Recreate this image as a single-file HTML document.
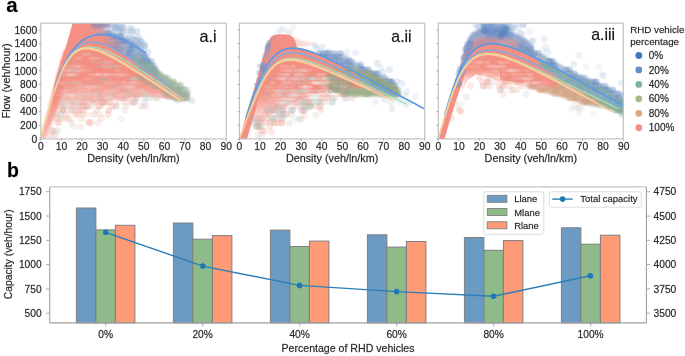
<!DOCTYPE html><html><head><meta charset="utf-8"><style>html,body{margin:0;padding:0;background:#fff;}svg{display:block;will-change:transform;filter:blur(0.35px)}text{font-family:"Liberation Sans",sans-serif;stroke:#262626;stroke-width:0.3px;stroke-opacity:0.6}</style></head><body>
<svg width="685" height="356" viewBox="0 0 685 356">
<rect width="685" height="356" fill="#fff"/>
<defs><filter id="b05" x="-10%" y="-10%" width="120%" height="120%"><feGaussianBlur stdDeviation="0.5"/></filter><filter id="b1" x="-20%" y="-20%" width="140%" height="140%"><feGaussianBlur stdDeviation="1.2"/></filter><filter id="b2" x="-20%" y="-20%" width="140%" height="140%"><feGaussianBlur stdDeviation="2.5"/></filter><clipPath id="c0"><rect x="40.8" y="23.2" width="185.4" height="115.7"/></clipPath><clipPath id="c1"><rect x="239.4" y="23.2" width="185.3" height="115.7"/></clipPath><clipPath id="c2"><rect x="438.3" y="23.2" width="185.0" height="115.7"/></clipPath></defs>
<text x="6.3" y="12.2" font-size="20.5" font-weight="bold" fill="#000">a</text>
<text x="7.1" y="177.3" font-size="19.5" font-weight="bold" fill="#000">b</text>
<defs><linearGradient id="h1b" gradientUnits="userSpaceOnUse" x1="92" y1="0" x2="146" y2="0"><stop offset="0.000" stop-color="#8aa3ca" stop-opacity="0.55"/><stop offset="0.333" stop-color="#8aa3ca" stop-opacity="0.3"/><stop offset="0.704" stop-color="#8aa3ca" stop-opacity="0.18"/><stop offset="1.000" stop-color="#8aa3ca" stop-opacity="0.1"/></linearGradient><linearGradient id="h1c" gradientUnits="userSpaceOnUse" x1="86" y1="0" x2="108" y2="0"><stop offset="0.000" stop-color="#f38f83" stop-opacity="1"/><stop offset="0.364" stop-color="#f38f83" stop-opacity="0.9"/><stop offset="0.727" stop-color="#f38f83" stop-opacity="0.55"/><stop offset="1.000" stop-color="#f38f83" stop-opacity="0.15"/></linearGradient><linearGradient id="g1" gradientUnits="userSpaceOnUse" x1="0" y1="55" x2="0" y2="112"><stop offset="0.000" stop-color="#f38f83" stop-opacity="1"/><stop offset="0.351" stop-color="#f38f83" stop-opacity="1"/><stop offset="0.526" stop-color="#f38f83" stop-opacity="0.9"/><stop offset="0.667" stop-color="#f38f83" stop-opacity="0.75"/><stop offset="0.789" stop-color="#f38f83" stop-opacity="0.5"/><stop offset="0.895" stop-color="#f38f83" stop-opacity="0.25"/><stop offset="1.000" stop-color="#f38f83" stop-opacity="0.05"/></linearGradient><linearGradient id="g1lb" gradientUnits="userSpaceOnUse" x1="0" y1="50" x2="0" y2="139"><stop offset="0.000" stop-color="#f38f83" stop-opacity="1"/><stop offset="0.506" stop-color="#f38f83" stop-opacity="1"/><stop offset="0.730" stop-color="#f38f83" stop-opacity="0.8"/><stop offset="1.000" stop-color="#f38f83" stop-opacity="0.6"/></linearGradient><linearGradient id="h1" gradientUnits="userSpaceOnUse" x1="80" y1="0" x2="130" y2="0"><stop offset="0.000" stop-color="#f38f83" stop-opacity="1"/><stop offset="0.400" stop-color="#f38f83" stop-opacity="1"/><stop offset="0.600" stop-color="#f38f83" stop-opacity="0.6"/><stop offset="0.800" stop-color="#f38f83" stop-opacity="0.25"/><stop offset="1.000" stop-color="#f38f83" stop-opacity="0"/></linearGradient><linearGradient id="h2" gradientUnits="userSpaceOnUse" x1="352" y1="0" x2="399" y2="0"><stop offset="0.000" stop-color="#80a39a" stop-opacity="0"/><stop offset="0.383" stop-color="#80a39a" stop-opacity="0.35"/><stop offset="1.000" stop-color="#80a39a" stop-opacity="0.5"/></linearGradient><linearGradient id="g2" gradientUnits="userSpaceOnUse" x1="0" y1="60" x2="0" y2="127"><stop offset="0.000" stop-color="#f38f83" stop-opacity="1"/><stop offset="0.418" stop-color="#f38f83" stop-opacity="1"/><stop offset="0.567" stop-color="#f38f83" stop-opacity="0.85"/><stop offset="0.687" stop-color="#f38f83" stop-opacity="0.65"/><stop offset="0.791" stop-color="#f38f83" stop-opacity="0.45"/><stop offset="0.896" stop-color="#f38f83" stop-opacity="0.22"/><stop offset="1.000" stop-color="#f38f83" stop-opacity="0.05"/></linearGradient><linearGradient id="h3" gradientUnits="userSpaceOnUse" x1="565" y1="0" x2="624" y2="0"><stop offset="0.000" stop-color="#84a89c" stop-opacity="0"/><stop offset="0.424" stop-color="#84a89c" stop-opacity="0.45"/><stop offset="1.000" stop-color="#84a89c" stop-opacity="0.6"/></linearGradient><linearGradient id="g3" gradientUnits="userSpaceOnUse" x1="0" y1="40" x2="0" y2="92"><stop offset="0.000" stop-color="#f38f83" stop-opacity="1"/><stop offset="0.538" stop-color="#f38f83" stop-opacity="1"/><stop offset="0.635" stop-color="#f38f83" stop-opacity="0.8"/><stop offset="0.731" stop-color="#f38f83" stop-opacity="0.5"/><stop offset="0.827" stop-color="#f38f83" stop-opacity="0.35"/><stop offset="0.923" stop-color="#f38f83" stop-opacity="0.2"/><stop offset="1.000" stop-color="#f38f83" stop-opacity="0.04"/></linearGradient></defs>
<g clip-path="url(#c0)">
<g fill-opacity="0.3">
<circle cx="99.8" cy="27.2" r="3.4" fill="#9db4d6"/>
<circle cx="131.8" cy="31.8" r="3.4" fill="#a3bcdc"/>
<circle cx="132.2" cy="39.4" r="3.4" fill="#8eaad0"/>
<circle cx="140.1" cy="40.6" r="3.4" fill="#95b0d4"/>
<circle cx="125.9" cy="38.5" r="3.4" fill="#a3bcdc"/>
<circle cx="121.2" cy="31.9" r="3.4" fill="#9db4d6"/>
<circle cx="119.2" cy="27.7" r="3.4" fill="#95b0d4"/>
<circle cx="132.4" cy="29.5" r="3.4" fill="#a3bcdc"/>
<circle cx="97.8" cy="29.4" r="3.4" fill="#8eaad0"/>
<circle cx="144.9" cy="45.3" r="3.4" fill="#9db4d6"/>
<circle cx="114.3" cy="23.5" r="3.4" fill="#a3bcdc"/>
<circle cx="99.0" cy="24.1" r="3.4" fill="#bccde6"/>
<circle cx="141.7" cy="41.8" r="3.4" fill="#9db4d6"/>
<circle cx="112.7" cy="33.2" r="3.4" fill="#a3bcdc"/>
<circle cx="100.8" cy="28.5" r="3.4" fill="#8eaad0"/>
<circle cx="121.2" cy="27.1" r="3.4" fill="#95b0d4"/>
<circle cx="101.0" cy="23.6" r="3.4" fill="#a3bcdc"/>
<circle cx="107.7" cy="33.1" r="3.4" fill="#b0c6e2"/>
<circle cx="119.5" cy="33.1" r="3.4" fill="#9db4d6"/>
<circle cx="136.1" cy="40.5" r="3.4" fill="#8eaad0"/>
<circle cx="115.4" cy="28.2" r="3.4" fill="#9db4d6"/>
<circle cx="109.2" cy="34.4" r="3.4" fill="#bccde6"/>
<circle cx="130.4" cy="28.1" r="3.4" fill="#a3bcdc"/>
<circle cx="122.9" cy="25.5" r="3.4" fill="#b0c6e2"/>
<circle cx="129.0" cy="30.4" r="3.4" fill="#b0c6e2"/>
<circle cx="98.1" cy="26.7" r="3.4" fill="#b0c6e2"/>
<circle cx="115.0" cy="27.2" r="3.4" fill="#a3bcdc"/>
<circle cx="113.0" cy="35.6" r="3.4" fill="#9db4d6"/>
<circle cx="148.0" cy="52.0" r="3.4" fill="#a3bcdc"/>
<circle cx="139.5" cy="44.9" r="3.4" fill="#8eaad0"/>
<circle cx="137.1" cy="31.6" r="3.4" fill="#8eaad0"/>
<circle cx="122.9" cy="32.1" r="3.4" fill="#95b0d4"/>
<circle cx="128.7" cy="42.3" r="3.4" fill="#bccde6"/>
<circle cx="132.4" cy="39.6" r="3.4" fill="#95b0d4"/>
<circle cx="101.2" cy="33.4" r="3.4" fill="#bccde6"/>
<circle cx="138.3" cy="43.4" r="3.4" fill="#8eaad0"/>
<circle cx="144.7" cy="47.2" r="3.4" fill="#95b0d4"/>
<circle cx="116.8" cy="27.9" r="3.4" fill="#9db4d6"/>
<circle cx="143.3" cy="45.1" r="3.4" fill="#9db4d6"/>
<circle cx="136.2" cy="40.9" r="3.4" fill="#a3bcdc"/>
<circle cx="138.3" cy="37.3" r="3.4" fill="#9db4d6"/>
<circle cx="116.0" cy="25.9" r="3.4" fill="#a3bcdc"/>
<circle cx="129.4" cy="37.6" r="3.4" fill="#b0c6e2"/>
<circle cx="123.0" cy="27.3" r="3.4" fill="#95b0d4"/>
<circle cx="105.2" cy="23.4" r="3.4" fill="#8eaad0"/>
</g>
<path d="M96.0,32.0 L98.1,31.7 L100.3,31.6 L102.4,31.6 L104.6,31.8 L106.7,32.0 L108.8,32.4 L111.0,32.9 L113.1,33.4 L115.2,34.1 L117.4,34.8 L119.5,35.6 L121.7,36.5 L123.8,37.4 L125.9,38.4 L128.1,39.5 L130.2,40.6 L132.3,41.7 L134.5,42.9 L136.6,44.2 L138.8,45.5 L140.9,47.4 L143.0,50.0 L145.2,52.7 L147.3,55.4 L149.4,58.2 L151.6,61.0 L153.7,63.8 L155.9,66.6 L158.0,69.5 L158.0,80.5 L155.9,79.0 L153.7,77.5 L151.6,76.0 L149.4,74.5 L147.3,73.1 L145.2,71.6 L143.0,70.1 L140.9,68.7 L138.8,67.2 L136.6,65.8 L134.5,64.4 L132.3,63.0 L130.2,61.6 L128.1,60.3 L125.9,58.9 L123.8,57.6 L121.7,56.3 L119.5,55.1 L117.4,53.9 L115.2,52.7 L113.1,51.6 L111.0,50.5 L108.8,49.5 L106.7,48.6 L104.6,47.8 L102.4,47.0 L100.3,46.4 L98.1,45.8 L96.0,45.4Z" fill="#7091bf" fill-opacity="0.7" filter="url(#b1)"/>
<g fill-opacity="0.3">
<circle cx="154.9" cy="73.6" r="3.3" fill="#7b9cc8"/>
<circle cx="156.8" cy="73.6" r="3.3" fill="#5f86bd"/>
<circle cx="143.8" cy="69.5" r="3.3" fill="#5a80b8"/>
<circle cx="145.1" cy="69.5" r="3.3" fill="#6b8fc0"/>
<circle cx="152.4" cy="69.5" r="3.3" fill="#6b8fc0"/>
<circle cx="154.7" cy="69.5" r="3.3" fill="#5f86bd"/>
<circle cx="136.5" cy="65.5" r="3.3" fill="#5a80b8"/>
<circle cx="139.3" cy="65.5" r="3.3" fill="#6b8fc0"/>
<circle cx="141.5" cy="65.5" r="3.3" fill="#7b9cc8"/>
<circle cx="142.8" cy="65.5" r="3.3" fill="#5f86bd"/>
<circle cx="147.7" cy="65.5" r="3.3" fill="#5a80b8"/>
<circle cx="153.3" cy="65.5" r="3.3" fill="#7b9cc8"/>
<circle cx="131.6" cy="61.4" r="3.3" fill="#5f86bd"/>
<circle cx="135.1" cy="61.4" r="3.3" fill="#5f86bd"/>
<circle cx="137.8" cy="61.4" r="3.3" fill="#7b9cc8"/>
<circle cx="140.2" cy="61.4" r="3.3" fill="#6b8fc0"/>
<circle cx="143.2" cy="61.4" r="3.3" fill="#5a80b8"/>
<circle cx="147.6" cy="61.4" r="3.3" fill="#5a80b8"/>
<circle cx="151.6" cy="61.4" r="3.3" fill="#6b8fc0"/>
<circle cx="124.8" cy="57.3" r="3.3" fill="#5f86bd"/>
<circle cx="128.1" cy="57.3" r="3.3" fill="#7b9cc8"/>
<circle cx="133.5" cy="57.3" r="3.3" fill="#7b9cc8"/>
<circle cx="135.4" cy="57.3" r="3.3" fill="#5f86bd"/>
<circle cx="143.9" cy="57.3" r="3.3" fill="#6b8fc0"/>
<circle cx="146.0" cy="57.3" r="3.3" fill="#7b9cc8"/>
<circle cx="119.0" cy="53.2" r="3.3" fill="#5f86bd"/>
<circle cx="128.2" cy="53.2" r="3.3" fill="#5f86bd"/>
<circle cx="129.9" cy="53.2" r="3.3" fill="#6b8fc0"/>
<circle cx="140.3" cy="53.2" r="3.3" fill="#7b9cc8"/>
<circle cx="109.3" cy="49.1" r="3.3" fill="#7b9cc8"/>
<circle cx="112.2" cy="49.1" r="3.3" fill="#6b8fc0"/>
<circle cx="114.2" cy="49.1" r="3.3" fill="#5a80b8"/>
<circle cx="115.9" cy="49.1" r="3.3" fill="#6b8fc0"/>
<circle cx="121.3" cy="49.1" r="3.3" fill="#5f86bd"/>
<circle cx="129.5" cy="49.1" r="3.3" fill="#7b9cc8"/>
<circle cx="130.6" cy="49.1" r="3.3" fill="#5f86bd"/>
<circle cx="132.8" cy="49.1" r="3.3" fill="#7b9cc8"/>
<circle cx="96.7" cy="45.1" r="3.3" fill="#5f86bd"/>
<circle cx="100.8" cy="45.1" r="3.3" fill="#6b8fc0"/>
<circle cx="103.3" cy="45.1" r="3.3" fill="#5f86bd"/>
<circle cx="104.9" cy="45.1" r="3.3" fill="#5f86bd"/>
<circle cx="107.4" cy="45.1" r="3.3" fill="#6b8fc0"/>
<circle cx="108.8" cy="45.1" r="3.3" fill="#6b8fc0"/>
<circle cx="111.6" cy="45.1" r="3.3" fill="#7b9cc8"/>
<circle cx="113.2" cy="45.1" r="3.3" fill="#6b8fc0"/>
<circle cx="115.5" cy="45.1" r="3.3" fill="#5a80b8"/>
<circle cx="117.1" cy="45.1" r="3.3" fill="#6b8fc0"/>
<circle cx="118.8" cy="45.1" r="3.3" fill="#7b9cc8"/>
<circle cx="132.4" cy="45.1" r="3.3" fill="#5a80b8"/>
<circle cx="96.3" cy="41.0" r="3.3" fill="#5a80b8"/>
<circle cx="98.4" cy="41.0" r="3.3" fill="#5f86bd"/>
<circle cx="100.7" cy="41.0" r="3.3" fill="#5a80b8"/>
<circle cx="106.6" cy="41.0" r="3.3" fill="#6b8fc0"/>
<circle cx="109.3" cy="41.0" r="3.3" fill="#7b9cc8"/>
<circle cx="116.1" cy="41.0" r="3.3" fill="#6b8fc0"/>
<circle cx="117.6" cy="41.0" r="3.3" fill="#7b9cc8"/>
<circle cx="120.5" cy="41.0" r="3.3" fill="#5f86bd"/>
<circle cx="123.4" cy="41.0" r="3.3" fill="#5f86bd"/>
<circle cx="125.9" cy="41.0" r="3.3" fill="#5f86bd"/>
<circle cx="98.3" cy="36.9" r="3.3" fill="#7b9cc8"/>
<circle cx="103.2" cy="36.9" r="3.3" fill="#6b8fc0"/>
<circle cx="104.7" cy="36.9" r="3.3" fill="#7b9cc8"/>
<circle cx="112.6" cy="36.9" r="3.3" fill="#5a80b8"/>
<circle cx="114.7" cy="36.9" r="3.3" fill="#5f86bd"/>
<circle cx="119.6" cy="36.9" r="3.3" fill="#5f86bd"/>
<circle cx="120.8" cy="36.9" r="3.3" fill="#5f86bd"/>
<circle cx="96.6" cy="32.8" r="3.3" fill="#5f86bd"/>
<circle cx="102.7" cy="32.8" r="3.3" fill="#6b8fc0"/>
<circle cx="107.4" cy="32.8" r="3.3" fill="#7b9cc8"/>
<circle cx="108.5" cy="32.8" r="3.3" fill="#5a80b8"/>
</g>
<path d="M92.0,23.0 L93.9,23.0 L95.7,23.0 L97.6,23.0 L99.4,23.0 L101.3,23.0 L103.2,23.0 L105.0,23.0 L106.9,23.0 L108.8,23.0 L110.6,23.0 L112.5,23.3 L114.3,23.8 L116.2,24.4 L118.1,25.0 L119.9,25.8 L121.8,26.5 L123.7,27.3 L125.5,28.2 L127.4,29.1 L129.2,30.1 L131.1,31.1 L133.0,32.1 L134.8,33.1 L136.7,34.2 L138.6,35.4 L140.4,36.5 L142.3,37.7 L144.1,38.9 L146.0,40.2 L146.0,53.2 L144.1,51.9 L142.3,50.7 L140.4,49.5 L138.6,48.4 L136.7,47.2 L134.8,46.1 L133.0,45.1 L131.1,44.1 L129.2,43.1 L127.4,42.1 L125.5,41.2 L123.7,40.3 L121.8,39.5 L119.9,38.8 L118.1,38.0 L116.2,37.4 L114.3,36.8 L112.5,36.3 L110.6,35.8 L108.8,35.4 L106.9,35.1 L105.0,34.8 L103.2,34.7 L101.3,34.6 L99.4,34.6 L97.6,34.8 L95.7,35.0 L93.9,35.4 L92.0,35.8Z" fill="url(#h1b)" fill-opacity="1" filter="url(#b1)"/>
<path d="M86.0,23.0 L104.0,23.0 L108.0,28.0 L108.0,35.2 L105.4,34.9 L102.9,34.6 L100.3,34.6 L97.7,34.7 L95.1,35.1 L92.6,35.7 L90.0,36.5Z" fill="url(#h1c)" fill-opacity="1" filter="url(#b1)"/>
<path d="M76.0,23.0 L110.0,23.0 L112.0,27.5 L92.0,28.5 L78.0,27.0Z" fill="#8582b6" fill-opacity="0.65" filter="url(#b1)"/>
<path d="M135.0,55.7 L136.9,56.9 L138.8,58.1 L140.7,59.2 L142.6,60.4 L144.5,61.6 L146.4,62.8 L148.3,64.1 L150.2,65.3 L152.1,66.5 L154.0,67.7 L155.9,69.0 L157.8,70.2 L159.7,71.5 L161.6,72.7 L163.4,74.0 L165.3,75.2 L167.2,76.5 L169.1,77.7 L171.0,79.0 L172.9,80.3 L174.8,81.5 L176.7,82.8 L178.6,84.1 L180.5,85.3 L182.4,86.6 L184.3,87.9 L186.2,89.1 L188.1,90.4 L190.0,91.7 L190.0,101.0 L188.1,101.0 L186.2,101.0 L184.3,101.0 L182.4,101.0 L180.5,101.0 L178.6,101.0 L176.7,101.0 L174.8,101.0 L172.9,99.8 L171.0,98.6 L169.1,97.3 L167.2,96.1 L165.3,94.8 L163.4,93.6 L161.6,92.3 L159.7,91.1 L157.8,89.9 L155.9,88.6 L154.0,87.4 L152.1,86.2 L150.2,84.9 L148.3,83.7 L146.4,82.5 L144.5,81.3 L142.6,80.0 L140.7,78.8 L138.8,77.6 L136.9,76.4 L135.0,75.2Z" fill="#8eab93" fill-opacity="0.8" filter="url(#b1)"/>
<g fill-opacity="0.35">
<circle cx="172.9" cy="87.1" r="3.4" fill="#c5d2c0"/>
<circle cx="183.8" cy="89.6" r="3.4" fill="#bccbd4"/>
<circle cx="181.0" cy="97.3" r="3.4" fill="#bccbd4"/>
<circle cx="167.8" cy="97.0" r="3.4" fill="#b8cbb8"/>
<circle cx="178.5" cy="95.2" r="3.4" fill="#d9d2c4"/>
<circle cx="191.8" cy="100.4" r="3.4" fill="#bccbd4"/>
<circle cx="176.6" cy="93.0" r="3.4" fill="#d9d2c4"/>
<circle cx="166.4" cy="86.3" r="3.4" fill="#d9d2c4"/>
<circle cx="177.6" cy="100.0" r="3.4" fill="#bccbd4"/>
<circle cx="187.6" cy="89.9" r="3.4" fill="#d9d2c4"/>
<circle cx="184.6" cy="90.5" r="3.4" fill="#d9d2c4"/>
<circle cx="174.5" cy="85.5" r="3.4" fill="#c5d2c0"/>
<circle cx="181.1" cy="84.9" r="3.4" fill="#d9d2c4"/>
<circle cx="179.8" cy="85.1" r="3.4" fill="#c5d2c0"/>
</g>
<path d="M40.8,139.0 L44.0,125.0 L48.0,110.0 L52.0,95.0 L55.5,80.0 L60.5,62.0 L63.0,55.7 L66.4,44.5 L69.8,33.2 L72.6,23.0 L90.0,23.0 L93.0,29.0 L95.0,36.1 L97.0,35.8 L99.0,35.6 L101.0,35.6 L106.0,45.3 L109.7,46.9 L113.4,48.7 L117.1,50.7 L120.7,52.8 L124.4,55.0 L128.1,57.3 L131.8,59.6 L135.5,62.0 L139.2,64.5 L142.8,67.0 L146.5,69.5 L150.2,72.1 L153.9,74.6 L157.6,77.2 L161.3,79.8 L164.9,82.4 L168.6,85.1 L172.3,87.7 L176.0,90.4 L182.0,93.0 L186.0,98.5 L185.0,101.0 L175.0,100.0 L160.0,98.0 L145.0,97.0 L130.0,98.0 L115.0,100.0 L100.0,102.0 L85.0,104.0 L72.0,107.0 L62.0,113.0 L55.0,122.0 L50.0,132.0 L47.0,139.0Z" fill="url(#g1)" fill-opacity="1" filter="url(#b05)"/>
<path d="M40.8,139.0 L44.0,125.0 L48.0,110.0 L52.0,95.0 L55.5,80.0 L60.5,62.0 L64.0,50.0 L72.0,50.0 L69.0,64.0 L66.0,80.0 L62.0,96.0 L56.5,112.0 L49.5,128.0 L45.0,139.0Z" fill="url(#g1lb)" fill-opacity="1" filter="url(#b1)"/>
<path d="M80.0,43.0 L82.1,41.4 L84.1,39.9 L86.2,38.7 L88.3,37.7 L90.3,36.9 L92.4,36.2 L94.5,35.7 L96.6,35.4 L98.6,35.2 L100.7,35.1 L102.8,35.1 L104.8,35.3 L106.9,35.6 L109.0,35.9 L111.0,36.4 L113.1,36.9 L115.2,37.5 L117.2,38.2 L119.3,39.0 L121.4,39.9 L123.4,40.7 L125.5,41.7 L127.6,42.7 L129.7,43.8 L131.7,44.9 L133.8,46.0 L135.9,47.2 L137.9,48.5 L140.0,49.8 L140.0,66.1 L137.9,64.7 L135.9,63.3 L133.8,61.9 L131.7,60.6 L129.7,59.3 L127.6,57.9 L125.5,56.7 L123.4,55.4 L121.4,54.2 L119.3,53.0 L117.2,51.8 L115.2,50.7 L113.1,49.6 L111.0,48.6 L109.0,47.6 L106.9,46.7 L104.8,45.9 L102.8,45.1 L100.7,44.5 L98.6,43.9 L96.6,43.5 L94.5,43.2 L92.4,43.1 L90.3,43.1 L88.3,43.3 L86.2,43.8 L84.1,44.4 L82.1,45.4 L80.0,46.6Z" fill="url(#h1)" fill-opacity="1" filter="url(#b05)"/>
<g fill-opacity="0.15" filter="url(#b05)">
<ellipse cx="107.1" cy="62.4" rx="6.7" ry="1.9" fill="#e8ece6"/>
<ellipse cx="140.5" cy="90.9" rx="3.5" ry="1.9" fill="#eef0f4"/>
<ellipse cx="65.2" cy="70.5" rx="5.9" ry="1.9" fill="#eef0f4"/>
<ellipse cx="107.1" cy="95.0" rx="6.6" ry="1.9" fill="#e8ece6"/>
<ellipse cx="96.2" cy="58.3" rx="4.7" ry="1.9" fill="#eef0f4"/>
<ellipse cx="77.6" cy="82.8" rx="4.9" ry="1.9" fill="#e8ece6"/>
<ellipse cx="62.6" cy="82.8" rx="4.5" ry="1.9" fill="#ffffff"/>
<ellipse cx="78.7" cy="95.0" rx="6.2" ry="1.9" fill="#ffffff"/>
<ellipse cx="74.1" cy="66.5" rx="5.6" ry="1.9" fill="#f6e8e6"/>
<ellipse cx="89.6" cy="86.9" rx="5.6" ry="1.9" fill="#f6e8e6"/>
<ellipse cx="148.9" cy="95.0" rx="3.6" ry="1.9" fill="#e8ece6"/>
<ellipse cx="141.5" cy="90.9" rx="4.6" ry="1.9" fill="#f6e8e6"/>
<ellipse cx="119.8" cy="74.6" rx="6.4" ry="1.9" fill="#ffffff"/>
<ellipse cx="79.8" cy="103.2" rx="6.2" ry="1.9" fill="#e8ece6"/>
<ellipse cx="105.0" cy="90.9" rx="5.5" ry="1.9" fill="#e8ece6"/>
<ellipse cx="67.5" cy="74.6" rx="7.0" ry="1.9" fill="#ffffff"/>
<ellipse cx="71.0" cy="74.6" rx="5.9" ry="1.9" fill="#eef0f4"/>
<ellipse cx="102.3" cy="74.6" rx="6.9" ry="1.9" fill="#ffffff"/>
<ellipse cx="116.0" cy="66.5" rx="6.0" ry="1.9" fill="#eef0f4"/>
<ellipse cx="113.7" cy="74.6" rx="3.3" ry="1.9" fill="#ffffff"/>
<ellipse cx="106.0" cy="82.8" rx="3.1" ry="1.9" fill="#eef0f4"/>
<ellipse cx="151.4" cy="95.0" rx="4.0" ry="1.9" fill="#f6e8e6"/>
<ellipse cx="80.0" cy="70.5" rx="4.2" ry="1.9" fill="#eef0f4"/>
<ellipse cx="157.3" cy="95.0" rx="5.5" ry="1.9" fill="#ffffff"/>
<ellipse cx="135.5" cy="90.9" rx="3.1" ry="1.9" fill="#ffffff"/>
<ellipse cx="119.9" cy="86.9" rx="4.2" ry="1.9" fill="#eef0f4"/>
<ellipse cx="81.7" cy="86.9" rx="6.0" ry="1.9" fill="#eef0f4"/>
<ellipse cx="134.0" cy="82.8" rx="5.8" ry="1.9" fill="#e8ece6"/>
<ellipse cx="134.7" cy="78.7" rx="4.7" ry="1.9" fill="#eef0f4"/>
<ellipse cx="148.4" cy="95.0" rx="6.4" ry="1.9" fill="#eef0f4"/>
<ellipse cx="69.8" cy="95.0" rx="5.8" ry="1.9" fill="#e8ece6"/>
<ellipse cx="91.3" cy="58.3" rx="3.0" ry="1.9" fill="#eef0f4"/>
<ellipse cx="73.3" cy="70.5" rx="6.5" ry="1.9" fill="#f6e8e6"/>
<ellipse cx="117.7" cy="70.5" rx="3.3" ry="1.9" fill="#e8ece6"/>
<ellipse cx="82.4" cy="95.0" rx="5.2" ry="1.9" fill="#e8ece6"/>
<ellipse cx="86.9" cy="90.9" rx="4.2" ry="1.9" fill="#f6e8e6"/>
<ellipse cx="99.3" cy="99.1" rx="6.5" ry="1.9" fill="#e8ece6"/>
<ellipse cx="131.1" cy="90.9" rx="3.6" ry="1.9" fill="#e8ece6"/>
<ellipse cx="70.2" cy="95.0" rx="4.2" ry="1.9" fill="#ffffff"/>
<ellipse cx="99.0" cy="95.0" rx="6.5" ry="1.9" fill="#eef0f4"/>
<ellipse cx="61.7" cy="95.0" rx="5.6" ry="1.9" fill="#f6e8e6"/>
<ellipse cx="107.9" cy="99.1" rx="4.6" ry="1.9" fill="#f6e8e6"/>
<ellipse cx="124.0" cy="82.8" rx="3.4" ry="1.9" fill="#ffffff"/>
<ellipse cx="93.3" cy="74.6" rx="6.4" ry="1.9" fill="#f6e8e6"/>
<ellipse cx="80.1" cy="90.9" rx="3.4" ry="1.9" fill="#e8ece6"/>
<ellipse cx="105.6" cy="74.6" rx="4.0" ry="1.9" fill="#eef0f4"/>
<ellipse cx="88.2" cy="78.7" rx="4.1" ry="1.9" fill="#f6e8e6"/>
<ellipse cx="123.2" cy="74.6" rx="6.9" ry="1.9" fill="#f6e8e6"/>
<ellipse cx="115.6" cy="90.9" rx="4.1" ry="1.9" fill="#e8ece6"/>
<ellipse cx="79.0" cy="58.3" rx="4.2" ry="1.9" fill="#eef0f4"/>
<ellipse cx="76.7" cy="74.6" rx="3.2" ry="1.9" fill="#e8ece6"/>
<ellipse cx="97.7" cy="74.6" rx="3.6" ry="1.9" fill="#ffffff"/>
<ellipse cx="74.6" cy="66.5" rx="5.8" ry="1.9" fill="#e8ece6"/>
<ellipse cx="99.7" cy="95.0" rx="3.6" ry="1.9" fill="#e8ece6"/>
<ellipse cx="98.5" cy="86.9" rx="5.4" ry="1.9" fill="#e8ece6"/>
<ellipse cx="86.0" cy="70.5" rx="6.1" ry="1.9" fill="#e8ece6"/>
<ellipse cx="80.6" cy="66.5" rx="4.1" ry="1.9" fill="#ffffff"/>
<ellipse cx="152.3" cy="99.1" rx="5.6" ry="1.9" fill="#e8ece6"/>
<ellipse cx="72.5" cy="74.6" rx="5.3" ry="1.9" fill="#e8ece6"/>
<ellipse cx="121.6" cy="95.0" rx="6.3" ry="1.9" fill="#ffffff"/>
<ellipse cx="86.1" cy="95.0" rx="4.4" ry="1.9" fill="#ffffff"/>
<ellipse cx="85.9" cy="54.2" rx="4.9" ry="1.9" fill="#f6e8e6"/>
<ellipse cx="129.3" cy="86.9" rx="4.8" ry="1.9" fill="#eef0f4"/>
<ellipse cx="108.0" cy="74.6" rx="4.4" ry="1.9" fill="#e8ece6"/>
<ellipse cx="62.1" cy="66.5" rx="6.1" ry="1.9" fill="#e8ece6"/>
<ellipse cx="91.6" cy="86.9" rx="6.0" ry="1.9" fill="#eef0f4"/>
<ellipse cx="127.7" cy="86.9" rx="5.8" ry="1.9" fill="#f6e8e6"/>
<ellipse cx="131.6" cy="86.9" rx="4.6" ry="1.9" fill="#e8ece6"/>
<ellipse cx="63.8" cy="90.9" rx="4.4" ry="1.9" fill="#eef0f4"/>
<ellipse cx="106.1" cy="66.5" rx="5.1" ry="1.9" fill="#ffffff"/>
<ellipse cx="77.9" cy="99.1" rx="4.7" ry="1.9" fill="#eef0f4"/>
<ellipse cx="134.5" cy="78.7" rx="4.0" ry="1.9" fill="#eef0f4"/>
<ellipse cx="112.3" cy="82.8" rx="6.8" ry="1.9" fill="#e8ece6"/>
<ellipse cx="89.2" cy="95.0" rx="5.6" ry="1.9" fill="#eef0f4"/>
<ellipse cx="132.0" cy="82.8" rx="4.2" ry="1.9" fill="#eef0f4"/>
<ellipse cx="75.4" cy="70.5" rx="6.7" ry="1.9" fill="#e8ece6"/>
<ellipse cx="76.0" cy="95.0" rx="6.2" ry="1.9" fill="#eef0f4"/>
<ellipse cx="68.0" cy="70.5" rx="3.4" ry="1.9" fill="#e8ece6"/>
<ellipse cx="135.6" cy="95.0" rx="6.0" ry="1.9" fill="#eef0f4"/>
<ellipse cx="110.7" cy="90.9" rx="4.9" ry="1.9" fill="#f6e8e6"/>
</g>
<g fill-opacity="0.18" filter="url(#b05)">
<ellipse cx="68.8" cy="82.8" rx="5.9" ry="1.9" fill="#c7b6a0"/>
<ellipse cx="86.7" cy="54.2" rx="3.6" ry="1.9" fill="#a9c2a8"/>
<ellipse cx="129.8" cy="95.0" rx="6.2" ry="1.9" fill="#a9c2a8"/>
<ellipse cx="133.9" cy="78.7" rx="4.8" ry="1.9" fill="#a9c2a8"/>
<ellipse cx="73.3" cy="70.5" rx="6.0" ry="1.9" fill="#a9c2a8"/>
<ellipse cx="115.7" cy="86.9" rx="7.0" ry="1.9" fill="#a9c2a8"/>
<ellipse cx="93.2" cy="62.4" rx="4.6" ry="1.9" fill="#c7b6a0"/>
<ellipse cx="97.7" cy="62.4" rx="3.3" ry="1.9" fill="#c7b6a0"/>
<ellipse cx="103.3" cy="82.8" rx="3.5" ry="1.9" fill="#a9c2a8"/>
<ellipse cx="87.8" cy="82.8" rx="4.1" ry="1.9" fill="#a9c2a8"/>
<ellipse cx="78.5" cy="95.0" rx="4.8" ry="1.9" fill="#9fb9c9"/>
<ellipse cx="113.1" cy="66.5" rx="6.7" ry="1.9" fill="#a9c2a8"/>
<ellipse cx="101.8" cy="78.7" rx="4.7" ry="1.9" fill="#9fb9c9"/>
<ellipse cx="100.8" cy="66.5" rx="6.6" ry="1.9" fill="#a9c2a8"/>
<ellipse cx="105.8" cy="78.7" rx="6.2" ry="1.9" fill="#a9c2a8"/>
<ellipse cx="65.0" cy="99.1" rx="6.7" ry="1.9" fill="#c7b6a0"/>
<ellipse cx="67.6" cy="86.9" rx="5.9" ry="1.9" fill="#c7b6a0"/>
<ellipse cx="80.9" cy="103.2" rx="6.8" ry="1.9" fill="#a9c2a8"/>
<ellipse cx="74.3" cy="62.4" rx="3.1" ry="1.9" fill="#9fb9c9"/>
<ellipse cx="124.5" cy="90.9" rx="4.7" ry="1.9" fill="#9fb9c9"/>
<ellipse cx="73.8" cy="99.1" rx="4.4" ry="1.9" fill="#c7b6a0"/>
<ellipse cx="97.8" cy="58.3" rx="4.6" ry="1.9" fill="#c7b6a0"/>
<ellipse cx="75.7" cy="82.8" rx="6.4" ry="1.9" fill="#a9c2a8"/>
<ellipse cx="145.2" cy="95.0" rx="6.0" ry="1.9" fill="#a9c2a8"/>
<ellipse cx="111.9" cy="66.5" rx="3.9" ry="1.9" fill="#c7b6a0"/>
<ellipse cx="74.1" cy="66.5" rx="3.3" ry="1.9" fill="#c7b6a0"/>
<ellipse cx="104.9" cy="62.4" rx="6.0" ry="1.9" fill="#a9c2a8"/>
<ellipse cx="130.2" cy="78.7" rx="4.6" ry="1.9" fill="#9fb9c9"/>
<ellipse cx="63.2" cy="107.3" rx="3.6" ry="1.9" fill="#9fb9c9"/>
<ellipse cx="134.1" cy="90.9" rx="6.7" ry="1.9" fill="#c7b6a0"/>
</g>
<g fill-opacity="0.35">
<circle cx="78.1" cy="114.4" r="3.4" fill="#f6b7ae"/>
<circle cx="71.7" cy="122.6" r="3.4" fill="#d9c6c0"/>
<circle cx="86.7" cy="106.3" r="3.4" fill="#f2b8b0"/>
<circle cx="135.1" cy="102.2" r="3.4" fill="#c4d6e4"/>
<circle cx="75.5" cy="114.4" r="3.4" fill="#f2b8b0"/>
<circle cx="62.1" cy="118.5" r="3.4" fill="#f6b7ae"/>
<circle cx="57.7" cy="122.6" r="3.4" fill="#f6b7ae"/>
<circle cx="86.2" cy="106.3" r="3.4" fill="#f6b7ae"/>
<circle cx="57.1" cy="118.5" r="3.4" fill="#f4a09a"/>
<circle cx="157.0" cy="98.1" r="3.4" fill="#d9c6c0"/>
<circle cx="80.8" cy="102.2" r="3.4" fill="#d9c6c0"/>
<circle cx="82.7" cy="114.4" r="3.4" fill="#e3c9b3"/>
<circle cx="103.6" cy="102.2" r="3.4" fill="#f4a09a"/>
<circle cx="86.1" cy="106.3" r="3.4" fill="#e3c9b3"/>
<circle cx="82.5" cy="102.2" r="3.4" fill="#f6b7ae"/>
<circle cx="120.5" cy="98.1" r="3.4" fill="#f4a09a"/>
<circle cx="134.0" cy="102.2" r="3.4" fill="#f2b8b0"/>
<circle cx="65.7" cy="114.4" r="3.4" fill="#f2b8b0"/>
<circle cx="150.7" cy="98.1" r="3.4" fill="#cddccd"/>
<circle cx="60.1" cy="114.4" r="3.4" fill="#c4d6e4"/>
<circle cx="145.3" cy="106.3" r="3.4" fill="#f2b8b0"/>
<circle cx="93.9" cy="114.4" r="3.4" fill="#f2b8b0"/>
<circle cx="51.9" cy="130.7" r="3.4" fill="#d9c6c0"/>
<circle cx="115.6" cy="106.3" r="3.4" fill="#d9c6c0"/>
<circle cx="66.3" cy="118.5" r="3.4" fill="#f2b8b0"/>
<circle cx="54.2" cy="134.8" r="3.4" fill="#d9c6c0"/>
<circle cx="90.3" cy="106.3" r="3.4" fill="#cddccd"/>
<circle cx="102.1" cy="102.2" r="3.4" fill="#f2b8b0"/>
<circle cx="103.8" cy="102.2" r="3.4" fill="#e3c9b3"/>
<circle cx="109.3" cy="102.2" r="3.4" fill="#f2b8b0"/>
<circle cx="74.8" cy="106.3" r="3.4" fill="#cddccd"/>
<circle cx="144.6" cy="102.2" r="3.4" fill="#c4d6e4"/>
<circle cx="62.5" cy="110.3" r="3.4" fill="#f2b8b0"/>
<circle cx="57.3" cy="114.4" r="3.4" fill="#f2b8b0"/>
<circle cx="146.0" cy="98.1" r="3.4" fill="#c4d6e4"/>
<circle cx="112.2" cy="106.3" r="3.4" fill="#f2b8b0"/>
<circle cx="132.7" cy="102.2" r="3.4" fill="#d9c6c0"/>
<circle cx="88.8" cy="106.3" r="3.4" fill="#f6b7ae"/>
<circle cx="82.7" cy="110.3" r="3.4" fill="#f4a09a"/>
<circle cx="71.1" cy="110.3" r="3.4" fill="#f2b8b0"/>
<circle cx="99.9" cy="98.1" r="3.4" fill="#f4a09a"/>
<circle cx="69.0" cy="118.5" r="3.4" fill="#e3c9b3"/>
<circle cx="101.9" cy="102.2" r="3.4" fill="#d9c6c0"/>
<circle cx="92.0" cy="98.1" r="3.4" fill="#f6b7ae"/>
<circle cx="123.9" cy="98.1" r="3.4" fill="#d9c6c0"/>
<circle cx="63.5" cy="106.3" r="3.4" fill="#e3c9b3"/>
<circle cx="96.9" cy="110.3" r="3.4" fill="#e3c9b3"/>
<circle cx="55.9" cy="130.7" r="3.4" fill="#c4d6e4"/>
<circle cx="64.1" cy="106.3" r="3.4" fill="#cddccd"/>
<circle cx="108.8" cy="110.3" r="3.4" fill="#f4a09a"/>
<circle cx="141.5" cy="106.3" r="3.4" fill="#d9c6c0"/>
<circle cx="49.9" cy="134.8" r="3.4" fill="#f6b7ae"/>
<circle cx="134.6" cy="98.1" r="3.4" fill="#c4d6e4"/>
<circle cx="52.5" cy="130.7" r="3.4" fill="#f2b8b0"/>
<circle cx="98.6" cy="106.3" r="3.4" fill="#f4a09a"/>
</g>
<g fill-opacity="0.25">
<circle cx="89.2" cy="122.6" r="3.4" fill="#e3c9b3"/>
<circle cx="56.1" cy="134.8" r="3.4" fill="#e3c9b3"/>
<circle cx="87.2" cy="114.4" r="3.4" fill="#f6b7ae"/>
<circle cx="80.2" cy="110.3" r="3.4" fill="#e3c9b3"/>
<circle cx="90.8" cy="122.6" r="3.4" fill="#f6b7ae"/>
<circle cx="124.8" cy="110.3" r="3.4" fill="#d9c6c0"/>
<circle cx="90.5" cy="122.6" r="3.4" fill="#f6b7ae"/>
<circle cx="60.5" cy="118.5" r="3.4" fill="#cddccd"/>
<circle cx="81.3" cy="118.5" r="3.4" fill="#f2b8b0"/>
<circle cx="101.4" cy="118.5" r="3.4" fill="#e3c9b3"/>
<circle cx="116.4" cy="106.3" r="3.4" fill="#f6b7ae"/>
<circle cx="108.1" cy="114.4" r="3.4" fill="#f4a09a"/>
<circle cx="99.8" cy="114.4" r="3.4" fill="#e3c9b3"/>
<circle cx="80.1" cy="126.7" r="3.4" fill="#f2b8b0"/>
<circle cx="58.0" cy="130.7" r="3.4" fill="#cddccd"/>
<circle cx="58.9" cy="122.6" r="3.4" fill="#f2b8b0"/>
<circle cx="126.0" cy="106.3" r="3.4" fill="#e3c9b3"/>
<circle cx="97.6" cy="122.6" r="3.4" fill="#f2b8b0"/>
<circle cx="120.9" cy="118.5" r="3.4" fill="#cddccd"/>
<circle cx="73.2" cy="126.7" r="3.4" fill="#cddccd"/>
<circle cx="60.3" cy="114.4" r="3.4" fill="#d9c6c0"/>
<circle cx="88.2" cy="122.6" r="3.4" fill="#f2b8b0"/>
</g>
<g fill-opacity="0.22">
<circle cx="62.0" cy="110.3" r="3.3" fill="#d4c4b8"/>
<circle cx="63.6" cy="110.3" r="3.3" fill="#f28f84"/>
<circle cx="70.1" cy="110.3" r="3.3" fill="#d4c4b8"/>
<circle cx="72.5" cy="110.3" r="3.3" fill="#c9d6d0"/>
<circle cx="75.4" cy="110.3" r="3.3" fill="#f28f84"/>
<circle cx="78.4" cy="110.3" r="3.3" fill="#f4a09a"/>
<circle cx="60.5" cy="106.3" r="3.3" fill="#f4a09a"/>
<circle cx="62.7" cy="106.3" r="3.3" fill="#c9d6d0"/>
<circle cx="70.7" cy="106.3" r="3.3" fill="#f4a09a"/>
<circle cx="74.1" cy="106.3" r="3.3" fill="#d4c4b8"/>
<circle cx="77.2" cy="106.3" r="3.3" fill="#c9d6d0"/>
<circle cx="78.4" cy="106.3" r="3.3" fill="#f6b0a8"/>
<circle cx="80.9" cy="106.3" r="3.3" fill="#f28f84"/>
<circle cx="82.6" cy="106.3" r="3.3" fill="#f6b0a8"/>
<circle cx="85.2" cy="106.3" r="3.3" fill="#eba59c"/>
<circle cx="101.2" cy="106.3" r="3.3" fill="#f3998e"/>
<circle cx="60.8" cy="102.2" r="3.3" fill="#c9d6d0"/>
<circle cx="62.6" cy="102.2" r="3.3" fill="#eba59c"/>
<circle cx="65.7" cy="102.2" r="3.3" fill="#c9d6d0"/>
<circle cx="70.9" cy="102.2" r="3.3" fill="#d4c4b8"/>
<circle cx="73.6" cy="102.2" r="3.3" fill="#eba59c"/>
<circle cx="83.7" cy="102.2" r="3.3" fill="#f4a09a"/>
<circle cx="90.9" cy="102.2" r="3.3" fill="#c9d6d0"/>
<circle cx="93.2" cy="102.2" r="3.3" fill="#f6b0a8"/>
<circle cx="94.7" cy="102.2" r="3.3" fill="#eba59c"/>
<circle cx="96.7" cy="102.2" r="3.3" fill="#f3998e"/>
<circle cx="102.8" cy="102.2" r="3.3" fill="#eba59c"/>
<circle cx="106.4" cy="102.2" r="3.3" fill="#f3998e"/>
<circle cx="108.9" cy="102.2" r="3.3" fill="#f4a09a"/>
<circle cx="115.2" cy="102.2" r="3.3" fill="#f4a09a"/>
<circle cx="120.1" cy="102.2" r="3.3" fill="#c9d6d0"/>
<circle cx="125.5" cy="102.2" r="3.3" fill="#f28f84"/>
<circle cx="131.1" cy="102.2" r="3.3" fill="#f4a09a"/>
<circle cx="133.8" cy="102.2" r="3.3" fill="#c9d6d0"/>
<circle cx="66.8" cy="98.1" r="3.3" fill="#eba59c"/>
<circle cx="77.4" cy="98.1" r="3.3" fill="#f6b0a8"/>
<circle cx="79.4" cy="98.1" r="3.3" fill="#eba59c"/>
<circle cx="84.3" cy="98.1" r="3.3" fill="#d4c4b8"/>
<circle cx="85.9" cy="98.1" r="3.3" fill="#f3998e"/>
<circle cx="89.4" cy="98.1" r="3.3" fill="#f4a09a"/>
<circle cx="91.9" cy="98.1" r="3.3" fill="#f4a09a"/>
<circle cx="99.2" cy="98.1" r="3.3" fill="#d4c4b8"/>
<circle cx="101.5" cy="98.1" r="3.3" fill="#f3998e"/>
<circle cx="108.3" cy="98.1" r="3.3" fill="#c9d6d0"/>
<circle cx="123.3" cy="98.1" r="3.3" fill="#eba59c"/>
<circle cx="126.2" cy="98.1" r="3.3" fill="#d4c4b8"/>
<circle cx="127.4" cy="98.1" r="3.3" fill="#f4a09a"/>
<circle cx="134.5" cy="98.1" r="3.3" fill="#f6b0a8"/>
<circle cx="137.3" cy="98.1" r="3.3" fill="#f28f84"/>
<circle cx="145.6" cy="98.1" r="3.3" fill="#c9d6d0"/>
<circle cx="156.3" cy="98.1" r="3.3" fill="#d4c4b8"/>
<circle cx="76.4" cy="94.0" r="3.3" fill="#f6b0a8"/>
<circle cx="83.7" cy="94.0" r="3.3" fill="#f3998e"/>
<circle cx="90.8" cy="94.0" r="3.3" fill="#f6b0a8"/>
<circle cx="94.5" cy="94.0" r="3.3" fill="#d4c4b8"/>
<circle cx="97.3" cy="94.0" r="3.3" fill="#c9d6d0"/>
<circle cx="100.1" cy="94.0" r="3.3" fill="#f28f84"/>
<circle cx="110.9" cy="94.0" r="3.3" fill="#d4c4b8"/>
<circle cx="114.1" cy="94.0" r="3.3" fill="#d4c4b8"/>
<circle cx="115.4" cy="94.0" r="3.3" fill="#f3998e"/>
<circle cx="128.7" cy="94.0" r="3.3" fill="#d4c4b8"/>
<circle cx="132.8" cy="94.0" r="3.3" fill="#f6b0a8"/>
<circle cx="134.7" cy="94.0" r="3.3" fill="#eba59c"/>
<circle cx="139.1" cy="94.0" r="3.3" fill="#f4a09a"/>
<circle cx="142.4" cy="94.0" r="3.3" fill="#c9d6d0"/>
<circle cx="144.2" cy="94.0" r="3.3" fill="#d4c4b8"/>
<circle cx="146.8" cy="94.0" r="3.3" fill="#d4c4b8"/>
<circle cx="152.8" cy="94.0" r="3.3" fill="#f28f84"/>
</g>
<g fill-opacity="0.3">
<circle cx="176.6" cy="98.1" r="3.3" fill="#a3b8a0"/>
<circle cx="181.1" cy="98.1" r="3.3" fill="#a3b8a0"/>
<circle cx="185.9" cy="98.1" r="3.3" fill="#9db59b"/>
<circle cx="164.4" cy="94.0" r="3.3" fill="#9db59b"/>
<circle cx="167.8" cy="94.0" r="3.3" fill="#8fae94"/>
<circle cx="171.8" cy="94.0" r="3.3" fill="#a3b8a0"/>
<circle cx="176.5" cy="94.0" r="3.3" fill="#88a8a0"/>
<circle cx="182.6" cy="94.0" r="3.3" fill="#88a8a0"/>
<circle cx="185.6" cy="94.0" r="3.3" fill="#88a8a0"/>
<circle cx="169.7" cy="89.9" r="3.3" fill="#8fae94"/>
<circle cx="170.9" cy="89.9" r="3.3" fill="#9db59b"/>
<circle cx="172.7" cy="89.9" r="3.3" fill="#8fae94"/>
<circle cx="178.3" cy="89.9" r="3.3" fill="#88a8a0"/>
<circle cx="179.6" cy="89.9" r="3.3" fill="#8fae94"/>
<circle cx="183.1" cy="89.9" r="3.3" fill="#a3b8a0"/>
<circle cx="185.0" cy="89.9" r="3.3" fill="#9db59b"/>
<circle cx="154.0" cy="85.9" r="3.3" fill="#9db59b"/>
<circle cx="156.0" cy="85.9" r="3.3" fill="#9db59b"/>
<circle cx="158.4" cy="85.9" r="3.3" fill="#9db59b"/>
<circle cx="165.1" cy="85.9" r="3.3" fill="#88a8a0"/>
<circle cx="169.9" cy="85.9" r="3.3" fill="#9db59b"/>
<circle cx="171.9" cy="85.9" r="3.3" fill="#8fae94"/>
<circle cx="173.7" cy="85.9" r="3.3" fill="#8fae94"/>
<circle cx="175.8" cy="85.9" r="3.3" fill="#a3b8a0"/>
<circle cx="180.1" cy="85.9" r="3.3" fill="#88a8a0"/>
<circle cx="145.5" cy="81.8" r="3.3" fill="#8fae94"/>
<circle cx="150.2" cy="81.8" r="3.3" fill="#8fae94"/>
<circle cx="151.5" cy="81.8" r="3.3" fill="#88a8a0"/>
<circle cx="157.8" cy="81.8" r="3.3" fill="#8fae94"/>
<circle cx="160.7" cy="81.8" r="3.3" fill="#a3b8a0"/>
<circle cx="164.5" cy="81.8" r="3.3" fill="#9db59b"/>
<circle cx="172.8" cy="81.8" r="3.3" fill="#9db59b"/>
<circle cx="174.2" cy="81.8" r="3.3" fill="#9db59b"/>
<circle cx="139.2" cy="77.7" r="3.3" fill="#88a8a0"/>
<circle cx="142.5" cy="77.7" r="3.3" fill="#8fae94"/>
<circle cx="155.7" cy="77.7" r="3.3" fill="#8fae94"/>
<circle cx="158.8" cy="77.7" r="3.3" fill="#a3b8a0"/>
<circle cx="162.2" cy="77.7" r="3.3" fill="#9db59b"/>
<circle cx="165.1" cy="77.7" r="3.3" fill="#9db59b"/>
<circle cx="167.9" cy="77.7" r="3.3" fill="#a3b8a0"/>
<circle cx="141.0" cy="73.6" r="3.3" fill="#8fae94"/>
<circle cx="144.1" cy="73.6" r="3.3" fill="#88a8a0"/>
<circle cx="145.8" cy="73.6" r="3.3" fill="#a3b8a0"/>
<circle cx="150.3" cy="73.6" r="3.3" fill="#8fae94"/>
<circle cx="159.3" cy="73.6" r="3.3" fill="#9db59b"/>
<circle cx="136.5" cy="69.5" r="3.3" fill="#a3b8a0"/>
<circle cx="138.9" cy="69.5" r="3.3" fill="#8fae94"/>
<circle cx="140.5" cy="69.5" r="3.3" fill="#8fae94"/>
<circle cx="145.1" cy="69.5" r="3.3" fill="#88a8a0"/>
<circle cx="146.3" cy="69.5" r="3.3" fill="#88a8a0"/>
<circle cx="149.6" cy="69.5" r="3.3" fill="#88a8a0"/>
<circle cx="156.0" cy="69.5" r="3.3" fill="#9db59b"/>
<circle cx="139.5" cy="65.5" r="3.3" fill="#9db59b"/>
<circle cx="142.5" cy="65.5" r="3.3" fill="#8fae94"/>
<circle cx="146.1" cy="65.5" r="3.3" fill="#8fae94"/>
<circle cx="149.2" cy="65.5" r="3.3" fill="#9db59b"/>
<circle cx="135.5" cy="61.4" r="3.3" fill="#9db59b"/>
<circle cx="138.5" cy="61.4" r="3.3" fill="#88a8a0"/>
<circle cx="135.8" cy="57.3" r="3.3" fill="#a3b8a0"/>
</g>
</g>
<g clip-path="url(#c1)">
<g fill-opacity="0.25">
<circle cx="314.9" cy="45.6" r="3.4" fill="#95b0d4"/>
<circle cx="317.1" cy="48.7" r="3.4" fill="#a3bcdc"/>
<circle cx="402.1" cy="83.2" r="3.4" fill="#b0c6e2"/>
<circle cx="375.9" cy="73.3" r="3.4" fill="#b0c6e2"/>
<circle cx="352.4" cy="64.8" r="3.4" fill="#95b0d4"/>
<circle cx="380.9" cy="68.0" r="3.4" fill="#bccde6"/>
<circle cx="366.3" cy="72.4" r="3.4" fill="#bccde6"/>
<circle cx="392.5" cy="87.3" r="3.4" fill="#a3bcdc"/>
<circle cx="361.4" cy="68.1" r="3.4" fill="#a3bcdc"/>
<circle cx="362.4" cy="70.7" r="3.4" fill="#a3bcdc"/>
<circle cx="369.3" cy="74.8" r="3.4" fill="#bccde6"/>
<circle cx="351.3" cy="65.8" r="3.4" fill="#b0c6e2"/>
<circle cx="372.3" cy="74.3" r="3.4" fill="#95b0d4"/>
<circle cx="389.5" cy="69.6" r="3.4" fill="#95b0d4"/>
<circle cx="345.6" cy="63.0" r="3.4" fill="#a3bcdc"/>
<circle cx="355.4" cy="52.8" r="3.4" fill="#b0c6e2"/>
<circle cx="338.7" cy="59.6" r="3.4" fill="#a3bcdc"/>
<circle cx="377.4" cy="63.3" r="3.4" fill="#95b0d4"/>
<circle cx="364.2" cy="72.8" r="3.4" fill="#a3bcdc"/>
<circle cx="383.0" cy="72.3" r="3.4" fill="#a3bcdc"/>
<circle cx="369.0" cy="73.2" r="3.4" fill="#bccde6"/>
<circle cx="346.9" cy="51.9" r="3.4" fill="#bccde6"/>
<circle cx="321.8" cy="47.5" r="3.4" fill="#a3bcdc"/>
<circle cx="397.2" cy="81.6" r="3.4" fill="#a3bcdc"/>
<circle cx="361.1" cy="63.8" r="3.4" fill="#a3bcdc"/>
<circle cx="328.5" cy="52.0" r="3.4" fill="#b0c6e2"/>
</g>
<g fill-opacity="0.2">
<circle cx="276.8" cy="33.6" r="3.4" fill="#bccde6"/>
<circle cx="289.2" cy="33.1" r="3.4" fill="#f4c4c0"/>
<circle cx="288.8" cy="31.9" r="3.4" fill="#b0c6e2"/>
<circle cx="282.8" cy="29.4" r="3.4" fill="#b0c6e2"/>
<circle cx="293.0" cy="27.5" r="3.4" fill="#bccde6"/>
<circle cx="280.3" cy="30.5" r="3.4" fill="#bccde6"/>
</g>
<path d="M318.0,52.0 L320.8,51.8 L323.5,51.5 L326.3,51.3 L329.0,51.1 L331.8,51.3 L334.6,51.8 L337.3,52.2 L340.1,52.7 L342.8,53.5 L345.6,55.0 L348.3,56.5 L351.1,58.0 L353.9,59.7 L356.6,61.9 L359.4,64.2 L362.1,66.1 L364.9,67.4 L367.7,68.8 L370.4,70.2 L373.2,71.3 L375.9,72.5 L378.7,73.6 L381.4,74.8 L384.2,76.0 L387.0,77.3 L389.7,78.5 L392.5,79.8 L395.2,82.7 L398.0,86.0 L398.0,97.8 L395.2,96.3 L392.5,94.8 L389.7,93.3 L387.0,91.9 L384.2,90.4 L381.4,89.0 L378.7,87.5 L375.9,86.0 L373.2,84.6 L370.4,83.1 L367.7,81.7 L364.9,80.2 L362.1,78.8 L359.4,77.4 L356.6,75.9 L353.9,74.5 L351.1,73.1 L348.3,71.7 L345.6,70.3 L342.8,68.9 L340.1,67.6 L337.3,66.2 L334.6,64.9 L331.8,63.6 L329.0,62.3 L326.3,61.0 L323.5,59.8 L320.8,58.6 L318.0,57.5Z" fill="#7090bc" fill-opacity="0.5" filter="url(#b1)"/>
<g fill-opacity="0.3">
<circle cx="391.7" cy="94.0" r="3.3" fill="#5a80b8"/>
<circle cx="395.2" cy="94.0" r="3.3" fill="#5f86bd"/>
<circle cx="397.6" cy="94.0" r="3.3" fill="#5a80b8"/>
<circle cx="385.1" cy="89.9" r="3.3" fill="#7b9cc8"/>
<circle cx="387.6" cy="89.9" r="3.3" fill="#7b9cc8"/>
<circle cx="389.9" cy="89.9" r="3.3" fill="#5a80b8"/>
<circle cx="392.9" cy="89.9" r="3.3" fill="#5a80b8"/>
<circle cx="394.9" cy="89.9" r="3.3" fill="#5a80b8"/>
<circle cx="375.9" cy="85.9" r="3.3" fill="#6b8fc0"/>
<circle cx="377.8" cy="85.9" r="3.3" fill="#6b8fc0"/>
<circle cx="379.4" cy="85.9" r="3.3" fill="#5a80b8"/>
<circle cx="381.4" cy="85.9" r="3.3" fill="#6b8fc0"/>
<circle cx="384.8" cy="85.9" r="3.3" fill="#5a80b8"/>
<circle cx="386.2" cy="85.9" r="3.3" fill="#5f86bd"/>
<circle cx="390.8" cy="85.9" r="3.3" fill="#7b9cc8"/>
<circle cx="394.6" cy="85.9" r="3.3" fill="#6b8fc0"/>
<circle cx="370.8" cy="81.8" r="3.3" fill="#5a80b8"/>
<circle cx="372.2" cy="81.8" r="3.3" fill="#6b8fc0"/>
<circle cx="377.4" cy="81.8" r="3.3" fill="#5f86bd"/>
<circle cx="380.3" cy="81.8" r="3.3" fill="#5f86bd"/>
<circle cx="386.9" cy="81.8" r="3.3" fill="#6b8fc0"/>
<circle cx="389.7" cy="81.8" r="3.3" fill="#7b9cc8"/>
<circle cx="390.1" cy="81.8" r="3.3" fill="#6b8fc0"/>
<circle cx="392.1" cy="81.8" r="3.3" fill="#5f86bd"/>
<circle cx="360.4" cy="77.7" r="3.3" fill="#5a80b8"/>
<circle cx="367.2" cy="77.7" r="3.3" fill="#5a80b8"/>
<circle cx="369.9" cy="77.7" r="3.3" fill="#6b8fc0"/>
<circle cx="371.7" cy="77.7" r="3.3" fill="#7b9cc8"/>
<circle cx="375.9" cy="77.7" r="3.3" fill="#5a80b8"/>
<circle cx="384.6" cy="77.7" r="3.3" fill="#5f86bd"/>
<circle cx="358.1" cy="73.6" r="3.3" fill="#5a80b8"/>
<circle cx="360.4" cy="73.6" r="3.3" fill="#5f86bd"/>
<circle cx="368.2" cy="73.6" r="3.3" fill="#6b8fc0"/>
<circle cx="369.8" cy="73.6" r="3.3" fill="#7b9cc8"/>
<circle cx="372.3" cy="73.6" r="3.3" fill="#7b9cc8"/>
<circle cx="375.4" cy="73.6" r="3.3" fill="#5f86bd"/>
<circle cx="378.2" cy="73.6" r="3.3" fill="#5f86bd"/>
<circle cx="344.7" cy="69.5" r="3.3" fill="#7b9cc8"/>
<circle cx="346.8" cy="69.5" r="3.3" fill="#6b8fc0"/>
<circle cx="356.1" cy="69.5" r="3.3" fill="#6b8fc0"/>
<circle cx="362.8" cy="69.5" r="3.3" fill="#5a80b8"/>
<circle cx="363.6" cy="69.5" r="3.3" fill="#7b9cc8"/>
<circle cx="367.1" cy="69.5" r="3.3" fill="#7b9cc8"/>
<circle cx="368.9" cy="69.5" r="3.3" fill="#7b9cc8"/>
<circle cx="338.0" cy="65.5" r="3.3" fill="#5a80b8"/>
<circle cx="340.4" cy="65.5" r="3.3" fill="#7b9cc8"/>
<circle cx="344.5" cy="65.5" r="3.3" fill="#6b8fc0"/>
<circle cx="349.7" cy="65.5" r="3.3" fill="#6b8fc0"/>
<circle cx="351.4" cy="65.5" r="3.3" fill="#7b9cc8"/>
<circle cx="360.1" cy="65.5" r="3.3" fill="#5a80b8"/>
<circle cx="334.9" cy="61.4" r="3.3" fill="#6b8fc0"/>
<circle cx="339.3" cy="61.4" r="3.3" fill="#5f86bd"/>
<circle cx="343.8" cy="61.4" r="3.3" fill="#5a80b8"/>
<circle cx="346.8" cy="61.4" r="3.3" fill="#7b9cc8"/>
<circle cx="349.6" cy="61.4" r="3.3" fill="#5a80b8"/>
<circle cx="319.5" cy="57.3" r="3.3" fill="#6b8fc0"/>
<circle cx="321.7" cy="57.3" r="3.3" fill="#5a80b8"/>
<circle cx="324.5" cy="57.3" r="3.3" fill="#6b8fc0"/>
<circle cx="326.5" cy="57.3" r="3.3" fill="#5f86bd"/>
<circle cx="329.7" cy="57.3" r="3.3" fill="#6b8fc0"/>
<circle cx="332.2" cy="57.3" r="3.3" fill="#6b8fc0"/>
<circle cx="333.6" cy="57.3" r="3.3" fill="#7b9cc8"/>
<circle cx="335.9" cy="57.3" r="3.3" fill="#5f86bd"/>
<circle cx="339.3" cy="57.3" r="3.3" fill="#6b8fc0"/>
<circle cx="319.5" cy="53.2" r="3.3" fill="#5f86bd"/>
<circle cx="323.3" cy="53.2" r="3.3" fill="#5a80b8"/>
<circle cx="326.8" cy="53.2" r="3.3" fill="#6b8fc0"/>
<circle cx="328.9" cy="53.2" r="3.3" fill="#7b9cc8"/>
<circle cx="334.3" cy="53.2" r="3.3" fill="#7b9cc8"/>
<circle cx="340.4" cy="53.2" r="3.3" fill="#5f86bd"/>
</g>
<path d="M352.0,64.5 L353.6,65.4 L355.2,66.5 L356.9,67.6 L358.5,68.7 L360.1,69.8 L361.7,70.7 L363.3,71.5 L365.0,72.4 L366.6,73.2 L368.2,74.0 L369.8,74.9 L371.4,75.6 L373.1,76.4 L374.7,77.2 L376.3,77.9 L377.9,78.7 L379.6,79.5 L381.2,80.2 L382.8,81.0 L384.4,81.8 L386.0,82.6 L387.7,83.4 L389.3,84.2 L390.9,85.0 L392.5,85.8 L394.1,87.0 L395.8,88.4 L397.4,89.8 L399.0,90.6 L399.0,96.3 L397.4,95.4 L395.8,94.6 L394.1,93.7 L392.5,92.8 L390.9,92.0 L389.3,91.1 L387.7,90.2 L386.0,89.4 L384.4,88.5 L382.8,87.7 L381.2,86.8 L379.6,85.9 L377.9,85.1 L376.3,84.2 L374.7,83.4 L373.1,82.5 L371.4,81.7 L369.8,80.8 L368.2,80.0 L366.6,79.1 L365.0,78.3 L363.3,77.4 L361.7,76.6 L360.1,75.7 L358.5,74.9 L356.9,74.1 L355.2,73.2 L353.6,72.4 L352.0,71.6Z" fill="url(#h2)" fill-opacity="1" filter="url(#b1)"/>
<path d="M328.0,60.8 L330.4,61.9 L332.9,63.1 L335.3,64.3 L337.8,65.5 L340.2,66.6 L342.7,67.0 L345.1,67.4 L347.6,67.9 L350.0,68.3 L352.5,68.8 L354.9,69.3 L357.4,69.7 L359.8,70.2 L362.3,70.7 L364.7,71.2 L367.2,71.7 L369.6,72.7 L372.1,74.0 L374.5,75.3 L377.0,76.6 L379.4,77.9 L381.9,79.2 L384.3,80.5 L386.8,81.8 L389.2,83.1 L391.7,84.4 L394.1,85.7 L396.6,87.0 L399.0,88.3 L399.0,96.5 L396.6,96.5 L394.1,96.5 L391.7,96.5 L389.2,96.5 L386.8,96.5 L384.3,96.5 L381.9,96.5 L379.4,96.5 L377.0,96.5 L374.5,96.5 L372.1,96.5 L369.6,96.5 L367.2,96.5 L364.7,96.5 L362.3,96.5 L359.8,96.5 L357.4,96.5 L354.9,96.5 L352.5,96.5 L350.0,96.5 L347.6,95.7 L345.1,94.8 L342.7,94.0 L340.2,93.2 L337.8,92.3 L335.3,91.5 L332.9,90.7 L330.4,89.8 L328.0,89.0Z" fill="#94a681" fill-opacity="0.85" filter="url(#b1)"/>
<g fill-opacity="0.33">
<circle cx="375.4" cy="102.1" r="3.4" fill="#d6e0ea"/>
<circle cx="402.6" cy="99.9" r="3.4" fill="#d6e0ea"/>
<circle cx="384.5" cy="98.6" r="3.4" fill="#cfdccf"/>
<circle cx="392.1" cy="108.7" r="3.4" fill="#c9d6e6"/>
<circle cx="399.2" cy="93.4" r="3.4" fill="#cfdccf"/>
<circle cx="405.7" cy="95.7" r="3.4" fill="#cfdccf"/>
<circle cx="380.3" cy="94.7" r="3.4" fill="#cfdccf"/>
<circle cx="390.9" cy="102.5" r="3.4" fill="#cfdccf"/>
<circle cx="405.8" cy="104.7" r="3.4" fill="#cfdccf"/>
<circle cx="385.0" cy="99.8" r="3.4" fill="#d6e0ea"/>
<circle cx="399.2" cy="101.8" r="3.4" fill="#d6e0ea"/>
<circle cx="398.7" cy="96.8" r="3.4" fill="#c9d6e6"/>
<circle cx="406.4" cy="91.7" r="3.4" fill="#c9d6e6"/>
<circle cx="415.2" cy="96.5" r="3.4" fill="#d6e0ea"/>
<circle cx="410.2" cy="102.4" r="3.4" fill="#d6e0ea"/>
<circle cx="393.5" cy="98.8" r="3.4" fill="#cfdccf"/>
</g>
<path d="M239.4,139.0 L247.0,112.0 L255.3,85.0 L259.8,68.8 L263.6,54.5 L267.4,43.5 L271.2,36.8 L274.0,35.0 L279.0,34.2 L285.0,34.2 L290.0,35.2 L293.0,37.5 L295.5,41.5 L297.0,47.4 L300.5,48.0 L303.9,48.8 L307.4,49.7 L310.9,50.8 L314.4,52.1 L317.8,53.4 L321.3,54.9 L324.8,56.4 L328.2,57.9 L331.7,59.5 L335.2,61.2 L338.6,62.9 L342.1,64.6 L345.6,66.3 L349.1,68.1 L352.5,69.8 L356.0,71.6 L360.0,82.0 L363.0,88.0 L350.0,89.0 L335.0,90.0 L320.0,93.0 L305.0,98.0 L290.0,104.0 L278.0,110.0 L268.0,117.0 L260.0,124.0 L253.0,131.0 L248.0,139.0Z" fill="url(#g2)" fill-opacity="1" filter="url(#b05)"/>
<path d="M239.4,139.0 L247.0,112.0 L255.3,85.0 L259.8,68.8 L263.4,56.0 L269.0,56.0 L265.5,70.0 L262.0,86.0 L255.5,110.0 L247.0,139.0Z" fill="#f38f83" fill-opacity="1" filter="url(#b05)"/>
<path d="M290.0,36.0 L300.0,40.0 L316.0,44.0 L302.0,47.0 L292.0,45.0Z" fill="#f38f83" fill-opacity="0.35" filter="url(#b1)"/>
<g fill-opacity="0.35">
<circle cx="256.5" cy="84.3" r="2.6" fill="#7f9acb"/>
<circle cx="258.8" cy="79.5" r="2.6" fill="#8aa3cf"/>
<circle cx="266.8" cy="48.8" r="2.6" fill="#6f8fc4"/>
<circle cx="269.0" cy="46.8" r="2.6" fill="#8aa3cf"/>
<circle cx="262.5" cy="67.9" r="2.6" fill="#6f8fc4"/>
<circle cx="262.4" cy="65.5" r="2.6" fill="#7f9acb"/>
<circle cx="267.7" cy="49.7" r="2.6" fill="#7f9acb"/>
<circle cx="267.7" cy="46.3" r="2.6" fill="#6f8fc4"/>
<circle cx="262.9" cy="69.4" r="2.6" fill="#6f8fc4"/>
<circle cx="259.6" cy="66.2" r="2.6" fill="#7f9acb"/>
<circle cx="263.0" cy="68.9" r="2.6" fill="#6f8fc4"/>
<circle cx="263.0" cy="63.9" r="2.6" fill="#7f9acb"/>
<circle cx="267.2" cy="52.0" r="2.6" fill="#8aa3cf"/>
<circle cx="258.7" cy="72.4" r="2.6" fill="#7f9acb"/>
<circle cx="267.5" cy="46.3" r="2.6" fill="#7f9acb"/>
<circle cx="264.1" cy="65.2" r="2.6" fill="#6f8fc4"/>
<circle cx="268.6" cy="42.7" r="2.6" fill="#6f8fc4"/>
<circle cx="267.1" cy="55.8" r="2.6" fill="#7f9acb"/>
</g>
<path d="M262.0,56.0 L266.0,45.0 L271.0,37.0 L276.0,36.0 L272.0,44.0 L267.0,56.0 L263.0,66.0Z" fill="#9a94c0" fill-opacity="0.25" filter="url(#b1)"/>
<g fill-opacity="0.15" filter="url(#b05)">
<ellipse cx="307.7" cy="82.8" rx="6.5" ry="1.9" fill="#ffffff"/>
<ellipse cx="313.5" cy="78.7" rx="3.6" ry="1.9" fill="#eef0f4"/>
<ellipse cx="303.3" cy="70.5" rx="3.6" ry="1.9" fill="#f6e8e6"/>
<ellipse cx="326.6" cy="86.9" rx="4.7" ry="1.9" fill="#eef0f4"/>
<ellipse cx="279.5" cy="99.1" rx="4.6" ry="1.9" fill="#e8ece6"/>
<ellipse cx="315.1" cy="99.1" rx="5.5" ry="1.9" fill="#ffffff"/>
<ellipse cx="343.7" cy="86.9" rx="4.8" ry="1.9" fill="#e8ece6"/>
<ellipse cx="298.5" cy="90.9" rx="4.2" ry="1.9" fill="#e8ece6"/>
<ellipse cx="270.4" cy="90.9" rx="4.7" ry="1.9" fill="#e8ece6"/>
<ellipse cx="270.6" cy="111.3" rx="3.1" ry="1.9" fill="#ffffff"/>
<ellipse cx="285.8" cy="82.8" rx="4.6" ry="1.9" fill="#e8ece6"/>
<ellipse cx="290.1" cy="103.2" rx="4.3" ry="1.9" fill="#f6e8e6"/>
<ellipse cx="290.5" cy="86.9" rx="5.0" ry="1.9" fill="#f6e8e6"/>
<ellipse cx="338.9" cy="86.9" rx="6.0" ry="1.9" fill="#eef0f4"/>
<ellipse cx="302.0" cy="74.6" rx="6.1" ry="1.9" fill="#e8ece6"/>
<ellipse cx="293.3" cy="66.5" rx="3.1" ry="1.9" fill="#ffffff"/>
<ellipse cx="317.2" cy="82.8" rx="4.0" ry="1.9" fill="#e8ece6"/>
<ellipse cx="287.6" cy="74.6" rx="3.5" ry="1.9" fill="#ffffff"/>
<ellipse cx="318.5" cy="82.8" rx="5.3" ry="1.9" fill="#e8ece6"/>
<ellipse cx="318.8" cy="82.8" rx="6.4" ry="1.9" fill="#e8ece6"/>
<ellipse cx="328.5" cy="82.8" rx="3.7" ry="1.9" fill="#ffffff"/>
<ellipse cx="293.9" cy="78.7" rx="3.5" ry="1.9" fill="#e8ece6"/>
<ellipse cx="272.9" cy="82.8" rx="3.7" ry="1.9" fill="#f6e8e6"/>
<ellipse cx="282.1" cy="78.7" rx="5.1" ry="1.9" fill="#e8ece6"/>
<ellipse cx="285.3" cy="103.2" rx="6.5" ry="1.9" fill="#f6e8e6"/>
<ellipse cx="281.9" cy="86.9" rx="6.5" ry="1.9" fill="#ffffff"/>
<ellipse cx="285.6" cy="103.2" rx="3.9" ry="1.9" fill="#ffffff"/>
<ellipse cx="317.2" cy="82.8" rx="6.8" ry="1.9" fill="#f6e8e6"/>
<ellipse cx="291.4" cy="70.5" rx="5.1" ry="1.9" fill="#f6e8e6"/>
<ellipse cx="291.5" cy="95.0" rx="4.8" ry="1.9" fill="#eef0f4"/>
<ellipse cx="283.2" cy="107.3" rx="6.3" ry="1.9" fill="#f6e8e6"/>
<ellipse cx="305.6" cy="86.9" rx="3.5" ry="1.9" fill="#ffffff"/>
<ellipse cx="279.4" cy="78.7" rx="5.1" ry="1.9" fill="#eef0f4"/>
<ellipse cx="306.6" cy="90.9" rx="3.3" ry="1.9" fill="#f6e8e6"/>
<ellipse cx="308.7" cy="86.9" rx="4.8" ry="1.9" fill="#f6e8e6"/>
<ellipse cx="313.5" cy="95.0" rx="6.0" ry="1.9" fill="#e8ece6"/>
<ellipse cx="303.5" cy="86.9" rx="3.1" ry="1.9" fill="#f6e8e6"/>
<ellipse cx="292.8" cy="90.9" rx="4.4" ry="1.9" fill="#eef0f4"/>
<ellipse cx="273.7" cy="99.1" rx="4.7" ry="1.9" fill="#f6e8e6"/>
<ellipse cx="315.3" cy="95.0" rx="6.9" ry="1.9" fill="#e8ece6"/>
<ellipse cx="322.8" cy="90.9" rx="5.7" ry="1.9" fill="#f6e8e6"/>
<ellipse cx="319.3" cy="95.0" rx="4.3" ry="1.9" fill="#f6e8e6"/>
<ellipse cx="281.4" cy="74.6" rx="4.7" ry="1.9" fill="#f6e8e6"/>
<ellipse cx="323.3" cy="95.0" rx="5.4" ry="1.9" fill="#eef0f4"/>
<ellipse cx="301.5" cy="70.5" rx="6.8" ry="1.9" fill="#eef0f4"/>
<ellipse cx="284.9" cy="107.3" rx="5.1" ry="1.9" fill="#e8ece6"/>
<ellipse cx="294.5" cy="78.7" rx="5.9" ry="1.9" fill="#ffffff"/>
<ellipse cx="280.0" cy="103.2" rx="3.4" ry="1.9" fill="#e8ece6"/>
<ellipse cx="298.5" cy="70.5" rx="4.6" ry="1.9" fill="#eef0f4"/>
<ellipse cx="323.1" cy="78.7" rx="5.5" ry="1.9" fill="#eef0f4"/>
<ellipse cx="282.7" cy="78.7" rx="3.6" ry="1.9" fill="#eef0f4"/>
<ellipse cx="284.6" cy="66.5" rx="5.0" ry="1.9" fill="#ffffff"/>
<ellipse cx="311.9" cy="95.0" rx="3.0" ry="1.9" fill="#f6e8e6"/>
<ellipse cx="312.7" cy="95.0" rx="4.9" ry="1.9" fill="#ffffff"/>
<ellipse cx="308.1" cy="95.0" rx="6.9" ry="1.9" fill="#f6e8e6"/>
<ellipse cx="294.3" cy="90.9" rx="5.1" ry="1.9" fill="#e8ece6"/>
<ellipse cx="304.5" cy="90.9" rx="3.3" ry="1.9" fill="#e8ece6"/>
<ellipse cx="282.7" cy="95.0" rx="4.8" ry="1.9" fill="#ffffff"/>
<ellipse cx="287.0" cy="78.7" rx="5.5" ry="1.9" fill="#ffffff"/>
<ellipse cx="289.0" cy="107.3" rx="5.3" ry="1.9" fill="#e8ece6"/>
<ellipse cx="268.2" cy="119.5" rx="3.4" ry="1.9" fill="#ffffff"/>
<ellipse cx="276.5" cy="95.0" rx="5.1" ry="1.9" fill="#e8ece6"/>
<ellipse cx="282.4" cy="99.1" rx="4.2" ry="1.9" fill="#f6e8e6"/>
<ellipse cx="337.4" cy="86.9" rx="5.9" ry="1.9" fill="#f6e8e6"/>
<ellipse cx="313.9" cy="82.8" rx="3.7" ry="1.9" fill="#f6e8e6"/>
<ellipse cx="282.2" cy="111.3" rx="6.8" ry="1.9" fill="#e8ece6"/>
<ellipse cx="323.5" cy="78.7" rx="6.3" ry="1.9" fill="#e8ece6"/>
<ellipse cx="306.5" cy="70.5" rx="5.6" ry="1.9" fill="#f6e8e6"/>
<ellipse cx="273.5" cy="111.3" rx="3.5" ry="1.9" fill="#f6e8e6"/>
<ellipse cx="314.8" cy="78.7" rx="6.0" ry="1.9" fill="#f6e8e6"/>
<ellipse cx="271.2" cy="111.3" rx="3.9" ry="1.9" fill="#e8ece6"/>
<ellipse cx="324.3" cy="86.9" rx="5.4" ry="1.9" fill="#f6e8e6"/>
<ellipse cx="286.3" cy="99.1" rx="5.6" ry="1.9" fill="#f6e8e6"/>
<ellipse cx="331.5" cy="82.8" rx="6.0" ry="1.9" fill="#ffffff"/>
<ellipse cx="276.6" cy="95.0" rx="6.4" ry="1.9" fill="#e8ece6"/>
<ellipse cx="278.2" cy="103.2" rx="3.1" ry="1.9" fill="#ffffff"/>
<ellipse cx="343.6" cy="86.9" rx="6.2" ry="1.9" fill="#f6e8e6"/>
<ellipse cx="269.6" cy="86.9" rx="5.1" ry="1.9" fill="#f6e8e6"/>
<ellipse cx="286.5" cy="70.5" rx="5.9" ry="1.9" fill="#ffffff"/>
<ellipse cx="284.7" cy="74.6" rx="5.1" ry="1.9" fill="#ffffff"/>
</g>
<g fill-opacity="0.18" filter="url(#b05)">
<ellipse cx="329.8" cy="78.7" rx="3.2" ry="1.9" fill="#c7b6a0"/>
<ellipse cx="288.6" cy="78.7" rx="4.1" ry="1.9" fill="#9fb9c9"/>
<ellipse cx="301.0" cy="90.9" rx="4.9" ry="1.9" fill="#9fb9c9"/>
<ellipse cx="336.4" cy="86.9" rx="3.4" ry="1.9" fill="#c7b6a0"/>
<ellipse cx="324.6" cy="82.8" rx="5.6" ry="1.9" fill="#c7b6a0"/>
<ellipse cx="303.3" cy="82.8" rx="3.7" ry="1.9" fill="#a9c2a8"/>
<ellipse cx="296.5" cy="103.2" rx="3.6" ry="1.9" fill="#c7b6a0"/>
<ellipse cx="282.4" cy="90.9" rx="5.5" ry="1.9" fill="#9fb9c9"/>
<ellipse cx="284.6" cy="95.0" rx="4.6" ry="1.9" fill="#9fb9c9"/>
<ellipse cx="289.1" cy="66.5" rx="3.5" ry="1.9" fill="#c7b6a0"/>
<ellipse cx="331.2" cy="78.7" rx="4.5" ry="1.9" fill="#9fb9c9"/>
<ellipse cx="332.9" cy="78.7" rx="6.2" ry="1.9" fill="#c7b6a0"/>
<ellipse cx="267.5" cy="95.0" rx="3.8" ry="1.9" fill="#9fb9c9"/>
<ellipse cx="299.5" cy="82.8" rx="3.1" ry="1.9" fill="#a9c2a8"/>
<ellipse cx="320.3" cy="74.6" rx="4.4" ry="1.9" fill="#c7b6a0"/>
<ellipse cx="311.2" cy="74.6" rx="3.6" ry="1.9" fill="#c7b6a0"/>
<ellipse cx="280.3" cy="103.2" rx="3.1" ry="1.9" fill="#c7b6a0"/>
<ellipse cx="306.9" cy="78.7" rx="6.2" ry="1.9" fill="#a9c2a8"/>
<ellipse cx="268.3" cy="86.9" rx="5.0" ry="1.9" fill="#c7b6a0"/>
<ellipse cx="336.7" cy="86.9" rx="4.2" ry="1.9" fill="#a9c2a8"/>
<ellipse cx="271.3" cy="78.7" rx="4.8" ry="1.9" fill="#9fb9c9"/>
<ellipse cx="311.8" cy="78.7" rx="3.9" ry="1.9" fill="#9fb9c9"/>
<ellipse cx="323.5" cy="86.9" rx="5.6" ry="1.9" fill="#c7b6a0"/>
<ellipse cx="284.4" cy="74.6" rx="6.5" ry="1.9" fill="#9fb9c9"/>
<ellipse cx="339.6" cy="86.9" rx="5.7" ry="1.9" fill="#c7b6a0"/>
<ellipse cx="297.0" cy="95.0" rx="4.8" ry="1.9" fill="#c7b6a0"/>
<ellipse cx="299.9" cy="90.9" rx="4.9" ry="1.9" fill="#a9c2a8"/>
<ellipse cx="315.8" cy="95.0" rx="5.1" ry="1.9" fill="#a9c2a8"/>
<ellipse cx="288.7" cy="90.9" rx="3.4" ry="1.9" fill="#a9c2a8"/>
<ellipse cx="279.3" cy="90.9" rx="4.5" ry="1.9" fill="#9fb9c9"/>
</g>
<g fill-opacity="0.22" filter="url(#b05)">
<ellipse cx="321.9" cy="82.8" rx="6.5" ry="1.9" fill="#c8d4dc"/>
<ellipse cx="289.1" cy="103.2" rx="6.0" ry="1.9" fill="#c8d4dc"/>
<ellipse cx="337.8" cy="82.8" rx="5.8" ry="1.9" fill="#c8d4dc"/>
<ellipse cx="336.0" cy="86.9" rx="4.3" ry="1.9" fill="#c8d4dc"/>
<ellipse cx="314.5" cy="90.9" rx="6.9" ry="1.9" fill="#e9eef2"/>
<ellipse cx="295.2" cy="82.8" rx="6.8" ry="1.9" fill="#dfe6ea"/>
<ellipse cx="307.1" cy="90.9" rx="3.9" ry="1.9" fill="#dfe6ea"/>
<ellipse cx="340.7" cy="86.9" rx="5.9" ry="1.9" fill="#e9eef2"/>
<ellipse cx="316.9" cy="95.0" rx="5.7" ry="1.9" fill="#ffffff"/>
<ellipse cx="330.4" cy="90.9" rx="5.1" ry="1.9" fill="#c8d4dc"/>
<ellipse cx="328.8" cy="78.7" rx="6.7" ry="1.9" fill="#e9eef2"/>
<ellipse cx="330.4" cy="78.7" rx="5.2" ry="1.9" fill="#c8d4dc"/>
<ellipse cx="312.2" cy="78.7" rx="4.1" ry="1.9" fill="#dfe6ea"/>
<ellipse cx="306.4" cy="99.1" rx="4.5" ry="1.9" fill="#e9eef2"/>
<ellipse cx="296.4" cy="95.0" rx="4.2" ry="1.9" fill="#ffffff"/>
<ellipse cx="280.2" cy="90.9" rx="7.0" ry="1.9" fill="#ffffff"/>
<ellipse cx="328.0" cy="90.9" rx="6.4" ry="1.9" fill="#dfe6ea"/>
<ellipse cx="311.1" cy="95.0" rx="4.2" ry="1.9" fill="#ffffff"/>
<ellipse cx="291.9" cy="95.0" rx="5.4" ry="1.9" fill="#e9eef2"/>
<ellipse cx="296.5" cy="74.6" rx="4.2" ry="1.9" fill="#dfe6ea"/>
<ellipse cx="303.1" cy="99.1" rx="4.1" ry="1.9" fill="#c8d4dc"/>
<ellipse cx="287.4" cy="99.1" rx="6.1" ry="1.9" fill="#e9eef2"/>
<ellipse cx="301.8" cy="86.9" rx="4.8" ry="1.9" fill="#e9eef2"/>
<ellipse cx="295.0" cy="95.0" rx="5.7" ry="1.9" fill="#e9eef2"/>
<ellipse cx="325.1" cy="82.8" rx="6.6" ry="1.9" fill="#ffffff"/>
<ellipse cx="278.2" cy="90.9" rx="3.1" ry="1.9" fill="#dfe6ea"/>
<ellipse cx="325.4" cy="78.7" rx="4.1" ry="1.9" fill="#dfe6ea"/>
<ellipse cx="281.2" cy="103.2" rx="5.0" ry="1.9" fill="#ffffff"/>
<ellipse cx="327.7" cy="78.7" rx="3.3" ry="1.9" fill="#dfe6ea"/>
<ellipse cx="307.5" cy="86.9" rx="4.6" ry="1.9" fill="#ffffff"/>
<ellipse cx="321.0" cy="74.6" rx="5.0" ry="1.9" fill="#e9eef2"/>
<ellipse cx="306.1" cy="95.0" rx="5.9" ry="1.9" fill="#ffffff"/>
<ellipse cx="313.7" cy="78.7" rx="5.1" ry="1.9" fill="#c8d4dc"/>
<ellipse cx="296.5" cy="90.9" rx="3.1" ry="1.9" fill="#c8d4dc"/>
<ellipse cx="286.4" cy="103.2" rx="6.1" ry="1.9" fill="#ffffff"/>
<ellipse cx="294.0" cy="99.1" rx="5.7" ry="1.9" fill="#e9eef2"/>
<ellipse cx="289.7" cy="90.9" rx="3.5" ry="1.9" fill="#dfe6ea"/>
<ellipse cx="285.1" cy="82.8" rx="5.1" ry="1.9" fill="#dfe6ea"/>
<ellipse cx="303.7" cy="90.9" rx="5.3" ry="1.9" fill="#c8d4dc"/>
<ellipse cx="302.1" cy="90.9" rx="5.5" ry="1.9" fill="#c8d4dc"/>
<ellipse cx="292.1" cy="99.1" rx="6.1" ry="1.9" fill="#dfe6ea"/>
<ellipse cx="343.5" cy="82.8" rx="3.2" ry="1.9" fill="#c8d4dc"/>
<ellipse cx="316.0" cy="82.8" rx="4.7" ry="1.9" fill="#ffffff"/>
<ellipse cx="306.9" cy="78.7" rx="6.0" ry="1.9" fill="#c8d4dc"/>
<ellipse cx="322.7" cy="90.9" rx="4.6" ry="1.9" fill="#c8d4dc"/>
<ellipse cx="299.6" cy="78.7" rx="6.1" ry="1.9" fill="#e9eef2"/>
<ellipse cx="289.7" cy="99.1" rx="6.2" ry="1.9" fill="#dfe6ea"/>
<ellipse cx="299.6" cy="74.6" rx="4.8" ry="1.9" fill="#dfe6ea"/>
<ellipse cx="337.0" cy="86.9" rx="5.9" ry="1.9" fill="#c8d4dc"/>
<ellipse cx="329.1" cy="90.9" rx="4.2" ry="1.9" fill="#dfe6ea"/>
</g>
<g fill-opacity="0.33">
<circle cx="319.8" cy="98.1" r="3.4" fill="#d9c6c0"/>
<circle cx="300.6" cy="106.3" r="3.4" fill="#e3c9b3"/>
<circle cx="324.2" cy="102.2" r="3.4" fill="#f2b8b0"/>
<circle cx="310.2" cy="106.3" r="3.4" fill="#cddccd"/>
<circle cx="261.7" cy="134.8" r="3.4" fill="#f6b7ae"/>
<circle cx="272.9" cy="122.6" r="3.4" fill="#f2b8b0"/>
<circle cx="302.9" cy="106.3" r="3.4" fill="#d9c6c0"/>
<circle cx="291.5" cy="110.3" r="3.4" fill="#e3c9b3"/>
<circle cx="302.4" cy="110.3" r="3.4" fill="#d9c6c0"/>
<circle cx="320.3" cy="106.3" r="3.4" fill="#e3c9b3"/>
<circle cx="283.0" cy="110.3" r="3.4" fill="#cddccd"/>
<circle cx="279.8" cy="114.4" r="3.4" fill="#f6b7ae"/>
<circle cx="334.7" cy="98.1" r="3.4" fill="#d9c6c0"/>
<circle cx="301.8" cy="110.3" r="3.4" fill="#f4a09a"/>
<circle cx="274.0" cy="122.6" r="3.4" fill="#f2b8b0"/>
<circle cx="276.9" cy="118.5" r="3.4" fill="#e3c9b3"/>
<circle cx="343.2" cy="94.0" r="3.4" fill="#f4a09a"/>
<circle cx="285.6" cy="114.4" r="3.4" fill="#d9c6c0"/>
<circle cx="257.8" cy="134.8" r="3.4" fill="#cddccd"/>
<circle cx="291.2" cy="114.4" r="3.4" fill="#e3c9b3"/>
<circle cx="297.0" cy="106.3" r="3.4" fill="#c4d6e4"/>
<circle cx="345.2" cy="98.1" r="3.4" fill="#d9c6c0"/>
<circle cx="331.5" cy="102.2" r="3.4" fill="#cddccd"/>
<circle cx="309.8" cy="106.3" r="3.4" fill="#f4a09a"/>
<circle cx="304.8" cy="110.3" r="3.4" fill="#f4a09a"/>
<circle cx="277.9" cy="114.4" r="3.4" fill="#f2b8b0"/>
<circle cx="270.1" cy="122.6" r="3.4" fill="#f2b8b0"/>
<circle cx="261.2" cy="130.7" r="3.4" fill="#f6b7ae"/>
<circle cx="308.2" cy="106.3" r="3.4" fill="#cddccd"/>
<circle cx="346.5" cy="98.1" r="3.4" fill="#c4d6e4"/>
<circle cx="309.9" cy="102.2" r="3.4" fill="#cddccd"/>
<circle cx="264.0" cy="130.7" r="3.4" fill="#f4a09a"/>
<circle cx="274.0" cy="122.6" r="3.4" fill="#f6b7ae"/>
<circle cx="281.3" cy="118.5" r="3.4" fill="#d9c6c0"/>
<circle cx="286.2" cy="114.4" r="3.4" fill="#f6b7ae"/>
<circle cx="315.6" cy="106.3" r="3.4" fill="#e3c9b3"/>
<circle cx="260.1" cy="122.6" r="3.4" fill="#c4d6e4"/>
<circle cx="352.2" cy="98.1" r="3.4" fill="#f2b8b0"/>
<circle cx="259.3" cy="126.7" r="3.4" fill="#cddccd"/>
<circle cx="278.2" cy="114.4" r="3.4" fill="#d9c6c0"/>
<circle cx="318.8" cy="106.3" r="3.4" fill="#f2b8b0"/>
<circle cx="266.1" cy="122.6" r="3.4" fill="#f4a09a"/>
<circle cx="270.0" cy="126.7" r="3.4" fill="#f2b8b0"/>
<circle cx="327.6" cy="98.1" r="3.4" fill="#d9c6c0"/>
<circle cx="291.4" cy="110.3" r="3.4" fill="#c4d6e4"/>
</g>
<g fill-opacity="0.35">
<circle cx="332.5" cy="102.2" r="3.4" fill="#b9c8d8"/>
<circle cx="277.3" cy="106.3" r="3.4" fill="#a9bfa9"/>
<circle cx="259.0" cy="122.6" r="3.4" fill="#b9c8d8"/>
<circle cx="275.1" cy="110.3" r="3.4" fill="#b5c5b0"/>
<circle cx="283.2" cy="114.4" r="3.4" fill="#a9bfa9"/>
<circle cx="267.3" cy="110.3" r="3.4" fill="#aebfcf"/>
<circle cx="256.7" cy="126.7" r="3.4" fill="#a9bfa9"/>
<circle cx="318.1" cy="102.2" r="3.4" fill="#c0c9b8"/>
<circle cx="306.5" cy="102.2" r="3.4" fill="#b5c5b0"/>
<circle cx="304.9" cy="102.2" r="3.4" fill="#aebfcf"/>
<circle cx="281.5" cy="110.3" r="3.4" fill="#b9c8d8"/>
<circle cx="274.4" cy="118.5" r="3.4" fill="#b9c8d8"/>
<circle cx="281.9" cy="110.3" r="3.4" fill="#b9c8d8"/>
<circle cx="268.0" cy="110.3" r="3.4" fill="#c0c9b8"/>
<circle cx="257.1" cy="126.7" r="3.4" fill="#b5c5b0"/>
<circle cx="271.6" cy="110.3" r="3.4" fill="#aebfcf"/>
<circle cx="271.6" cy="118.5" r="3.4" fill="#aebfcf"/>
<circle cx="304.1" cy="110.3" r="3.4" fill="#b9c8d8"/>
<circle cx="304.6" cy="106.3" r="3.4" fill="#a9bfa9"/>
<circle cx="320.4" cy="102.2" r="3.4" fill="#b5c5b0"/>
<circle cx="303.9" cy="102.2" r="3.4" fill="#c0c9b8"/>
<circle cx="292.5" cy="110.3" r="3.4" fill="#aebfcf"/>
<circle cx="268.5" cy="110.3" r="3.4" fill="#c0c9b8"/>
<circle cx="272.4" cy="118.5" r="3.4" fill="#c0c9b8"/>
<circle cx="332.6" cy="98.1" r="3.4" fill="#c0c9b8"/>
<circle cx="313.2" cy="102.2" r="3.4" fill="#a9bfa9"/>
<circle cx="282.1" cy="118.5" r="3.4" fill="#c0c9b8"/>
<circle cx="261.1" cy="118.5" r="3.4" fill="#b5c5b0"/>
<circle cx="310.5" cy="106.3" r="3.4" fill="#a9bfa9"/>
<circle cx="303.6" cy="102.2" r="3.4" fill="#b9c8d8"/>
<circle cx="306.2" cy="106.3" r="3.4" fill="#c0c9b8"/>
<circle cx="261.1" cy="126.7" r="3.4" fill="#b5c5b0"/>
<circle cx="255.7" cy="118.5" r="3.4" fill="#b5c5b0"/>
<circle cx="281.8" cy="114.4" r="3.4" fill="#b9c8d8"/>
<circle cx="254.4" cy="122.6" r="3.4" fill="#aebfcf"/>
</g>
<g fill-opacity="0.28">
<circle cx="277.9" cy="122.7" r="3.4" fill="#f4a09a"/>
<circle cx="295.7" cy="119.1" r="3.4" fill="#c4d6e4"/>
<circle cx="315.7" cy="115.2" r="3.4" fill="#e3c9b3"/>
<circle cx="300.8" cy="119.2" r="3.4" fill="#f6b7ae"/>
<circle cx="289.2" cy="123.3" r="3.4" fill="#d9c6c0"/>
<circle cx="320.7" cy="109.6" r="3.4" fill="#f4a09a"/>
<circle cx="276.3" cy="122.5" r="3.4" fill="#e3c9b3"/>
<circle cx="299.6" cy="118.7" r="3.4" fill="#c4d6e4"/>
<circle cx="281.5" cy="122.9" r="3.4" fill="#f4a09a"/>
<circle cx="304.1" cy="116.1" r="3.4" fill="#f6b7ae"/>
<circle cx="282.4" cy="122.8" r="3.4" fill="#f4a09a"/>
<circle cx="271.8" cy="132.1" r="3.4" fill="#f6b7ae"/>
</g>
<g fill-opacity="0.22">
<circle cx="258.2" cy="126.7" r="3.3" fill="#f28f84"/>
<circle cx="258.1" cy="122.6" r="3.3" fill="#f3998e"/>
<circle cx="261.9" cy="122.6" r="3.3" fill="#f4a09a"/>
<circle cx="256.2" cy="118.5" r="3.3" fill="#eba59c"/>
<circle cx="258.5" cy="118.5" r="3.3" fill="#f6b0a8"/>
<circle cx="261.4" cy="118.5" r="3.3" fill="#f3998e"/>
<circle cx="267.1" cy="118.5" r="3.3" fill="#f3998e"/>
<circle cx="265.6" cy="114.4" r="3.3" fill="#f3998e"/>
<circle cx="270.3" cy="114.4" r="3.3" fill="#f6b0a8"/>
<circle cx="267.1" cy="110.3" r="3.3" fill="#f6b0a8"/>
<circle cx="271.8" cy="110.3" r="3.3" fill="#f4a09a"/>
<circle cx="274.0" cy="110.3" r="3.3" fill="#eba59c"/>
<circle cx="277.0" cy="110.3" r="3.3" fill="#c4cfc0"/>
<circle cx="282.0" cy="110.3" r="3.3" fill="#f6b0a8"/>
<circle cx="283.3" cy="110.3" r="3.3" fill="#eba59c"/>
<circle cx="276.9" cy="106.3" r="3.3" fill="#eba59c"/>
<circle cx="280.6" cy="106.3" r="3.3" fill="#b9cbbd"/>
<circle cx="283.3" cy="106.3" r="3.3" fill="#f4a09a"/>
<circle cx="287.8" cy="106.3" r="3.3" fill="#f4a09a"/>
<circle cx="294.2" cy="106.3" r="3.3" fill="#f4a09a"/>
<circle cx="285.7" cy="102.2" r="3.3" fill="#c4cfc0"/>
<circle cx="288.5" cy="102.2" r="3.3" fill="#c4cfc0"/>
<circle cx="293.1" cy="102.2" r="3.3" fill="#f6b0a8"/>
<circle cx="297.9" cy="102.2" r="3.3" fill="#f28f84"/>
<circle cx="299.2" cy="102.2" r="3.3" fill="#eba59c"/>
<circle cx="300.9" cy="102.2" r="3.3" fill="#f6b0a8"/>
<circle cx="303.1" cy="102.2" r="3.3" fill="#c4cfc0"/>
<circle cx="304.5" cy="102.2" r="3.3" fill="#c4cfc0"/>
<circle cx="308.2" cy="102.2" r="3.3" fill="#f4a09a"/>
<circle cx="309.1" cy="102.2" r="3.3" fill="#f4a09a"/>
<circle cx="302.7" cy="98.1" r="3.3" fill="#f6b0a8"/>
<circle cx="304.3" cy="98.1" r="3.3" fill="#c4cfc0"/>
<circle cx="306.5" cy="98.1" r="3.3" fill="#f6b0a8"/>
<circle cx="309.4" cy="98.1" r="3.3" fill="#eba59c"/>
<circle cx="314.7" cy="98.1" r="3.3" fill="#b9cbbd"/>
<circle cx="321.9" cy="98.1" r="3.3" fill="#f3998e"/>
<circle cx="327.2" cy="98.1" r="3.3" fill="#f4a09a"/>
<circle cx="322.8" cy="94.0" r="3.3" fill="#f28f84"/>
<circle cx="325.3" cy="94.0" r="3.3" fill="#f3998e"/>
<circle cx="327.9" cy="94.0" r="3.3" fill="#eba59c"/>
<circle cx="330.1" cy="94.0" r="3.3" fill="#eba59c"/>
<circle cx="338.5" cy="94.0" r="3.3" fill="#f6b0a8"/>
<circle cx="340.6" cy="94.0" r="3.3" fill="#f3998e"/>
<circle cx="336.2" cy="89.9" r="3.3" fill="#eba59c"/>
<circle cx="339.2" cy="89.9" r="3.3" fill="#f4a09a"/>
<circle cx="341.2" cy="89.9" r="3.3" fill="#b9cbbd"/>
<circle cx="344.1" cy="89.9" r="3.3" fill="#f4a09a"/>
</g>
<g fill-opacity="0.3">
<circle cx="343.0" cy="94.0" r="3.3" fill="#9aab88"/>
<circle cx="344.9" cy="94.0" r="3.3" fill="#9aab88"/>
<circle cx="347.4" cy="94.0" r="3.3" fill="#94a681"/>
<circle cx="354.8" cy="94.0" r="3.3" fill="#a0ae8c"/>
<circle cx="364.9" cy="94.0" r="3.3" fill="#a0ae8c"/>
<circle cx="366.7" cy="94.0" r="3.3" fill="#a0ae8c"/>
<circle cx="368.9" cy="94.0" r="3.3" fill="#9aab88"/>
<circle cx="382.6" cy="94.0" r="3.3" fill="#a0ae8c"/>
<circle cx="389.3" cy="94.0" r="3.3" fill="#88a08a"/>
<circle cx="394.7" cy="94.0" r="3.3" fill="#9aab88"/>
<circle cx="396.8" cy="94.0" r="3.3" fill="#88a08a"/>
<circle cx="398.4" cy="94.0" r="3.3" fill="#a0ae8c"/>
<circle cx="331.1" cy="89.9" r="3.3" fill="#88a08a"/>
<circle cx="334.6" cy="89.9" r="3.3" fill="#94a681"/>
<circle cx="335.7" cy="89.9" r="3.3" fill="#88a08a"/>
<circle cx="338.0" cy="89.9" r="3.3" fill="#9aab88"/>
<circle cx="339.7" cy="89.9" r="3.3" fill="#88a08a"/>
<circle cx="346.1" cy="89.9" r="3.3" fill="#88a08a"/>
<circle cx="350.9" cy="89.9" r="3.3" fill="#a0ae8c"/>
<circle cx="354.3" cy="89.9" r="3.3" fill="#a0ae8c"/>
<circle cx="356.4" cy="89.9" r="3.3" fill="#a0ae8c"/>
<circle cx="358.9" cy="89.9" r="3.3" fill="#9aab88"/>
<circle cx="376.1" cy="89.9" r="3.3" fill="#9aab88"/>
<circle cx="378.1" cy="89.9" r="3.3" fill="#9aab88"/>
<circle cx="380.1" cy="89.9" r="3.3" fill="#88a08a"/>
<circle cx="385.3" cy="89.9" r="3.3" fill="#88a08a"/>
<circle cx="394.1" cy="89.9" r="3.3" fill="#94a681"/>
<circle cx="398.3" cy="89.9" r="3.3" fill="#9aab88"/>
<circle cx="329.0" cy="85.9" r="3.3" fill="#94a681"/>
<circle cx="331.5" cy="85.9" r="3.3" fill="#88a08a"/>
<circle cx="333.6" cy="85.9" r="3.3" fill="#9aab88"/>
<circle cx="335.6" cy="85.9" r="3.3" fill="#a0ae8c"/>
<circle cx="337.9" cy="85.9" r="3.3" fill="#88a08a"/>
<circle cx="341.2" cy="85.9" r="3.3" fill="#88a08a"/>
<circle cx="345.3" cy="85.9" r="3.3" fill="#94a681"/>
<circle cx="348.6" cy="85.9" r="3.3" fill="#9aab88"/>
<circle cx="350.9" cy="85.9" r="3.3" fill="#88a08a"/>
<circle cx="370.5" cy="85.9" r="3.3" fill="#9aab88"/>
<circle cx="373.1" cy="85.9" r="3.3" fill="#88a08a"/>
<circle cx="378.9" cy="85.9" r="3.3" fill="#88a08a"/>
<circle cx="381.7" cy="85.9" r="3.3" fill="#a0ae8c"/>
<circle cx="383.4" cy="85.9" r="3.3" fill="#88a08a"/>
<circle cx="389.8" cy="85.9" r="3.3" fill="#94a681"/>
<circle cx="393.2" cy="85.9" r="3.3" fill="#a0ae8c"/>
<circle cx="331.7" cy="81.8" r="3.3" fill="#a0ae8c"/>
<circle cx="333.5" cy="81.8" r="3.3" fill="#94a681"/>
<circle cx="336.2" cy="81.8" r="3.3" fill="#9aab88"/>
<circle cx="338.4" cy="81.8" r="3.3" fill="#9aab88"/>
<circle cx="341.3" cy="81.8" r="3.3" fill="#88a08a"/>
<circle cx="343.4" cy="81.8" r="3.3" fill="#a0ae8c"/>
<circle cx="346.1" cy="81.8" r="3.3" fill="#94a681"/>
<circle cx="349.1" cy="81.8" r="3.3" fill="#94a681"/>
<circle cx="351.3" cy="81.8" r="3.3" fill="#88a08a"/>
<circle cx="366.2" cy="81.8" r="3.3" fill="#94a681"/>
<circle cx="368.8" cy="81.8" r="3.3" fill="#9aab88"/>
<circle cx="370.3" cy="81.8" r="3.3" fill="#94a681"/>
<circle cx="374.0" cy="81.8" r="3.3" fill="#88a08a"/>
<circle cx="378.6" cy="81.8" r="3.3" fill="#88a08a"/>
<circle cx="381.2" cy="81.8" r="3.3" fill="#94a681"/>
<circle cx="385.8" cy="81.8" r="3.3" fill="#94a681"/>
<circle cx="328.7" cy="77.7" r="3.3" fill="#88a08a"/>
<circle cx="331.2" cy="77.7" r="3.3" fill="#94a681"/>
<circle cx="333.8" cy="77.7" r="3.3" fill="#a0ae8c"/>
<circle cx="335.5" cy="77.7" r="3.3" fill="#88a08a"/>
<circle cx="344.5" cy="77.7" r="3.3" fill="#88a08a"/>
<circle cx="346.2" cy="77.7" r="3.3" fill="#94a681"/>
<circle cx="347.6" cy="77.7" r="3.3" fill="#9aab88"/>
<circle cx="350.1" cy="77.7" r="3.3" fill="#94a681"/>
<circle cx="352.2" cy="77.7" r="3.3" fill="#88a08a"/>
<circle cx="353.8" cy="77.7" r="3.3" fill="#9aab88"/>
<circle cx="363.9" cy="77.7" r="3.3" fill="#94a681"/>
<circle cx="367.2" cy="77.7" r="3.3" fill="#a0ae8c"/>
<circle cx="369.3" cy="77.7" r="3.3" fill="#94a681"/>
<circle cx="372.2" cy="77.7" r="3.3" fill="#94a681"/>
<circle cx="375.0" cy="77.7" r="3.3" fill="#9aab88"/>
<circle cx="378.9" cy="77.7" r="3.3" fill="#94a681"/>
<circle cx="330.3" cy="73.6" r="3.3" fill="#88a08a"/>
<circle cx="332.8" cy="73.6" r="3.3" fill="#a0ae8c"/>
<circle cx="335.4" cy="73.6" r="3.3" fill="#94a681"/>
<circle cx="340.3" cy="73.6" r="3.3" fill="#9aab88"/>
<circle cx="345.0" cy="73.6" r="3.3" fill="#a0ae8c"/>
<circle cx="347.4" cy="73.6" r="3.3" fill="#a0ae8c"/>
<circle cx="348.4" cy="73.6" r="3.3" fill="#9aab88"/>
<circle cx="351.1" cy="73.6" r="3.3" fill="#94a681"/>
<circle cx="356.5" cy="73.6" r="3.3" fill="#94a681"/>
<circle cx="358.8" cy="73.6" r="3.3" fill="#a0ae8c"/>
<circle cx="361.3" cy="73.6" r="3.3" fill="#9aab88"/>
<circle cx="366.4" cy="73.6" r="3.3" fill="#9aab88"/>
<circle cx="370.2" cy="73.6" r="3.3" fill="#a0ae8c"/>
<circle cx="328.8" cy="69.5" r="3.3" fill="#a0ae8c"/>
<circle cx="337.7" cy="69.5" r="3.3" fill="#a0ae8c"/>
<circle cx="345.7" cy="69.5" r="3.3" fill="#88a08a"/>
<circle cx="349.2" cy="69.5" r="3.3" fill="#88a08a"/>
<circle cx="355.6" cy="69.5" r="3.3" fill="#a0ae8c"/>
</g>
</g>
<g clip-path="url(#c2)">
<g fill-opacity="0.25">
<circle cx="498.8" cy="35.9" r="3.4" fill="#95b0d4"/>
<circle cx="475.1" cy="24.9" r="3.4" fill="#d4cfe2"/>
<circle cx="522.3" cy="34.3" r="3.4" fill="#bccde6"/>
<circle cx="477.6" cy="35.6" r="3.4" fill="#d4cfe2"/>
<circle cx="520.7" cy="33.9" r="3.4" fill="#b0c6e2"/>
<circle cx="523.4" cy="24.7" r="3.4" fill="#95b0d4"/>
<circle cx="473.0" cy="34.7" r="3.4" fill="#b0c6e2"/>
<circle cx="533.5" cy="40.6" r="3.4" fill="#bccde6"/>
<circle cx="502.2" cy="30.4" r="3.4" fill="#b0c6e2"/>
<circle cx="522.9" cy="24.4" r="3.4" fill="#95b0d4"/>
<circle cx="512.4" cy="30.5" r="3.4" fill="#b0c6e2"/>
<circle cx="517.8" cy="27.9" r="3.4" fill="#b0c6e2"/>
<circle cx="477.8" cy="37.2" r="3.4" fill="#bccde6"/>
<circle cx="544.1" cy="39.2" r="3.4" fill="#b0c6e2"/>
<circle cx="483.8" cy="24.5" r="3.4" fill="#a3bcdc"/>
<circle cx="516.0" cy="23.9" r="3.4" fill="#95b0d4"/>
<circle cx="491.3" cy="24.2" r="3.4" fill="#b0c6e2"/>
<circle cx="497.9" cy="33.0" r="3.4" fill="#b0c6e2"/>
<circle cx="519.6" cy="32.8" r="3.4" fill="#d4cfe2"/>
<circle cx="531.8" cy="41.1" r="3.4" fill="#95b0d4"/>
<circle cx="483.0" cy="31.9" r="3.4" fill="#bccde6"/>
<circle cx="485.3" cy="27.7" r="3.4" fill="#95b0d4"/>
<circle cx="524.5" cy="40.6" r="3.4" fill="#bccde6"/>
<circle cx="503.2" cy="30.0" r="3.4" fill="#95b0d4"/>
<circle cx="529.4" cy="31.6" r="3.4" fill="#d4cfe2"/>
<circle cx="483.5" cy="22.3" r="3.4" fill="#a3bcdc"/>
</g>
<g fill-opacity="0.2">
<circle cx="603.6" cy="76.0" r="3.4" fill="#b0c6e2"/>
<circle cx="578.9" cy="55.3" r="3.4" fill="#a3bcdc"/>
<circle cx="545.8" cy="46.9" r="3.4" fill="#a3bcdc"/>
<circle cx="548.1" cy="52.0" r="3.4" fill="#95b0d4"/>
<circle cx="598.9" cy="67.2" r="3.4" fill="#bccde6"/>
<circle cx="586.0" cy="66.5" r="3.4" fill="#bccde6"/>
<circle cx="542.4" cy="50.7" r="3.4" fill="#b0c6e2"/>
<circle cx="621.0" cy="82.8" r="3.4" fill="#95b0d4"/>
<circle cx="573.8" cy="64.1" r="3.4" fill="#95b0d4"/>
<circle cx="602.4" cy="75.0" r="3.4" fill="#a3bcdc"/>
</g>
<path d="M474.0,24.0 L482.0,23.0 L512.0,23.0 L516.0,28.0 L512.0,33.0 L478.0,33.0Z" fill="#8fa9d2" fill-opacity="0.45" filter="url(#b1)"/>
<path d="M512.0,44.0 L514.3,43.2 L516.6,42.5 L518.9,42.5 L521.1,43.8 L523.4,45.1 L525.7,46.3 L528.0,47.4 L530.3,48.5 L532.6,49.5 L534.9,50.6 L537.1,51.7 L539.4,52.7 L541.7,53.9 L544.0,55.2 L546.3,56.4 L548.6,57.6 L550.9,58.8 L553.1,60.1 L555.4,61.4 L557.7,62.7 L560.0,64.0 L562.3,65.4 L564.6,66.7 L566.9,68.0 L569.1,69.2 L571.4,70.4 L573.7,71.6 L576.0,72.8 L578.3,74.0 L580.6,75.2 L582.9,76.3 L585.1,77.2 L587.4,78.1 L589.7,79.0 L592.0,79.9 L594.3,80.8 L596.6,81.7 L598.9,82.6 L601.1,83.5 L603.4,84.6 L605.7,85.7 L608.0,86.7 L610.3,87.8 L612.6,88.9 L614.9,89.9 L617.1,90.7 L619.4,91.5 L621.7,92.2 L624.0,93.0 L624.0,110.2 L621.7,108.9 L619.4,107.6 L617.1,106.3 L614.9,105.0 L612.6,103.7 L610.3,102.4 L608.0,101.1 L605.7,99.8 L603.4,98.5 L601.1,97.3 L598.9,96.0 L596.6,94.7 L594.3,93.4 L592.0,92.1 L589.7,90.9 L587.4,89.6 L585.1,88.3 L582.9,87.0 L580.6,85.8 L578.3,84.5 L576.0,83.2 L573.7,82.0 L571.4,80.7 L569.1,79.5 L566.9,78.2 L564.6,77.0 L562.3,75.7 L560.0,74.5 L557.7,73.3 L555.4,72.1 L553.1,70.9 L550.9,69.7 L548.6,68.5 L546.3,67.3 L544.0,66.1 L541.7,64.9 L539.4,63.8 L537.1,62.6 L534.9,61.5 L532.6,60.4 L530.3,59.3 L528.0,58.3 L525.7,57.2 L523.4,56.2 L521.1,55.3 L518.9,54.3 L516.6,53.4 L514.3,52.5 L512.0,51.7Z" fill="#6a8cba" fill-opacity="0.55" filter="url(#b1)"/>
<g fill-opacity="0.3">
<circle cx="617.4" cy="106.3" r="3.3" fill="#7fa0a8"/>
<circle cx="618.6" cy="102.2" r="3.3" fill="#7b9cc8"/>
<circle cx="620.6" cy="102.2" r="3.3" fill="#6b8fc0"/>
<circle cx="622.3" cy="102.2" r="3.3" fill="#5a80b8"/>
<circle cx="605.1" cy="98.1" r="3.3" fill="#7fa0a8"/>
<circle cx="609.3" cy="98.1" r="3.3" fill="#5f86bd"/>
<circle cx="614.7" cy="98.1" r="3.3" fill="#5f86bd"/>
<circle cx="617.3" cy="98.1" r="3.3" fill="#5f86bd"/>
<circle cx="619.5" cy="98.1" r="3.3" fill="#7b9cc8"/>
<circle cx="605.5" cy="94.0" r="3.3" fill="#6b8fc0"/>
<circle cx="611.0" cy="94.0" r="3.3" fill="#5a80b8"/>
<circle cx="617.7" cy="94.0" r="3.3" fill="#6b8fc0"/>
<circle cx="590.2" cy="89.9" r="3.3" fill="#5f86bd"/>
<circle cx="594.2" cy="89.9" r="3.3" fill="#5f86bd"/>
<circle cx="596.9" cy="89.9" r="3.3" fill="#7b9cc8"/>
<circle cx="599.4" cy="89.9" r="3.3" fill="#7b9cc8"/>
<circle cx="601.3" cy="89.9" r="3.3" fill="#7fa0a8"/>
<circle cx="603.7" cy="89.9" r="3.3" fill="#7b9cc8"/>
<circle cx="605.6" cy="89.9" r="3.3" fill="#7fa0a8"/>
<circle cx="607.6" cy="89.9" r="3.3" fill="#5a80b8"/>
<circle cx="612.6" cy="89.9" r="3.3" fill="#5a80b8"/>
<circle cx="585.8" cy="85.9" r="3.3" fill="#7fa0a8"/>
<circle cx="588.4" cy="85.9" r="3.3" fill="#6b8fc0"/>
<circle cx="591.6" cy="85.9" r="3.3" fill="#6b8fc0"/>
<circle cx="595.1" cy="85.9" r="3.3" fill="#5f86bd"/>
<circle cx="599.4" cy="85.9" r="3.3" fill="#5a80b8"/>
<circle cx="605.4" cy="85.9" r="3.3" fill="#5f86bd"/>
<circle cx="575.8" cy="81.8" r="3.3" fill="#7fa0a8"/>
<circle cx="580.7" cy="81.8" r="3.3" fill="#6b8fc0"/>
<circle cx="583.3" cy="81.8" r="3.3" fill="#6b8fc0"/>
<circle cx="587.3" cy="81.8" r="3.3" fill="#5f86bd"/>
<circle cx="590.2" cy="81.8" r="3.3" fill="#7fa0a8"/>
<circle cx="592.4" cy="81.8" r="3.3" fill="#7b9cc8"/>
<circle cx="594.9" cy="81.8" r="3.3" fill="#5a80b8"/>
<circle cx="596.5" cy="81.8" r="3.3" fill="#5f86bd"/>
<circle cx="570.1" cy="77.7" r="3.3" fill="#6b8fc0"/>
<circle cx="572.5" cy="77.7" r="3.3" fill="#5a80b8"/>
<circle cx="575.6" cy="77.7" r="3.3" fill="#7fa0a8"/>
<circle cx="578.1" cy="77.7" r="3.3" fill="#6b8fc0"/>
<circle cx="581.5" cy="77.7" r="3.3" fill="#6b8fc0"/>
<circle cx="584.9" cy="77.7" r="3.3" fill="#7b9cc8"/>
<circle cx="558.7" cy="73.6" r="3.3" fill="#7b9cc8"/>
<circle cx="569.7" cy="73.6" r="3.3" fill="#6b8fc0"/>
<circle cx="574.3" cy="73.6" r="3.3" fill="#6b8fc0"/>
<circle cx="553.7" cy="69.5" r="3.3" fill="#5a80b8"/>
<circle cx="554.9" cy="69.5" r="3.3" fill="#7b9cc8"/>
<circle cx="565.9" cy="69.5" r="3.3" fill="#6b8fc0"/>
<circle cx="569.4" cy="69.5" r="3.3" fill="#5f86bd"/>
<circle cx="542.7" cy="65.5" r="3.3" fill="#6b8fc0"/>
<circle cx="549.6" cy="65.5" r="3.3" fill="#5f86bd"/>
<circle cx="552.0" cy="65.5" r="3.3" fill="#6b8fc0"/>
<circle cx="554.7" cy="65.5" r="3.3" fill="#5a80b8"/>
<circle cx="534.9" cy="61.4" r="3.3" fill="#5f86bd"/>
<circle cx="547.7" cy="61.4" r="3.3" fill="#7fa0a8"/>
<circle cx="549.0" cy="61.4" r="3.3" fill="#5f86bd"/>
<circle cx="550.7" cy="61.4" r="3.3" fill="#7b9cc8"/>
<circle cx="552.8" cy="61.4" r="3.3" fill="#5f86bd"/>
<circle cx="533.1" cy="57.3" r="3.3" fill="#6b8fc0"/>
<circle cx="542.4" cy="57.3" r="3.3" fill="#7fa0a8"/>
<circle cx="516.7" cy="53.2" r="3.3" fill="#5f86bd"/>
<circle cx="519.8" cy="53.2" r="3.3" fill="#7b9cc8"/>
<circle cx="522.5" cy="53.2" r="3.3" fill="#7b9cc8"/>
<circle cx="526.8" cy="53.2" r="3.3" fill="#7b9cc8"/>
<circle cx="528.4" cy="53.2" r="3.3" fill="#7fa0a8"/>
<circle cx="530.9" cy="53.2" r="3.3" fill="#5f86bd"/>
<circle cx="532.9" cy="53.2" r="3.3" fill="#7fa0a8"/>
<circle cx="534.7" cy="53.2" r="3.3" fill="#7b9cc8"/>
<circle cx="538.3" cy="53.2" r="3.3" fill="#5f86bd"/>
<circle cx="518.9" cy="49.1" r="3.3" fill="#6b8fc0"/>
<circle cx="521.6" cy="49.1" r="3.3" fill="#7fa0a8"/>
<circle cx="524.1" cy="49.1" r="3.3" fill="#7fa0a8"/>
<circle cx="526.9" cy="49.1" r="3.3" fill="#5a80b8"/>
<circle cx="530.9" cy="49.1" r="3.3" fill="#6b8fc0"/>
<circle cx="522.0" cy="45.1" r="3.3" fill="#5a80b8"/>
</g>
<path d="M565.0,70.1 L567.0,71.2 L569.1,72.3 L571.1,73.4 L573.1,74.5 L575.2,75.6 L577.2,76.7 L579.2,77.8 L581.3,78.9 L583.3,79.9 L585.3,80.9 L587.4,81.8 L589.4,82.8 L591.4,83.8 L593.5,84.7 L595.5,85.7 L597.6,86.6 L599.6,87.6 L601.6,88.6 L603.7,89.7 L605.7,90.7 L607.7,91.8 L609.8,92.8 L611.8,93.9 L613.8,94.9 L615.9,95.9 L617.9,96.8 L619.9,97.7 L622.0,98.7 L624.0,99.6 L624.0,107.2 L622.0,106.0 L619.9,104.9 L617.9,103.7 L615.9,102.6 L613.8,101.4 L611.8,100.3 L609.8,99.1 L607.7,98.0 L605.7,96.8 L603.7,95.7 L601.6,94.5 L599.6,93.4 L597.6,92.2 L595.5,91.1 L593.5,90.0 L591.4,88.8 L589.4,87.7 L587.4,86.6 L585.3,85.4 L583.3,84.3 L581.3,83.2 L579.2,82.0 L577.2,80.9 L575.2,79.8 L573.1,78.7 L571.1,77.5 L569.1,76.4 L567.0,75.3 L565.0,74.2Z" fill="url(#h3)" fill-opacity="1" filter="url(#b1)"/>
<path d="M518.0,51.0 L521.7,52.5 L525.3,54.1 L529.0,55.7 L532.6,57.5 L536.3,59.2 L539.9,61.0 L543.6,62.9 L547.2,64.8 L550.9,66.7 L554.6,68.6 L558.2,70.6 L561.9,72.5 L565.5,74.5 L569.2,76.5 L572.8,78.5 L576.5,80.5 L580.1,82.5 L583.8,84.6 L587.4,86.6 L591.1,88.6 L594.8,90.7 L598.4,92.7 L602.1,94.8 L605.7,96.8 L609.4,98.9 L613.0,101.0 L616.7,103.0 L620.3,105.1 L624.0,107.2 L624.0,115.5 L620.3,113.7 L616.7,111.9 L613.0,110.1 L609.4,108.3 L605.7,106.6 L602.1,104.8 L598.4,103.0 L594.8,101.2 L591.1,99.4 L587.4,97.6 L583.8,95.9 L580.1,94.1 L576.5,92.3 L572.8,90.6 L569.2,88.8 L565.5,87.0 L561.9,85.3 L558.2,83.5 L554.6,81.8 L550.9,80.1 L547.2,78.4 L543.6,76.7 L539.9,75.0 L536.3,73.3 L532.6,71.7 L529.0,70.1 L525.3,68.5 L521.7,67.0 L518.0,65.5Z" fill="#87a894" fill-opacity="0.85" filter="url(#b1)"/>
<path d="M528.0,64.5 L530.6,65.7 L533.1,66.9 L535.7,68.2 L538.2,69.4 L540.8,70.7 L543.3,72.0 L545.9,73.3 L548.4,74.6 L551.0,75.9 L553.5,77.3 L556.1,78.6 L558.6,79.9 L561.2,81.3 L563.7,82.6 L566.3,84.0 L568.8,85.3 L571.4,86.7 L573.9,88.0 L576.5,89.4 L579.0,90.8 L581.6,92.1 L584.1,93.5 L586.7,94.9 L589.2,96.3 L591.8,97.6 L594.3,99.0 L596.9,100.4 L599.4,101.7 L602.0,103.1 L602.0,106.0 L599.4,105.6 L596.9,105.3 L594.3,104.9 L591.8,104.5 L589.2,104.2 L586.7,103.8 L584.1,103.4 L581.6,103.1 L579.0,102.4 L576.5,101.7 L573.9,101.0 L571.4,100.3 L568.8,99.5 L566.3,98.8 L563.7,98.1 L561.2,97.3 L558.6,96.6 L556.1,95.9 L553.5,95.1 L551.0,94.4 L548.4,93.7 L545.9,93.0 L543.3,92.3 L540.8,91.6 L538.2,90.9 L535.7,90.1 L533.1,89.4 L530.6,88.7 L528.0,88.0Z" fill="#d5a383" fill-opacity="0.85" filter="url(#b1)"/>
<path d="M575.0,100.0 L600.0,104.0 L618.0,108.0 L612.0,110.0 L590.0,106.0Z" fill="#9db09a" fill-opacity="0.6" filter="url(#b1)"/>
<g fill-opacity="0.3">
<circle cx="581.1" cy="102.2" r="3.3" fill="#dcae8e"/>
<circle cx="583.8" cy="102.2" r="3.3" fill="#cf9d80"/>
<circle cx="585.4" cy="102.2" r="3.3" fill="#cf9d80"/>
<circle cx="587.2" cy="102.2" r="3.3" fill="#cf9d80"/>
<circle cx="589.6" cy="102.2" r="3.3" fill="#d5a383"/>
<circle cx="594.2" cy="102.2" r="3.3" fill="#d5a383"/>
<circle cx="596.4" cy="102.2" r="3.3" fill="#dcae8e"/>
<circle cx="598.2" cy="102.2" r="3.3" fill="#d5a383"/>
<circle cx="568.9" cy="98.1" r="3.3" fill="#d5a383"/>
<circle cx="570.8" cy="98.1" r="3.3" fill="#dcae8e"/>
<circle cx="574.0" cy="98.1" r="3.3" fill="#d5a383"/>
<circle cx="575.7" cy="98.1" r="3.3" fill="#cf9d80"/>
<circle cx="584.8" cy="98.1" r="3.3" fill="#cf9d80"/>
<circle cx="587.6" cy="98.1" r="3.3" fill="#d5a383"/>
<circle cx="590.3" cy="98.1" r="3.3" fill="#d5a383"/>
<circle cx="591.9" cy="98.1" r="3.3" fill="#dcae8e"/>
<circle cx="554.7" cy="94.0" r="3.3" fill="#cf9d80"/>
<circle cx="561.2" cy="94.0" r="3.3" fill="#dcae8e"/>
<circle cx="564.5" cy="94.0" r="3.3" fill="#d5a383"/>
<circle cx="566.9" cy="94.0" r="3.3" fill="#d5a383"/>
<circle cx="569.8" cy="94.0" r="3.3" fill="#cf9d80"/>
<circle cx="570.8" cy="94.0" r="3.3" fill="#dcae8e"/>
<circle cx="573.9" cy="94.0" r="3.3" fill="#cf9d80"/>
<circle cx="576.3" cy="94.0" r="3.3" fill="#d5a383"/>
<circle cx="540.1" cy="89.9" r="3.3" fill="#d5a383"/>
<circle cx="541.6" cy="89.9" r="3.3" fill="#d5a383"/>
<circle cx="544.4" cy="89.9" r="3.3" fill="#d5a383"/>
<circle cx="556.3" cy="89.9" r="3.3" fill="#cf9d80"/>
<circle cx="557.9" cy="89.9" r="3.3" fill="#d5a383"/>
<circle cx="565.8" cy="89.9" r="3.3" fill="#cf9d80"/>
<circle cx="575.4" cy="89.9" r="3.3" fill="#cf9d80"/>
<circle cx="528.8" cy="85.9" r="3.3" fill="#cf9d80"/>
<circle cx="532.6" cy="85.9" r="3.3" fill="#cf9d80"/>
<circle cx="534.5" cy="85.9" r="3.3" fill="#d5a383"/>
<circle cx="538.4" cy="85.9" r="3.3" fill="#dcae8e"/>
<circle cx="540.2" cy="85.9" r="3.3" fill="#dcae8e"/>
<circle cx="542.3" cy="85.9" r="3.3" fill="#cf9d80"/>
<circle cx="543.9" cy="85.9" r="3.3" fill="#cf9d80"/>
<circle cx="544.9" cy="85.9" r="3.3" fill="#dcae8e"/>
<circle cx="548.2" cy="85.9" r="3.3" fill="#d5a383"/>
<circle cx="552.5" cy="85.9" r="3.3" fill="#d5a383"/>
<circle cx="559.3" cy="85.9" r="3.3" fill="#d5a383"/>
<circle cx="568.4" cy="85.9" r="3.3" fill="#dcae8e"/>
<circle cx="533.3" cy="81.8" r="3.3" fill="#cf9d80"/>
<circle cx="534.5" cy="81.8" r="3.3" fill="#d5a383"/>
<circle cx="538.8" cy="81.8" r="3.3" fill="#d5a383"/>
<circle cx="542.6" cy="81.8" r="3.3" fill="#dcae8e"/>
<circle cx="545.3" cy="81.8" r="3.3" fill="#cf9d80"/>
<circle cx="548.0" cy="81.8" r="3.3" fill="#dcae8e"/>
<circle cx="550.8" cy="81.8" r="3.3" fill="#d5a383"/>
<circle cx="554.0" cy="81.8" r="3.3" fill="#dcae8e"/>
<circle cx="555.7" cy="81.8" r="3.3" fill="#d5a383"/>
<circle cx="557.9" cy="81.8" r="3.3" fill="#cf9d80"/>
<circle cx="561.3" cy="81.8" r="3.3" fill="#d5a383"/>
<circle cx="534.1" cy="77.7" r="3.3" fill="#d5a383"/>
<circle cx="536.5" cy="77.7" r="3.3" fill="#dcae8e"/>
<circle cx="541.5" cy="77.7" r="3.3" fill="#d5a383"/>
<circle cx="545.8" cy="77.7" r="3.3" fill="#cf9d80"/>
<circle cx="550.6" cy="77.7" r="3.3" fill="#dcae8e"/>
<circle cx="553.4" cy="77.7" r="3.3" fill="#dcae8e"/>
<circle cx="528.3" cy="73.6" r="3.3" fill="#cf9d80"/>
<circle cx="529.6" cy="73.6" r="3.3" fill="#dcae8e"/>
<circle cx="535.1" cy="73.6" r="3.3" fill="#cf9d80"/>
<circle cx="537.7" cy="73.6" r="3.3" fill="#d5a383"/>
<circle cx="540.4" cy="73.6" r="3.3" fill="#dcae8e"/>
<circle cx="543.4" cy="73.6" r="3.3" fill="#d5a383"/>
<circle cx="531.7" cy="69.5" r="3.3" fill="#dcae8e"/>
<circle cx="536.9" cy="69.5" r="3.3" fill="#dcae8e"/>
<circle cx="528.2" cy="65.5" r="3.3" fill="#cf9d80"/>
</g>
<g fill-opacity="0.3">
<circle cx="622.0" cy="114.4" r="3.3" fill="#87a894"/>
<circle cx="614.7" cy="110.3" r="3.3" fill="#8fb09c"/>
<circle cx="616.7" cy="110.3" r="3.3" fill="#7fa28f"/>
<circle cx="619.0" cy="110.3" r="3.3" fill="#7fa28f"/>
<circle cx="620.8" cy="110.3" r="3.3" fill="#8fb09c"/>
<circle cx="624.4" cy="110.3" r="3.3" fill="#7fa28f"/>
<circle cx="607.7" cy="106.3" r="3.3" fill="#87a894"/>
<circle cx="611.5" cy="106.3" r="3.3" fill="#7fa28f"/>
<circle cx="616.0" cy="106.3" r="3.3" fill="#7fa28f"/>
<circle cx="619.2" cy="106.3" r="3.3" fill="#8fb09c"/>
<circle cx="598.0" cy="102.2" r="3.3" fill="#87a894"/>
<circle cx="602.6" cy="102.2" r="3.3" fill="#87a894"/>
<circle cx="604.5" cy="102.2" r="3.3" fill="#87a894"/>
<circle cx="606.1" cy="102.2" r="3.3" fill="#87a894"/>
<circle cx="608.4" cy="102.2" r="3.3" fill="#8fb09c"/>
<circle cx="589.6" cy="98.1" r="3.3" fill="#87a894"/>
<circle cx="597.6" cy="98.1" r="3.3" fill="#8fb09c"/>
<circle cx="602.3" cy="98.1" r="3.3" fill="#8fb09c"/>
<circle cx="607.8" cy="98.1" r="3.3" fill="#8fb09c"/>
<circle cx="588.0" cy="94.0" r="3.3" fill="#8fb09c"/>
<circle cx="590.3" cy="94.0" r="3.3" fill="#8fb09c"/>
<circle cx="594.7" cy="94.0" r="3.3" fill="#87a894"/>
<circle cx="598.8" cy="94.0" r="3.3" fill="#8fb09c"/>
<circle cx="575.8" cy="89.9" r="3.3" fill="#8fb09c"/>
<circle cx="578.0" cy="89.9" r="3.3" fill="#7fa28f"/>
<circle cx="580.7" cy="89.9" r="3.3" fill="#87a894"/>
<circle cx="582.6" cy="89.9" r="3.3" fill="#87a894"/>
<circle cx="586.3" cy="89.9" r="3.3" fill="#8fb09c"/>
<circle cx="589.9" cy="89.9" r="3.3" fill="#7fa28f"/>
<circle cx="563.3" cy="85.9" r="3.3" fill="#8fb09c"/>
<circle cx="574.3" cy="85.9" r="3.3" fill="#8fb09c"/>
<circle cx="578.9" cy="85.9" r="3.3" fill="#87a894"/>
<circle cx="580.4" cy="85.9" r="3.3" fill="#87a894"/>
<circle cx="583.3" cy="85.9" r="3.3" fill="#7fa28f"/>
<circle cx="584.3" cy="85.9" r="3.3" fill="#8fb09c"/>
<circle cx="555.1" cy="81.8" r="3.3" fill="#7fa28f"/>
<circle cx="558.9" cy="81.8" r="3.3" fill="#8fb09c"/>
<circle cx="563.1" cy="81.8" r="3.3" fill="#87a894"/>
<circle cx="565.6" cy="81.8" r="3.3" fill="#7fa28f"/>
<circle cx="569.3" cy="81.8" r="3.3" fill="#7fa28f"/>
<circle cx="550.1" cy="77.7" r="3.3" fill="#7fa28f"/>
<circle cx="553.1" cy="77.7" r="3.3" fill="#7fa28f"/>
<circle cx="556.5" cy="77.7" r="3.3" fill="#8fb09c"/>
<circle cx="558.8" cy="77.7" r="3.3" fill="#87a894"/>
<circle cx="563.8" cy="77.7" r="3.3" fill="#8fb09c"/>
<circle cx="565.7" cy="77.7" r="3.3" fill="#8fb09c"/>
<circle cx="567.7" cy="77.7" r="3.3" fill="#8fb09c"/>
<circle cx="540.6" cy="73.6" r="3.3" fill="#7fa28f"/>
<circle cx="557.7" cy="73.6" r="3.3" fill="#8fb09c"/>
<circle cx="562.9" cy="73.6" r="3.3" fill="#87a894"/>
<circle cx="543.7" cy="69.5" r="3.3" fill="#8fb09c"/>
<circle cx="546.2" cy="69.5" r="3.3" fill="#7fa28f"/>
<circle cx="546.8" cy="69.5" r="3.3" fill="#8fb09c"/>
<circle cx="550.1" cy="69.5" r="3.3" fill="#8fb09c"/>
<circle cx="552.1" cy="69.5" r="3.3" fill="#8fb09c"/>
<circle cx="554.6" cy="69.5" r="3.3" fill="#87a894"/>
<circle cx="521.4" cy="65.5" r="3.3" fill="#7fa28f"/>
<circle cx="527.2" cy="65.5" r="3.3" fill="#8fb09c"/>
<circle cx="530.4" cy="65.5" r="3.3" fill="#7fa28f"/>
<circle cx="532.5" cy="65.5" r="3.3" fill="#7fa28f"/>
<circle cx="537.3" cy="65.5" r="3.3" fill="#87a894"/>
<circle cx="539.5" cy="65.5" r="3.3" fill="#87a894"/>
<circle cx="540.6" cy="65.5" r="3.3" fill="#87a894"/>
<circle cx="545.7" cy="65.5" r="3.3" fill="#7fa28f"/>
<circle cx="527.7" cy="61.4" r="3.3" fill="#8fb09c"/>
<circle cx="529.3" cy="61.4" r="3.3" fill="#87a894"/>
<circle cx="531.3" cy="61.4" r="3.3" fill="#8fb09c"/>
<circle cx="536.8" cy="61.4" r="3.3" fill="#8fb09c"/>
<circle cx="539.4" cy="61.4" r="3.3" fill="#8fb09c"/>
<circle cx="519.3" cy="57.3" r="3.3" fill="#7fa28f"/>
<circle cx="521.4" cy="57.3" r="3.3" fill="#8fb09c"/>
<circle cx="526.4" cy="57.3" r="3.3" fill="#87a894"/>
<circle cx="530.4" cy="57.3" r="3.3" fill="#87a894"/>
<circle cx="521.7" cy="53.2" r="3.3" fill="#8fb09c"/>
<circle cx="523.3" cy="53.2" r="3.3" fill="#8fb09c"/>
</g>
<path d="M438.3,139.0 L446.0,112.0 L453.7,87.4 L458.2,74.0 L460.8,63.8 L463.3,53.7 L465.5,47.0 L469.0,43.0 L476.0,41.0 L485.0,39.5 L495.0,39.0 L500.0,43.4 L503.8,44.2 L507.5,45.3 L511.2,46.5 L515.0,47.8 L518.8,49.3 L522.5,50.8 L526.2,52.5 L530.0,54.2 L536.0,59.6 L544.0,68.4 L547.0,69.9 L550.0,71.3 L553.0,72.8 L556.0,74.2 L560.0,86.0 L562.0,89.0 L545.0,89.0 L530.0,87.0 L515.0,85.0 L500.0,82.0 L488.0,77.0 L476.0,74.5 L468.0,80.0 L462.0,92.0 L456.0,108.0 L450.0,124.0 L445.0,139.0Z" fill="url(#g3)" fill-opacity="1" filter="url(#b05)"/>
<path d="M438.3,139.0 L446.0,112.0 L453.7,87.4 L458.2,74.0 L461.0,64.0 L468.0,64.0 L463.0,80.0 L457.0,98.0 L450.0,120.0 L444.5,139.0Z" fill="#f38f83" fill-opacity="1" filter="url(#b05)"/>
<path d="M500.0,55.9 L504.8,57.3 L509.6,59.0 L514.5,60.9 L519.3,63.0 L524.1,65.1 L528.9,67.4 L533.7,69.7 L538.5,72.1 L543.4,74.5 L548.2,77.0 L553.0,79.5 L556.5,86.5 L545.0,86.0 L530.0,84.0 L515.0,82.0 L500.0,80.0Z" fill="#f38f83" fill-opacity="1" filter="url(#b05)"/>
<path d="M465.0,46.0 L468.0,38.0 L473.0,32.0 L480.0,29.0 L500.0,30.0 L515.0,33.0 L526.0,39.0 L534.0,46.0 L532.0,55.7 L526.0,52.9 L520.0,50.3 L514.0,47.9 L508.0,45.9 L502.0,44.3 L496.0,43.4 L490.0,43.2 L484.0,44.2 L478.0,46.8 L472.0,51.6 L466.0,59.1Z" fill="#7d96c3" fill-opacity="0.8" filter="url(#b1)"/>
<path d="M472.0,40.0 L480.0,37.0 L495.0,36.5 L508.0,38.0 L518.0,41.0 L518.0,50.0 L511.4,47.5 L504.9,45.5 L498.3,44.1 L491.7,43.7 L485.1,44.4 L478.6,47.0 L472.0,52.1Z" fill="#e0908f" fill-opacity="0.6" filter="url(#b1)"/>
<path d="M482.0,24.5 L509.0,24.5 L510.0,30.0 L507.0,37.0 L488.0,37.0 L483.0,32.0Z" fill="#5a82bf" fill-opacity="0.75" filter="url(#b2)"/>
<g fill-opacity="0.35">
<circle cx="484.2" cy="26.9" r="3.4" fill="#6a8fc6"/>
<circle cx="487.2" cy="26.8" r="3.4" fill="#7d9bcc"/>
<circle cx="504.4" cy="28.0" r="3.4" fill="#6a8fc6"/>
<circle cx="501.2" cy="24.2" r="3.4" fill="#7d9bcc"/>
<circle cx="509.9" cy="35.2" r="3.4" fill="#6a8fc6"/>
<circle cx="494.1" cy="24.9" r="3.4" fill="#7d9bcc"/>
<circle cx="495.2" cy="32.7" r="3.4" fill="#7d9bcc"/>
<circle cx="490.4" cy="24.0" r="3.4" fill="#6a8fc6"/>
<circle cx="490.5" cy="32.0" r="3.4" fill="#7d9bcc"/>
<circle cx="484.4" cy="30.7" r="3.4" fill="#4f7bbd"/>
<circle cx="504.2" cy="32.4" r="3.4" fill="#6a8fc6"/>
<circle cx="503.8" cy="33.9" r="3.4" fill="#4f7bbd"/>
<circle cx="506.4" cy="29.3" r="3.4" fill="#4f7bbd"/>
<circle cx="500.8" cy="36.5" r="3.4" fill="#4f7bbd"/>
</g>
<path d="M459.0,72.0 L461.0,64.0 L463.0,55.0 L466.0,45.0 L470.0,38.0 L473.0,42.0 L468.0,56.0 L464.0,68.0 L461.0,76.0Z" fill="#7c90c4" fill-opacity="0.55" filter="url(#b1)"/>
<g fill-opacity="0.4">
<circle cx="461.0" cy="74.0" r="3.4" fill="#6f8fc4"/>
<circle cx="458.4" cy="83.2" r="3.4" fill="#8aa3cf"/>
<circle cx="463.7" cy="57.8" r="3.4" fill="#7f9acb"/>
<circle cx="466.9" cy="48.2" r="3.4" fill="#6f8fc4"/>
<circle cx="462.8" cy="70.8" r="3.4" fill="#7f9acb"/>
<circle cx="458.4" cy="84.2" r="3.4" fill="#6f8fc4"/>
<circle cx="461.3" cy="72.7" r="3.4" fill="#8aa3cf"/>
<circle cx="467.9" cy="45.2" r="3.4" fill="#8aa3cf"/>
<circle cx="465.2" cy="49.7" r="3.4" fill="#8aa3cf"/>
<circle cx="463.9" cy="64.4" r="3.4" fill="#7f9acb"/>
<circle cx="469.8" cy="44.5" r="3.4" fill="#8aa3cf"/>
<circle cx="460.4" cy="69.2" r="3.4" fill="#6f8fc4"/>
<circle cx="459.0" cy="73.2" r="3.4" fill="#7f9acb"/>
<circle cx="464.8" cy="58.3" r="3.4" fill="#8aa3cf"/>
<circle cx="470.4" cy="43.7" r="3.4" fill="#6f8fc4"/>
<circle cx="458.1" cy="80.3" r="3.4" fill="#7f9acb"/>
</g>
<g fill-opacity="0.15" filter="url(#b05)">
<ellipse cx="536.4" cy="82.8" rx="4.3" ry="1.9" fill="#eef0f4"/>
<ellipse cx="523.2" cy="74.6" rx="3.1" ry="1.9" fill="#e8ece6"/>
<ellipse cx="513.8" cy="70.5" rx="5.7" ry="1.9" fill="#ffffff"/>
<ellipse cx="466.4" cy="62.4" rx="6.2" ry="1.9" fill="#eef0f4"/>
<ellipse cx="527.8" cy="78.7" rx="6.8" ry="1.9" fill="#ffffff"/>
<ellipse cx="492.6" cy="66.5" rx="6.6" ry="1.9" fill="#e8ece6"/>
<ellipse cx="516.6" cy="74.6" rx="6.8" ry="1.9" fill="#ffffff"/>
<ellipse cx="500.6" cy="66.5" rx="5.7" ry="1.9" fill="#ffffff"/>
<ellipse cx="542.0" cy="86.9" rx="6.5" ry="1.9" fill="#eef0f4"/>
<ellipse cx="510.4" cy="70.5" rx="6.2" ry="1.9" fill="#e8ece6"/>
<ellipse cx="544.6" cy="82.8" rx="5.3" ry="1.9" fill="#f6e8e6"/>
<ellipse cx="529.6" cy="82.8" rx="5.6" ry="1.9" fill="#e8ece6"/>
<ellipse cx="503.6" cy="74.6" rx="3.2" ry="1.9" fill="#ffffff"/>
<ellipse cx="517.4" cy="70.5" rx="4.8" ry="1.9" fill="#e8ece6"/>
<ellipse cx="499.6" cy="62.4" rx="3.0" ry="1.9" fill="#eef0f4"/>
<ellipse cx="487.8" cy="74.6" rx="3.8" ry="1.9" fill="#eef0f4"/>
<ellipse cx="535.7" cy="82.8" rx="3.9" ry="1.9" fill="#f6e8e6"/>
<ellipse cx="530.1" cy="74.6" rx="3.2" ry="1.9" fill="#eef0f4"/>
<ellipse cx="526.4" cy="70.5" rx="3.4" ry="1.9" fill="#e8ece6"/>
<ellipse cx="510.5" cy="70.5" rx="3.3" ry="1.9" fill="#f6e8e6"/>
<ellipse cx="466.2" cy="66.5" rx="5.5" ry="1.9" fill="#f6e8e6"/>
<ellipse cx="522.8" cy="78.7" rx="6.3" ry="1.9" fill="#eef0f4"/>
<ellipse cx="505.3" cy="62.4" rx="5.6" ry="1.9" fill="#f6e8e6"/>
<ellipse cx="480.3" cy="62.4" rx="3.2" ry="1.9" fill="#ffffff"/>
<ellipse cx="487.4" cy="62.4" rx="3.2" ry="1.9" fill="#ffffff"/>
<ellipse cx="526.2" cy="82.8" rx="4.0" ry="1.9" fill="#ffffff"/>
<ellipse cx="529.4" cy="74.6" rx="4.1" ry="1.9" fill="#eef0f4"/>
<ellipse cx="516.3" cy="78.7" rx="5.8" ry="1.9" fill="#eef0f4"/>
<ellipse cx="488.6" cy="66.5" rx="3.9" ry="1.9" fill="#f6e8e6"/>
<ellipse cx="485.6" cy="74.6" rx="4.0" ry="1.9" fill="#ffffff"/>
<ellipse cx="527.8" cy="78.7" rx="6.0" ry="1.9" fill="#f6e8e6"/>
<ellipse cx="507.3" cy="70.5" rx="6.3" ry="1.9" fill="#f6e8e6"/>
<ellipse cx="477.6" cy="62.4" rx="6.2" ry="1.9" fill="#f6e8e6"/>
<ellipse cx="499.5" cy="78.7" rx="3.8" ry="1.9" fill="#ffffff"/>
<ellipse cx="493.5" cy="66.5" rx="3.7" ry="1.9" fill="#ffffff"/>
<ellipse cx="501.0" cy="66.5" rx="6.5" ry="1.9" fill="#eef0f4"/>
<ellipse cx="495.8" cy="70.5" rx="3.8" ry="1.9" fill="#eef0f4"/>
<ellipse cx="474.8" cy="66.5" rx="5.0" ry="1.9" fill="#eef0f4"/>
<ellipse cx="537.3" cy="82.8" rx="4.8" ry="1.9" fill="#eef0f4"/>
<ellipse cx="529.5" cy="82.8" rx="6.9" ry="1.9" fill="#e8ece6"/>
</g>
<g fill-opacity="0.28">
<circle cx="470.6" cy="85.9" r="3.4" fill="#f6b7ae"/>
<circle cx="521.9" cy="85.9" r="3.4" fill="#f4a09a"/>
<circle cx="517.2" cy="89.9" r="3.4" fill="#e3c9b3"/>
<circle cx="503.5" cy="85.9" r="3.4" fill="#f6b7ae"/>
<circle cx="500.2" cy="89.9" r="3.4" fill="#e3c9b3"/>
<circle cx="503.5" cy="94.0" r="3.4" fill="#f2b8b0"/>
<circle cx="510.8" cy="89.9" r="3.4" fill="#cddccd"/>
<circle cx="513.4" cy="89.9" r="3.4" fill="#f4a09a"/>
<circle cx="501.4" cy="89.9" r="3.4" fill="#c4d6e4"/>
<circle cx="483.0" cy="85.9" r="3.4" fill="#d9c6c0"/>
<circle cx="490.4" cy="85.9" r="3.4" fill="#d9c6c0"/>
<circle cx="499.1" cy="85.9" r="3.4" fill="#f6b7ae"/>
<circle cx="488.2" cy="81.8" r="3.4" fill="#cddccd"/>
<circle cx="486.5" cy="85.9" r="3.4" fill="#f2b8b0"/>
<circle cx="499.7" cy="89.9" r="3.4" fill="#d9c6c0"/>
<circle cx="495.4" cy="81.8" r="3.4" fill="#f6b7ae"/>
<circle cx="526.0" cy="94.0" r="3.4" fill="#c4d6e4"/>
<circle cx="483.4" cy="85.9" r="3.4" fill="#f4a09a"/>
</g>
<g fill-opacity="0.28">
<circle cx="456.7" cy="104.4" r="3.4" fill="#e3c9b3"/>
<circle cx="466.4" cy="96.8" r="3.4" fill="#d9c6c0"/>
<circle cx="460.7" cy="111.5" r="3.4" fill="#f4a09a"/>
<circle cx="462.1" cy="103.8" r="3.4" fill="#d5e0ee"/>
<circle cx="459.3" cy="110.1" r="3.4" fill="#f4a09a"/>
<circle cx="451.3" cy="117.8" r="3.4" fill="#f4a09a"/>
</g>
<g fill-opacity="0.25">
<circle cx="593.8" cy="113.5" r="3.4" fill="#d6e0ea"/>
<circle cx="577.3" cy="108.5" r="3.4" fill="#d6e0ea"/>
<circle cx="574.3" cy="106.1" r="3.4" fill="#e3d3c3"/>
<circle cx="579.0" cy="112.5" r="3.4" fill="#e3d3c3"/>
<circle cx="571.7" cy="109.1" r="3.4" fill="#e3d3c3"/>
<circle cx="578.9" cy="106.8" r="3.4" fill="#e3d3c3"/>
<circle cx="582.2" cy="107.6" r="3.4" fill="#d6e0ea"/>
<circle cx="579.4" cy="108.5" r="3.4" fill="#d6e0ea"/>
</g>
<g fill-opacity="0.22">
<circle cx="539.7" cy="89.9" r="3.3" fill="#f28f84"/>
<circle cx="502.4" cy="85.9" r="3.3" fill="#f28f84"/>
<circle cx="509.3" cy="85.9" r="3.3" fill="#f4a09a"/>
<circle cx="531.5" cy="85.9" r="3.3" fill="#f4a09a"/>
<circle cx="539.1" cy="85.9" r="3.3" fill="#eba59c"/>
<circle cx="541.8" cy="85.9" r="3.3" fill="#f6b0a8"/>
<circle cx="482.2" cy="81.8" r="3.3" fill="#f28f84"/>
<circle cx="486.9" cy="81.8" r="3.3" fill="#f28f84"/>
<circle cx="488.7" cy="81.8" r="3.3" fill="#f3998e"/>
<circle cx="504.9" cy="81.8" r="3.3" fill="#f28f84"/>
<circle cx="506.6" cy="81.8" r="3.3" fill="#eba59c"/>
<circle cx="516.4" cy="81.8" r="3.3" fill="#eba59c"/>
<circle cx="518.4" cy="81.8" r="3.3" fill="#f28f84"/>
<circle cx="479.4" cy="77.7" r="3.3" fill="#f28f84"/>
<circle cx="488.1" cy="77.7" r="3.3" fill="#eba59c"/>
</g>
</g>
<path d="M53.70,93.07 L54.46,90.53 L55.22,88.04 L55.98,85.62 L56.73,83.26 L57.49,80.99 L58.25,78.79 L59.01,76.68 L59.77,74.64 L60.53,72.70 L61.29,70.83 L62.05,69.05 L62.80,67.35 L63.56,65.74 L64.32,64.19 L65.08,62.70 L65.84,61.26 L66.60,59.87 L67.36,58.53 L68.12,57.23 L68.88,55.99 L69.63,54.79 L70.39,53.63 L71.15,52.52 L71.91,51.45 L72.67,50.43 L73.43,49.44 L74.19,48.50 L74.95,47.59 L75.70,46.73 L76.46,45.90 L77.22,45.11 L77.98,44.35 L78.74,43.63 L79.50,42.94 L80.26,42.29 L81.02,41.67 L81.77,41.08 L82.53,40.52 L83.29,39.99 L84.05,39.49 L84.81,39.02 L85.57,38.57 L86.33,38.16 L87.09,37.77 L87.85,37.40 L88.60,37.06 L89.36,36.75 L90.12,36.46 L90.88,36.19 L91.64,35.95 L92.40,35.73 L93.16,35.53 L93.92,35.35 L94.67,35.19 L95.43,35.05 L96.19,34.93 L96.95,34.83 L97.71,34.75 L98.47,34.68 L99.23,34.64 L99.99,34.61 L100.74,34.60 L101.50,34.60 L102.26,34.62 L103.02,34.65 L103.78,34.70 L104.54,34.77 L105.30,34.85 L106.06,34.94 L106.81,35.05 L107.57,35.17 L108.33,35.30 L109.09,35.45 L109.85,35.61 L110.61,35.78 L111.37,35.96 L112.13,36.16 L112.89,36.36 L113.64,36.58 L114.40,36.81 L115.16,37.04 L115.92,37.29 L116.68,37.55 L117.44,37.81 L118.20,38.09 L118.96,38.38 L119.71,38.67 L120.47,38.98 L121.23,39.29 L121.99,39.61 L122.75,39.94 L123.51,40.28 L124.27,40.62 L125.03,40.97 L125.78,41.33 L126.54,41.70 L127.30,42.07 L128.06,42.46 L128.82,42.84 L129.58,43.24 L130.34,43.64 L131.10,44.05 L131.85,44.46 L132.61,44.88 L133.37,45.31 L134.13,45.74 L134.89,46.18 L135.65,46.62 L136.41,47.07 L137.17,47.52 L137.93,47.98 L138.68,48.44 L139.44,48.91 L140.20,49.39 L140.96,49.86 L141.72,50.35 L142.48,50.84 L143.24,51.33 L144.00,51.82 L144.75,52.32 L145.51,52.83 L146.27,53.34" fill="none" stroke="#5a9ae6" stroke-width="1.7" stroke-linejoin="round" clip-path="url(#c0)"/>
<path d="M53.85,93.79 L54.78,91.09 L55.71,88.49 L56.65,85.96 L57.58,83.51 L58.51,81.11 L59.44,78.77 L60.38,76.48 L61.31,74.23 L62.24,72.03 L63.17,69.87 L64.10,67.79 L65.04,65.79 L65.97,63.88 L66.90,62.06 L67.83,60.34 L68.77,58.70 L69.70,57.16 L70.63,55.70 L71.56,54.33 L72.49,53.05 L73.43,51.85 L74.36,50.74 L75.29,49.71 L76.22,48.75 L77.16,47.87 L78.09,47.07 L79.02,46.33 L79.95,45.67 L80.88,45.07 L81.82,44.53 L82.75,44.05 L83.68,43.63 L84.61,43.27 L85.54,42.95 L86.48,42.69 L87.41,42.48 L88.34,42.31 L89.27,42.19 L90.21,42.11 L91.14,42.07 L92.07,42.06 L93.00,42.09 L93.93,42.15 L94.87,42.25 L95.80,42.38 L96.73,42.53 L97.66,42.71 L98.60,42.92 L99.53,43.15 L100.46,43.41 L101.39,43.68 L102.32,43.98 L103.26,44.30 L104.19,44.63 L105.12,44.99 L106.05,45.35 L106.99,45.74 L107.92,46.14 L108.85,46.55 L109.78,46.98 L110.71,47.42 L111.65,47.87 L112.58,48.34 L113.51,48.81 L114.44,49.30 L115.37,49.79 L116.31,50.29 L117.24,50.80 L118.17,51.32 L119.10,51.85 L120.04,52.39 L120.97,52.93 L121.90,53.48 L122.83,54.03 L123.76,54.59 L124.70,55.16 L125.63,55.73 L126.56,56.31 L127.49,56.89 L128.43,57.48 L129.36,58.07 L130.29,58.66 L131.22,59.26 L132.15,59.86 L133.09,60.47 L134.02,61.08 L134.95,61.69 L135.88,62.31 L136.82,62.93 L137.75,63.55 L138.68,64.17 L139.61,64.80 L140.54,65.43 L141.48,66.06 L142.41,66.69 L143.34,67.33 L144.27,67.96 L145.20,68.60 L146.14,69.24 L147.07,69.89 L148.00,70.53 L148.93,71.18 L149.87,71.82 L150.80,72.47 L151.73,73.12 L152.66,73.77 L153.59,74.43 L154.53,75.08 L155.46,75.73 L156.39,76.39 L157.32,77.05 L158.26,77.70 L159.19,78.36 L160.12,79.02 L161.05,79.68 L161.98,80.34 L162.92,81.01 L163.85,81.67 L164.78,82.33 L165.71,83.00 L166.65,83.66 L167.58,84.32 L168.51,84.99 L169.44,85.66 L170.37,86.32" fill="none" stroke="#7aace6" stroke-width="1.4" stroke-linejoin="round" clip-path="url(#c0)"/>
<path d="M53.16,95.51 L54.19,92.31 L55.22,89.23 L56.25,86.28 L57.28,83.46 L58.31,80.77 L59.34,78.20 L60.37,75.76 L61.40,73.43 L62.43,71.21 L63.46,69.09 L64.49,67.08 L65.52,65.18 L66.55,63.40 L67.58,61.74 L68.61,60.18 L69.64,58.73 L70.67,57.39 L71.70,56.15 L72.73,55.00 L73.76,53.96 L74.79,53.00 L75.82,52.13 L76.85,51.34 L77.88,50.63 L78.91,49.99 L79.94,49.43 L80.97,48.94 L82.00,48.51 L83.03,48.15 L84.06,47.84 L85.09,47.59 L86.12,47.39 L87.15,47.24 L88.18,47.14 L89.21,47.08 L90.24,47.07 L91.27,47.09 L92.30,47.16 L93.33,47.25 L94.36,47.39 L95.39,47.55 L96.42,47.74 L97.45,47.97 L98.48,48.21 L99.51,48.49 L100.54,48.79 L101.57,49.11 L102.60,49.45 L103.63,49.81 L104.66,50.19 L105.69,50.59 L106.72,51.00 L107.75,51.43 L108.78,51.88 L109.81,52.34 L110.84,52.81 L111.87,53.30 L112.90,53.80 L113.93,54.31 L114.96,54.83 L115.99,55.36 L117.02,55.90 L118.05,56.45 L119.08,57.01 L120.11,57.58 L121.14,58.15 L122.17,58.74 L123.20,59.33 L124.23,59.92 L125.26,60.52 L126.29,61.13 L127.32,61.75 L128.35,62.37 L129.38,62.99 L130.41,63.62 L131.44,64.25 L132.47,64.89 L133.50,65.53 L134.53,66.18 L135.56,66.83 L136.59,67.48 L137.62,68.14 L138.65,68.80 L139.68,69.47 L140.71,70.13 L141.74,70.80 L142.77,71.48 L143.80,72.15 L144.83,72.83 L145.86,73.51 L146.89,74.19 L147.92,74.87 L148.95,75.56 L149.98,76.24 L151.01,76.93 L152.04,77.63 L153.07,78.32 L154.10,79.01 L155.13,79.71 L156.16,80.41 L157.19,81.10 L158.22,81.80 L159.25,82.51 L160.28,83.21 L161.31,83.91 L162.34,84.62 L163.37,85.32 L164.40,86.03 L165.43,86.74 L166.46,87.44 L167.49,88.15 L168.52,88.86 L169.55,89.57 L170.58,90.29 L171.61,91.00 L172.64,91.71 L173.67,92.43 L174.70,93.14 L175.73,93.85 L176.76,94.57 L177.79,95.29 L178.82,96.00 L179.85,96.72 L180.88,97.44 L181.91,98.16 L182.94,98.87 L183.97,99.59" fill="none" stroke="#a3dcb8" stroke-width="1.4" stroke-linejoin="round" clip-path="url(#c0)"/>
<path d="M53.96,93.09 L54.97,90.02 L55.98,87.05 L57.00,84.18 L58.01,81.43 L59.02,78.80 L60.03,76.28 L61.04,73.88 L62.06,71.61 L63.07,69.46 L64.08,67.43 L65.09,65.52 L66.11,63.73 L67.12,62.07 L68.13,60.51 L69.14,59.07 L70.15,57.74 L71.17,56.52 L72.18,55.40 L73.19,54.38 L74.20,53.45 L75.22,52.61 L76.23,51.86 L77.24,51.18 L78.25,50.59 L79.26,50.07 L80.28,49.62 L81.29,49.24 L82.30,48.91 L83.31,48.65 L84.33,48.44 L85.34,48.29 L86.35,48.18 L87.36,48.12 L88.37,48.11 L89.39,48.13 L90.40,48.20 L91.41,48.30 L92.42,48.43 L93.44,48.60 L94.45,48.80 L95.46,49.02 L96.47,49.27 L97.48,49.55 L98.50,49.85 L99.51,50.17 L100.52,50.51 L101.53,50.87 L102.55,51.25 L103.56,51.65 L104.57,52.07 L105.58,52.49 L106.59,52.94 L107.61,53.39 L108.62,53.86 L109.63,54.34 L110.64,54.84 L111.66,55.34 L112.67,55.85 L113.68,56.38 L114.69,56.91 L115.70,57.45 L116.72,58.00 L117.73,58.55 L118.74,59.11 L119.75,59.68 L120.77,60.26 L121.78,60.84 L122.79,61.43 L123.80,62.02 L124.81,62.62 L125.83,63.22 L126.84,63.83 L127.85,64.44 L128.86,65.05 L129.87,65.67 L130.89,66.29 L131.90,66.92 L132.91,67.55 L133.92,68.18 L134.94,68.82 L135.95,69.46 L136.96,70.10 L137.97,70.74 L138.98,71.39 L140.00,72.03 L141.01,72.68 L142.02,73.34 L143.03,73.99 L144.05,74.65 L145.06,75.31 L146.07,75.96 L147.08,76.63 L148.09,77.29 L149.11,77.95 L150.12,78.62 L151.13,79.28 L152.14,79.95 L153.16,80.62 L154.17,81.29 L155.18,81.96 L156.19,82.64 L157.20,83.31 L158.22,83.98 L159.23,84.66 L160.24,85.33 L161.25,86.01 L162.27,86.69 L163.28,87.37 L164.29,88.04 L165.30,88.72 L166.31,89.40 L167.33,90.09 L168.34,90.77 L169.35,91.45 L170.36,92.13 L171.38,92.81 L172.39,93.50 L173.40,94.18 L174.41,94.86 L175.42,95.55 L176.44,96.23 L177.45,96.92 L178.46,97.61 L179.47,98.29 L180.49,98.98 L181.50,99.66" fill="none" stroke="#f4a7a3" stroke-width="1.4" stroke-linejoin="round" clip-path="url(#c0)"/>
<path d="M40.80,138.90 L41.81,135.18 L42.82,131.46 L43.82,127.75 L44.83,124.05 L45.84,120.37 L46.85,116.72 L47.85,113.10 L48.86,109.52 L49.87,106.00 L50.88,102.53 L51.89,99.13 L52.89,95.81 L53.90,92.58 L54.91,89.43 L55.92,86.39 L56.92,83.46 L57.93,80.64 L58.94,77.94 L59.95,75.36 L60.96,72.91 L61.96,70.59 L62.97,68.39 L63.98,66.33 L64.99,64.40 L65.99,62.60 L67.00,60.92 L68.01,59.37 L69.02,57.94 L70.03,56.62 L71.03,55.42 L72.04,54.33 L73.05,53.34 L74.06,52.46 L75.06,51.66 L76.07,50.96 L77.08,50.35 L78.09,49.81 L79.10,49.35 L80.10,48.97 L81.11,48.65 L82.12,48.40 L83.13,48.20 L84.13,48.06 L85.14,47.98 L86.15,47.94 L87.16,47.95 L88.17,48.00 L89.17,48.09 L90.18,48.22 L91.19,48.38 L92.20,48.58 L93.20,48.81 L94.21,49.06 L95.22,49.35 L96.23,49.65 L97.24,49.98 L98.24,50.34 L99.25,50.71 L100.26,51.10 L101.27,51.51 L102.27,51.93 L103.28,52.37 L104.29,52.83 L105.30,53.30 L106.31,53.78 L107.31,54.27 L108.32,54.77 L109.33,55.29 L110.34,55.81 L111.34,56.34 L112.35,56.88 L113.36,57.43 L114.37,57.99 L115.37,58.55 L116.38,59.12 L117.39,59.69 L118.40,60.27 L119.41,60.86 L120.41,61.45 L121.42,62.05 L122.43,62.65 L123.44,63.25 L124.44,63.86 L125.45,64.48 L126.46,65.09 L127.47,65.71 L128.48,66.33 L129.48,66.96 L130.49,67.59 L131.50,68.22 L132.51,68.85 L133.51,69.49 L134.52,70.13 L135.53,70.77 L136.54,71.41 L137.55,72.05 L138.55,72.70 L139.56,73.34 L140.57,73.99 L141.58,74.64 L142.58,75.29 L143.59,75.95 L144.60,76.60 L145.61,77.26 L146.62,77.91 L147.62,78.57 L148.63,79.23 L149.64,79.89 L150.65,80.55 L151.65,81.21 L152.66,81.87 L153.67,82.53 L154.68,83.20 L155.69,83.86 L156.69,84.52 L157.70,85.19 L158.71,85.85 L159.72,86.52 L160.72,87.19 L161.73,87.86 L162.74,88.52 L163.75,89.19 L164.76,89.86 L165.76,90.53 L166.77,91.20 L167.78,91.87 L168.79,92.54 L169.79,93.21 L170.80,93.88 L171.81,94.55 L172.82,95.22 L173.83,95.89 L174.83,96.56 L175.84,97.24 L176.85,97.91 L177.86,98.58 L178.86,99.25 L179.87,99.93 L180.88,100.60" fill="none" stroke="#efe2a0" stroke-width="1.4" stroke-linejoin="round" clip-path="url(#c0)"/>
<path d="M40.80,138.90 L41.82,135.20 L42.83,131.50 L43.85,127.80 L44.86,124.12 L45.88,120.46 L46.89,116.82 L47.91,113.22 L48.92,109.67 L49.94,106.16 L50.95,102.71 L51.97,99.34 L52.98,96.04 L54.00,92.83 L55.01,89.71 L56.03,86.69 L57.04,83.78 L58.06,80.99 L59.07,78.32 L60.09,75.77 L61.10,73.35 L62.12,71.05 L63.13,68.89 L64.15,66.86 L65.16,64.96 L66.18,63.19 L67.19,61.54 L68.21,60.02 L69.23,58.62 L70.24,57.34 L71.26,56.17 L72.27,55.10 L73.29,54.14 L74.30,53.28 L75.32,52.52 L76.33,51.84 L77.35,51.25 L78.36,50.74 L79.38,50.30 L80.39,49.94 L81.41,49.64 L82.42,49.40 L83.44,49.23 L84.45,49.11 L85.47,49.04 L86.48,49.01 L87.50,49.04 L88.51,49.10 L89.53,49.21 L90.54,49.35 L91.56,49.53 L92.57,49.73 L93.59,49.97 L94.60,50.24 L95.62,50.53 L96.63,50.84 L97.65,51.18 L98.67,51.54 L99.68,51.92 L100.70,52.31 L101.71,52.73 L102.73,53.16 L103.74,53.60 L104.76,54.06 L105.77,54.53 L106.79,55.02 L107.80,55.51 L108.82,56.02 L109.83,56.53 L110.85,57.06 L111.86,57.59 L112.88,58.14 L113.89,58.69 L114.91,59.24 L115.92,59.81 L116.94,60.38 L117.95,60.95 L118.97,61.53 L119.98,62.12 L121.00,62.71 L122.01,63.31 L123.03,63.91 L124.04,64.51 L125.06,65.12 L126.08,65.73 L127.09,66.35 L128.11,66.97 L129.12,67.59 L130.14,68.21 L131.15,68.84 L132.17,69.47 L133.18,70.10 L134.20,70.74 L135.21,71.37 L136.23,72.01 L137.24,72.65 L138.26,73.29 L139.27,73.94 L140.29,74.58 L141.30,75.23 L142.32,75.88 L143.33,76.53 L144.35,77.18 L145.36,77.83 L146.38,78.48 L147.39,79.14 L148.41,79.79 L149.42,80.45 L150.44,81.10 L151.45,81.76 L152.47,82.42 L153.48,83.08 L154.50,83.74 L155.52,84.40 L156.53,85.06 L157.55,85.72 L158.56,86.39 L159.58,87.05 L160.59,87.71 L161.61,88.38 L162.62,89.04 L163.64,89.71 L164.65,90.37 L165.67,91.04 L166.68,91.71 L167.70,92.37 L168.71,93.04 L169.73,93.71 L170.74,94.37 L171.76,95.04 L172.77,95.71 L173.79,96.38 L174.80,97.05 L175.82,97.72 L176.83,98.38 L177.85,99.05 L178.86,99.72 L179.88,100.39 L180.89,101.06 L181.91,101.73" fill="none" stroke="#f6c996" stroke-width="1.4" stroke-linejoin="round" clip-path="url(#c0)"/>
<path d="M246.07,117.93 L247.40,113.81 L248.74,109.75 L250.07,105.75 L251.40,101.82 L252.74,97.99 L254.07,94.26 L255.41,90.64 L256.74,87.15 L258.07,83.80 L259.41,80.60 L260.74,77.55 L262.07,74.67 L263.41,71.95 L264.74,69.40 L266.08,67.01 L267.41,64.80 L268.74,62.76 L270.08,60.88 L271.41,59.16 L272.75,57.59 L274.08,56.17 L275.41,54.90 L276.75,53.76 L278.08,52.75 L279.41,51.87 L280.75,51.09 L282.08,50.43 L283.42,49.86 L284.75,49.39 L286.08,49.01 L287.42,48.71 L288.75,48.48 L290.08,48.33 L291.42,48.23 L292.75,48.20 L294.09,48.23 L295.42,48.30 L296.75,48.42 L298.09,48.59 L299.42,48.79 L300.76,49.04 L302.09,49.31 L303.42,49.62 L304.76,49.96 L306.09,50.33 L307.42,50.72 L308.76,51.13 L310.09,51.56 L311.43,52.02 L312.76,52.49 L314.09,52.98 L315.43,53.48 L316.76,54.00 L318.09,54.53 L319.43,55.08 L320.76,55.63 L322.10,56.20 L323.43,56.78 L324.76,57.36 L326.10,57.96 L327.43,58.56 L328.77,59.17 L330.10,59.79 L331.43,60.41 L332.77,61.04 L334.10,61.67 L335.43,62.31 L336.77,62.95 L338.10,63.60 L339.44,64.25 L340.77,64.91 L342.10,65.57 L343.44,66.24 L344.77,66.90 L346.11,67.57 L347.44,68.24 L348.77,68.92 L350.11,69.60 L351.44,70.28 L352.77,70.96 L354.11,71.64 L355.44,72.33 L356.78,73.02 L358.11,73.71 L359.44,74.40 L360.78,75.09 L362.11,75.78 L363.44,76.48 L364.78,77.17 L366.11,77.87 L367.45,78.57 L368.78,79.27 L370.11,79.97 L371.45,80.67 L372.78,81.37 L374.12,82.08 L375.45,82.78 L376.78,83.48 L378.12,84.19 L379.45,84.90 L380.78,85.60 L382.12,86.31 L383.45,87.02 L384.79,87.72 L386.12,88.43 L387.45,89.14 L388.79,89.85 L390.12,90.56 L391.45,91.27 L392.79,91.98 L394.12,92.69 L395.46,93.40 L396.79,94.11 L398.12,94.82 L399.46,95.53 L400.79,96.25 L402.13,96.96 L403.46,97.67 L404.79,98.38 L406.13,99.09 L407.46,99.81 L408.79,100.52 L410.13,101.23 L411.46,101.95 L412.80,102.66 L414.13,103.37 L415.46,104.09 L416.80,104.80 L418.13,105.52 L419.46,106.23 L420.80,106.94 L422.13,107.66 L423.47,108.37 L424.80,109.09" fill="none" stroke="#5a9ae6" stroke-width="1.7" stroke-linejoin="round" clip-path="url(#c1)"/>
<path d="M246.07,119.94 L247.18,116.81 L248.29,113.70 L249.40,110.61 L250.52,107.56 L251.63,104.54 L252.74,101.56 L253.85,98.63 L254.96,95.76 L256.07,92.95 L257.18,90.21 L258.30,87.54 L259.41,84.96 L260.52,82.47 L261.63,80.07 L262.74,77.78 L263.85,75.58 L264.96,73.50 L266.08,71.52 L267.19,69.65 L268.30,67.90 L269.41,66.26 L270.52,64.73 L271.63,63.31 L272.75,62.00 L273.86,60.79 L274.97,59.69 L276.08,58.69 L277.19,57.78 L278.30,56.96 L279.41,56.23 L280.53,55.59 L281.64,55.02 L282.75,54.52 L283.86,54.10 L284.97,53.75 L286.08,53.45 L287.19,53.22 L288.31,53.03 L289.42,52.90 L290.53,52.82 L291.64,52.78 L292.75,52.78 L293.86,52.83 L294.98,52.90 L296.09,53.01 L297.20,53.15 L298.31,53.32 L299.42,53.52 L300.53,53.74 L301.64,53.99 L302.76,54.25 L303.87,54.54 L304.98,54.84 L306.09,55.16 L307.20,55.50 L308.31,55.85 L309.43,56.22 L310.54,56.60 L311.65,56.99 L312.76,57.39 L313.87,57.80 L314.98,58.22 L316.09,58.65 L317.21,59.09 L318.32,59.53 L319.43,59.99 L320.54,60.44 L321.65,60.91 L322.76,61.38 L323.87,61.86 L324.99,62.34 L326.10,62.83 L327.21,63.32 L328.32,63.81 L329.43,64.31 L330.54,64.82 L331.66,65.32 L332.77,65.83 L333.88,66.34 L334.99,66.86 L336.10,67.38 L337.21,67.90 L338.32,68.42 L339.44,68.94 L340.55,69.47 L341.66,70.00 L342.77,70.53 L343.88,71.06 L344.99,71.59 L346.11,72.13 L347.22,72.66 L348.33,73.20 L349.44,73.74 L350.55,74.28 L351.66,74.82 L352.77,75.36 L353.89,75.90 L355.00,76.45 L356.11,76.99 L357.22,77.54 L358.33,78.08 L359.44,78.63 L360.55,79.18 L361.67,79.73 L362.78,80.27 L363.89,80.82 L365.00,81.37 L366.11,81.92 L367.22,82.47 L368.34,83.03 L369.45,83.58 L370.56,84.13 L371.67,84.68 L372.78,85.23 L373.89,85.79 L375.00,86.34 L376.12,86.89 L377.23,87.45 L378.34,88.00 L379.45,88.56 L380.56,89.11 L381.67,89.67 L382.78,90.22 L383.90,90.78 L385.01,91.33 L386.12,91.89 L387.23,92.44 L388.34,93.00 L389.45,93.56 L390.57,94.11 L391.68,94.67 L392.79,95.23 L393.90,95.78" fill="none" stroke="#7aace6" stroke-width="1.4" stroke-linejoin="round" clip-path="url(#c1)"/>
<path d="M246.64,118.91 L247.84,115.64 L249.05,112.40 L250.26,109.21 L251.46,106.07 L252.67,102.99 L253.88,99.98 L255.08,97.05 L256.29,94.21 L257.50,91.46 L258.70,88.81 L259.91,86.26 L261.11,83.83 L262.32,81.52 L263.53,79.33 L264.73,77.26 L265.94,75.32 L267.15,73.50 L268.35,71.80 L269.56,70.23 L270.77,68.78 L271.97,67.44 L273.18,66.22 L274.38,65.11 L275.59,64.11 L276.80,63.20 L278.00,62.40 L279.21,61.68 L280.42,61.05 L281.62,60.50 L282.83,60.03 L284.04,59.62 L285.24,59.29 L286.45,59.02 L287.65,58.81 L288.86,58.65 L290.07,58.54 L291.27,58.49 L292.48,58.47 L293.69,58.50 L294.89,58.56 L296.10,58.66 L297.31,58.79 L298.51,58.96 L299.72,59.15 L300.92,59.37 L302.13,59.61 L303.34,59.87 L304.54,60.16 L305.75,60.46 L306.96,60.78 L308.16,61.12 L309.37,61.47 L310.58,61.84 L311.78,62.22 L312.99,62.62 L314.19,63.02 L315.40,63.44 L316.61,63.87 L317.81,64.30 L319.02,64.75 L320.23,65.20 L321.43,65.66 L322.64,66.12 L323.85,66.60 L325.05,67.08 L326.26,67.56 L327.46,68.05 L328.67,68.55 L329.88,69.05 L331.08,69.55 L332.29,70.06 L333.50,70.57 L334.70,71.08 L335.91,71.60 L337.12,72.12 L338.32,72.65 L339.53,73.18 L340.73,73.71 L341.94,74.24 L343.15,74.77 L344.35,75.31 L345.56,75.85 L346.77,76.39 L347.97,76.93 L349.18,77.47 L350.39,78.02 L351.59,78.57 L352.80,79.11 L354.00,79.66 L355.21,80.21 L356.42,80.76 L357.62,81.32 L358.83,81.87 L360.04,82.43 L361.24,82.98 L362.45,83.54 L363.66,84.10 L364.86,84.65 L366.07,85.21 L367.27,85.77 L368.48,86.33 L369.69,86.89 L370.89,87.45 L372.10,88.01 L373.31,88.58 L374.51,89.14 L375.72,89.70 L376.93,90.27 L378.13,90.83 L379.34,91.39 L380.54,91.96 L381.75,92.52 L382.96,93.09 L384.16,93.66 L385.37,94.22 L386.58,94.79 L387.78,95.35 L388.99,95.92 L390.19,96.49 L391.40,97.05 L392.61,97.62 L393.81,98.19 L395.02,98.76 L396.23,99.33 L397.43,99.89 L398.64,100.46 L399.85,101.03 L401.05,101.60 L402.26,102.17 L403.46,102.74 L404.67,103.30 L405.88,103.87 L407.08,104.44" fill="none" stroke="#a3dcb8" stroke-width="1.4" stroke-linejoin="round" clip-path="url(#c1)"/>
<path d="M245.62,122.18 L246.66,119.42 L247.70,116.68 L248.74,113.95 L249.77,111.25 L250.81,108.58 L251.85,105.94 L252.89,103.34 L253.92,100.78 L254.96,98.27 L256.00,95.82 L257.04,93.43 L258.07,91.10 L259.11,88.85 L260.15,86.67 L261.19,84.57 L262.22,82.55 L263.26,80.62 L264.30,78.78 L265.34,77.03 L266.37,75.38 L267.41,73.81 L268.45,72.35 L269.48,70.97 L270.52,69.69 L271.56,68.50 L272.60,67.40 L273.63,66.39 L274.67,65.46 L275.71,64.61 L276.75,63.85 L277.78,63.15 L278.82,62.53 L279.86,61.98 L280.90,61.49 L281.93,61.07 L282.97,60.70 L284.01,60.39 L285.05,60.12 L286.08,59.91 L287.12,59.74 L288.16,59.62 L289.20,59.53 L290.23,59.49 L291.27,59.47 L292.31,59.49 L293.35,59.54 L294.38,59.62 L295.42,59.72 L296.46,59.85 L297.49,60.00 L298.53,60.18 L299.57,60.37 L300.61,60.58 L301.64,60.81 L302.68,61.05 L303.72,61.31 L304.76,61.59 L305.79,61.87 L306.83,62.17 L307.87,62.48 L308.91,62.80 L309.94,63.13 L310.98,63.47 L312.02,63.82 L313.06,64.17 L314.09,64.54 L315.13,64.91 L316.17,65.28 L317.21,65.67 L318.24,66.06 L319.28,66.45 L320.32,66.85 L321.36,67.25 L322.39,67.66 L323.43,68.07 L324.47,68.49 L325.51,68.91 L326.54,69.33 L327.58,69.76 L328.62,70.19 L329.65,70.62 L330.69,71.05 L331.73,71.49 L332.77,71.93 L333.80,72.37 L334.84,72.81 L335.88,73.26 L336.92,73.71 L337.95,74.16 L338.99,74.61 L340.03,75.06 L341.07,75.51 L342.10,75.97 L343.14,76.43 L344.18,76.88 L345.22,77.34 L346.25,77.80 L347.29,78.26 L348.33,78.73 L349.37,79.19 L350.40,79.65 L351.44,80.12 L352.48,80.58 L353.52,81.05 L354.55,81.51 L355.59,81.98 L356.63,82.45 L357.66,82.92 L358.70,83.39 L359.74,83.86 L360.78,84.33 L361.81,84.80 L362.85,85.27 L363.89,85.74 L364.93,86.21 L365.96,86.69 L367.00,87.16 L368.04,87.63 L369.08,88.11 L370.11,88.58 L371.15,89.05 L372.19,89.53 L373.23,90.00 L374.26,90.48 L375.30,90.95 L376.34,91.43 L377.38,91.90 L378.41,92.38 L379.45,92.86 L380.49,93.33 L381.53,93.81 L382.56,94.28 L383.60,94.76" fill="none" stroke="#f4a7a3" stroke-width="1.4" stroke-linejoin="round" clip-path="url(#c1)"/>
<path d="M239.40,138.90 L240.34,136.41 L241.29,133.92 L242.23,131.43 L243.18,128.94 L244.12,126.45 L245.06,123.97 L246.01,121.49 L246.95,119.02 L247.90,116.56 L248.84,114.11 L249.78,111.67 L250.73,109.25 L251.67,106.86 L252.62,104.48 L253.56,102.14 L254.50,99.83 L255.45,97.56 L256.39,95.33 L257.34,93.14 L258.28,91.00 L259.22,88.92 L260.17,86.90 L261.11,84.95 L262.06,83.06 L263.00,81.24 L263.95,79.49 L264.89,77.82 L265.83,76.22 L266.78,74.71 L267.72,73.28 L268.67,71.92 L269.61,70.65 L270.55,69.46 L271.50,68.35 L272.44,67.32 L273.39,66.36 L274.33,65.49 L275.27,64.68 L276.22,63.94 L277.16,63.28 L278.11,62.67 L279.05,62.13 L279.99,61.65 L280.94,61.23 L281.88,60.86 L282.83,60.54 L283.77,60.27 L284.71,60.04 L285.66,59.86 L286.60,59.72 L287.55,59.61 L288.49,59.54 L289.43,59.50 L290.38,59.50 L291.32,59.52 L292.27,59.57 L293.21,59.64 L294.15,59.74 L295.10,59.86 L296.04,60.00 L296.99,60.16 L297.93,60.34 L298.87,60.54 L299.82,60.74 L300.76,60.97 L301.71,61.21 L302.65,61.46 L303.59,61.72 L304.54,61.99 L305.48,62.27 L306.43,62.56 L307.37,62.86 L308.32,63.17 L309.26,63.49 L310.20,63.81 L311.15,64.14 L312.09,64.48 L313.04,64.82 L313.98,65.17 L314.92,65.52 L315.87,65.88 L316.81,66.24 L317.76,66.61 L318.70,66.98 L319.64,67.35 L320.59,67.73 L321.53,68.11 L322.48,68.49 L323.42,68.87 L324.36,69.26 L325.31,69.65 L326.25,70.05 L327.20,70.44 L328.14,70.84 L329.08,71.24 L330.03,71.64 L330.97,72.04 L331.92,72.45 L332.86,72.85 L333.80,73.26 L334.75,73.67 L335.69,74.08 L336.64,74.49 L337.58,74.90 L338.52,75.32 L339.47,75.73 L340.41,76.15 L341.36,76.56 L342.30,76.98 L343.24,77.40 L344.19,77.82 L345.13,78.23 L346.08,78.65 L347.02,79.08 L347.96,79.50 L348.91,79.92 L349.85,80.34 L350.80,80.76 L351.74,81.19 L352.69,81.61 L353.63,82.03 L354.57,82.46 L355.52,82.88 L356.46,83.31 L357.41,83.73 L358.35,84.16 L359.29,84.58 L360.24,85.01 L361.18,85.44 L362.13,85.86 L363.07,86.29 L364.01,86.72 L364.96,87.15 L365.90,87.57 L366.85,88.00 L367.79,88.43 L368.73,88.86 L369.68,89.29 L370.62,89.71" fill="none" stroke="#efe2a0" stroke-width="1.4" stroke-linejoin="round" clip-path="url(#c1)"/>
<path d="M239.40,138.90 L240.50,136.03 L241.61,133.15 L242.71,130.28 L243.81,127.41 L244.91,124.54 L246.02,121.68 L247.12,118.83 L248.22,115.99 L249.32,113.17 L250.43,110.37 L251.53,107.60 L252.63,104.86 L253.73,102.16 L254.84,99.50 L255.94,96.90 L257.04,94.35 L258.14,91.87 L259.25,89.47 L260.35,87.15 L261.45,84.91 L262.55,82.76 L263.66,80.71 L264.76,78.76 L265.86,76.92 L266.97,75.18 L268.07,73.55 L269.17,72.04 L270.27,70.63 L271.38,69.32 L272.48,68.13 L273.58,67.04 L274.68,66.05 L275.79,65.16 L276.89,64.36 L277.99,63.65 L279.09,63.02 L280.20,62.47 L281.30,62.00 L282.40,61.60 L283.50,61.27 L284.61,61.00 L285.71,60.79 L286.81,60.63 L287.92,60.52 L289.02,60.46 L290.12,60.44 L291.22,60.46 L292.33,60.51 L293.43,60.60 L294.53,60.73 L295.63,60.88 L296.74,61.05 L297.84,61.25 L298.94,61.48 L300.04,61.72 L301.15,61.99 L302.25,62.27 L303.35,62.56 L304.45,62.88 L305.56,63.20 L306.66,63.54 L307.76,63.89 L308.86,64.25 L309.97,64.62 L311.07,65.00 L312.17,65.39 L313.28,65.79 L314.38,66.19 L315.48,66.60 L316.58,67.01 L317.69,67.44 L318.79,67.86 L319.89,68.29 L320.99,68.73 L322.10,69.17 L323.20,69.62 L324.30,70.06 L325.40,70.51 L326.51,70.97 L327.61,71.43 L328.71,71.89 L329.81,72.35 L330.92,72.81 L332.02,73.28 L333.12,73.75 L334.23,74.22 L335.33,74.69 L336.43,75.17 L337.53,75.64 L338.64,76.12 L339.74,76.60 L340.84,77.08 L341.94,77.56 L343.05,78.04 L344.15,78.52 L345.25,79.01 L346.35,79.49 L347.46,79.98 L348.56,80.46 L349.66,80.95 L350.76,81.44 L351.87,81.93 L352.97,82.41 L354.07,82.90 L355.17,83.39 L356.28,83.88 L357.38,84.38 L358.48,84.87 L359.59,85.36 L360.69,85.85 L361.79,86.34 L362.89,86.84 L364.00,87.33 L365.10,87.82 L366.20,88.32 L367.30,88.81 L368.41,89.30 L369.51,89.80 L370.61,90.29 L371.71,90.79 L372.82,91.28 L373.92,91.78 L375.02,92.27 L376.12,92.77 L377.23,93.26 L378.33,93.76 L379.43,94.26 L380.54,94.75 L381.64,95.25 L382.74,95.74 L383.84,96.24 L384.95,96.74 L386.05,97.23 L387.15,97.73 L388.25,98.23 L389.36,98.72 L390.46,99.22 L391.56,99.72 L392.66,100.22" fill="none" stroke="#f6c996" stroke-width="1.4" stroke-linejoin="round" clip-path="url(#c1)"/>
<path d="M444.97,114.51 L446.30,109.84 L447.64,105.28 L448.97,100.84 L450.30,96.56 L451.64,92.42 L452.97,88.46 L454.31,84.68 L455.64,81.08 L456.97,77.67 L458.31,74.45 L459.64,71.43 L460.97,68.60 L462.31,65.96 L463.64,63.52 L464.98,61.25 L466.31,59.16 L467.64,57.24 L468.98,55.49 L470.31,53.89 L471.65,52.44 L472.98,51.13 L474.31,49.95 L475.65,48.90 L476.98,47.97 L478.31,47.15 L479.65,46.43 L480.98,45.81 L482.32,45.28 L483.65,44.84 L484.98,44.47 L486.32,44.18 L487.65,43.96 L488.98,43.80 L490.32,43.70 L491.65,43.66 L492.99,43.67 L494.32,43.72 L495.65,43.82 L496.99,43.97 L498.32,44.15 L499.66,44.37 L500.99,44.62 L502.32,44.90 L503.66,45.21 L504.99,45.55 L506.32,45.92 L507.66,46.30 L508.99,46.72 L510.33,47.15 L511.66,47.60 L512.99,48.07 L514.33,48.55 L515.66,49.05 L516.99,49.57 L518.33,50.10 L519.66,50.64 L521.00,51.20 L522.33,51.76 L523.66,52.34 L525.00,52.93 L526.33,53.53 L527.67,54.13 L529.00,54.75 L530.33,55.37 L531.67,56.00 L533.00,56.63 L534.33,57.28 L535.67,57.93 L537.00,58.58 L538.34,59.24 L539.67,59.91 L541.00,60.58 L542.34,61.25 L543.67,61.93 L545.01,62.61 L546.34,63.30 L547.67,63.99 L549.01,64.68 L550.34,65.38 L551.67,66.08 L553.01,66.78 L554.34,67.49 L555.68,68.20 L557.01,68.91 L558.34,69.62 L559.68,70.34 L561.01,71.06 L562.34,71.78 L563.68,72.50 L565.01,73.22 L566.35,73.95 L567.68,74.68 L569.01,75.40 L570.35,76.13 L571.68,76.86 L573.02,77.60 L574.35,78.33 L575.68,79.07 L577.02,79.80 L578.35,80.54 L579.68,81.28 L581.02,82.02 L582.35,82.76 L583.69,83.50 L585.02,84.24 L586.35,84.98 L587.69,85.73 L589.02,86.47 L590.35,87.21 L591.69,87.96 L593.02,88.71 L594.36,89.45 L595.69,90.20 L597.02,90.95 L598.36,91.70 L599.69,92.44 L601.03,93.19 L602.36,93.94 L603.69,94.69 L605.03,95.44 L606.36,96.19 L607.69,96.95 L609.03,97.70 L610.36,98.45 L611.70,99.20 L613.03,99.95 L614.36,100.71 L615.70,101.46 L617.03,102.21 L618.36,102.97 L619.70,103.72 L621.03,104.47 L622.37,105.23 L623.70,105.98" fill="none" stroke="#5a9ae6" stroke-width="1.7" stroke-linejoin="round" clip-path="url(#c2)"/>
<path d="M444.97,116.00 L446.30,111.59 L447.64,107.27 L448.97,103.06 L450.30,98.98 L451.64,95.05 L452.97,91.27 L454.31,87.66 L455.64,84.23 L456.97,80.98 L458.31,77.93 L459.64,75.06 L460.97,72.38 L462.31,69.89 L463.64,67.59 L464.98,65.47 L466.31,63.52 L467.64,61.75 L468.98,60.14 L470.31,58.68 L471.65,57.37 L472.98,56.20 L474.31,55.16 L475.65,54.24 L476.98,53.43 L478.31,52.73 L479.65,52.13 L480.98,51.62 L482.32,51.20 L483.65,50.86 L484.98,50.59 L486.32,50.39 L487.65,50.26 L488.98,50.18 L490.32,50.16 L491.65,50.18 L492.99,50.25 L494.32,50.37 L495.65,50.53 L496.99,50.72 L498.32,50.94 L499.66,51.20 L500.99,51.49 L502.32,51.80 L503.66,52.14 L504.99,52.50 L506.32,52.88 L507.66,53.28 L508.99,53.70 L510.33,54.14 L511.66,54.59 L512.99,55.06 L514.33,55.54 L515.66,56.04 L516.99,56.55 L518.33,57.06 L519.66,57.59 L521.00,58.13 L522.33,58.68 L523.66,59.23 L525.00,59.80 L526.33,60.37 L527.67,60.94 L529.00,61.53 L530.33,62.12 L531.67,62.71 L533.00,63.31 L534.33,63.92 L535.67,64.53 L537.00,65.15 L538.34,65.76 L539.67,66.39 L541.00,67.01 L542.34,67.64 L543.67,68.28 L545.01,68.91 L546.34,69.55 L547.67,70.19 L549.01,70.84 L550.34,71.48 L551.67,72.13 L553.01,72.78 L554.34,73.43 L555.68,74.09 L557.01,74.74 L558.34,75.40 L559.68,76.06 L561.01,76.72 L562.34,77.38 L563.68,78.05 L565.01,78.71 L566.35,79.38 L567.68,80.04 L569.01,80.71 L570.35,81.38 L571.68,82.05 L573.02,82.72 L574.35,83.39 L575.68,84.07 L577.02,84.74 L578.35,85.41 L579.68,86.09 L581.02,86.76 L582.35,87.44 L583.69,88.12 L585.02,88.79 L586.35,89.47 L587.69,90.15 L589.02,90.83 L590.35,91.51 L591.69,92.19 L593.02,92.87 L594.36,93.55 L595.69,94.23 L597.02,94.91 L598.36,95.59 L599.69,96.27 L601.03,96.95 L602.36,97.64 L603.69,98.32 L605.03,99.00 L606.36,99.68 L607.69,100.37 L609.03,101.05 L610.36,101.73 L611.70,102.42 L613.03,103.10 L614.36,103.79 L615.70,104.47 L617.03,105.15 L618.36,105.84 L619.70,106.52 L621.03,107.21 L622.37,107.89 L623.70,108.58" fill="none" stroke="#7aace6" stroke-width="1.4" stroke-linejoin="round" clip-path="url(#c2)"/>
<path d="M444.79,117.21 L446.09,113.01 L447.39,108.88 L448.69,104.86 L449.98,100.94 L451.28,97.16 L452.58,93.51 L453.88,90.03 L455.18,86.70 L456.48,83.55 L457.77,80.58 L459.07,77.80 L460.37,75.20 L461.67,72.78 L462.97,70.54 L464.26,68.49 L465.56,66.61 L466.86,64.89 L468.16,63.34 L469.46,61.94 L470.76,60.68 L472.05,59.56 L473.35,58.57 L474.65,57.70 L475.95,56.94 L477.25,56.28 L478.55,55.73 L479.84,55.26 L481.14,54.88 L482.44,54.57 L483.74,54.33 L485.04,54.17 L486.34,54.06 L487.63,54.00 L488.93,54.00 L490.23,54.05 L491.53,54.14 L492.83,54.26 L494.12,54.43 L495.42,54.63 L496.72,54.86 L498.02,55.12 L499.32,55.41 L500.62,55.72 L501.91,56.06 L503.21,56.41 L504.51,56.79 L505.81,57.18 L507.11,57.59 L508.41,58.01 L509.70,58.45 L511.00,58.90 L512.30,59.37 L513.60,59.84 L514.90,60.33 L516.19,60.83 L517.49,61.33 L518.79,61.84 L520.09,62.36 L521.39,62.89 L522.69,63.43 L523.98,63.97 L525.28,64.52 L526.58,65.07 L527.88,65.63 L529.18,66.19 L530.48,66.76 L531.77,67.33 L533.07,67.90 L534.37,68.48 L535.67,69.06 L536.97,69.65 L538.26,70.24 L539.56,70.83 L540.86,71.42 L542.16,72.02 L543.46,72.62 L544.76,73.22 L546.05,73.82 L547.35,74.42 L548.65,75.03 L549.95,75.64 L551.25,76.25 L552.55,76.86 L553.84,77.47 L555.14,78.09 L556.44,78.70 L557.74,79.32 L559.04,79.94 L560.33,80.56 L561.63,81.18 L562.93,81.80 L564.23,82.42 L565.53,83.04 L566.83,83.66 L568.12,84.29 L569.42,84.91 L570.72,85.54 L572.02,86.16 L573.32,86.79 L574.62,87.42 L575.91,88.04 L577.21,88.67 L578.51,89.30 L579.81,89.93 L581.11,90.56 L582.41,91.19 L583.70,91.82 L585.00,92.45 L586.30,93.08 L587.60,93.71 L588.90,94.34 L590.19,94.98 L591.49,95.61 L592.79,96.24 L594.09,96.87 L595.39,97.51 L596.69,98.14 L597.98,98.77 L599.28,99.41 L600.58,100.04 L601.88,100.67 L603.18,101.31 L604.48,101.94 L605.77,102.58 L607.07,103.21 L608.37,103.84 L609.67,104.48 L610.97,105.11 L612.26,105.75 L613.56,106.38 L614.86,107.02 L616.16,107.65 L617.46,108.29 L618.76,108.93" fill="none" stroke="#a3dcb8" stroke-width="1.4" stroke-linejoin="round" clip-path="url(#c2)"/>
<path d="M444.52,118.02 L445.56,114.64 L446.60,111.31 L447.64,108.03 L448.67,104.83 L449.71,101.70 L450.75,98.65 L451.79,95.70 L452.82,92.83 L453.86,90.08 L454.90,87.42 L455.94,84.88 L456.97,82.45 L458.01,80.14 L459.05,77.94 L460.09,75.87 L461.12,73.91 L462.16,72.06 L463.20,70.33 L464.24,68.71 L465.27,67.20 L466.31,65.80 L467.35,64.50 L468.38,63.30 L469.42,62.20 L470.46,61.19 L471.50,60.27 L472.53,59.42 L473.57,58.66 L474.61,57.98 L475.65,57.36 L476.68,56.82 L477.72,56.33 L478.76,55.91 L479.80,55.55 L480.83,55.24 L481.87,54.97 L482.91,54.76 L483.95,54.59 L484.98,54.46 L486.02,54.37 L487.06,54.32 L488.10,54.30 L489.13,54.32 L490.17,54.36 L491.21,54.44 L492.25,54.54 L493.28,54.66 L494.32,54.81 L495.36,54.98 L496.39,55.17 L497.43,55.38 L498.47,55.61 L499.51,55.86 L500.54,56.12 L501.58,56.40 L502.62,56.69 L503.66,56.99 L504.69,57.31 L505.73,57.64 L506.77,57.98 L507.81,58.33 L508.84,58.69 L509.88,59.06 L510.92,59.44 L511.96,59.83 L512.99,60.22 L514.03,60.62 L515.07,61.03 L516.11,61.45 L517.14,61.87 L518.18,62.29 L519.22,62.73 L520.26,63.16 L521.29,63.61 L522.33,64.05 L523.37,64.51 L524.41,64.96 L525.44,65.42 L526.48,65.88 L527.52,66.35 L528.55,66.82 L529.59,67.29 L530.63,67.77 L531.67,68.25 L532.70,68.73 L533.74,69.21 L534.78,69.70 L535.82,70.19 L536.85,70.68 L537.89,71.17 L538.93,71.67 L539.97,72.17 L541.00,72.66 L542.04,73.17 L543.08,73.67 L544.12,74.17 L545.15,74.68 L546.19,75.18 L547.23,75.69 L548.27,76.20 L549.30,76.71 L550.34,77.22 L551.38,77.73 L552.42,78.25 L553.45,78.76 L554.49,79.28 L555.53,79.79 L556.56,80.31 L557.60,80.83 L558.64,81.35 L559.68,81.87 L560.71,82.39 L561.75,82.91 L562.79,83.43 L563.83,83.95 L564.86,84.48 L565.90,85.00 L566.94,85.52 L567.98,86.05 L569.01,86.57 L570.05,87.10 L571.09,87.62 L572.13,88.15 L573.16,88.68 L574.20,89.20 L575.24,89.73 L576.28,90.26 L577.31,90.79 L578.35,91.32 L579.39,91.84 L580.43,92.37 L581.46,92.90 L582.50,93.43" fill="none" stroke="#f4a7a3" stroke-width="1.4" stroke-linejoin="round" clip-path="url(#c2)"/>
<path d="M438.30,138.90 L439.41,135.07 L440.52,131.25 L441.63,127.45 L442.75,123.67 L443.86,119.92 L444.97,116.22 L446.08,112.58 L447.19,109.00 L448.30,105.50 L449.42,102.09 L450.53,98.78 L451.64,95.57 L452.75,92.47 L453.86,89.49 L454.97,86.64 L456.08,83.92 L457.20,81.33 L458.31,78.87 L459.42,76.55 L460.53,74.37 L461.64,72.32 L462.75,70.40 L463.86,68.62 L464.98,66.96 L466.09,65.42 L467.20,64.00 L468.31,62.70 L469.42,61.51 L470.53,60.42 L471.65,59.44 L472.76,58.55 L473.87,57.75 L474.98,57.04 L476.09,56.40 L477.20,55.85 L478.31,55.36 L479.43,54.95 L480.54,54.59 L481.65,54.30 L482.76,54.06 L483.87,53.88 L484.98,53.74 L486.09,53.65 L487.21,53.60 L488.32,53.60 L489.43,53.63 L490.54,53.70 L491.65,53.80 L492.76,53.93 L493.88,54.08 L494.99,54.27 L496.10,54.48 L497.21,54.72 L498.32,54.97 L499.43,55.25 L500.54,55.55 L501.66,55.86 L502.77,56.20 L503.88,56.54 L504.99,56.91 L506.10,57.28 L507.21,57.67 L508.33,58.08 L509.44,58.49 L510.55,58.91 L511.66,59.35 L512.77,59.79 L513.88,60.25 L514.99,60.71 L516.11,61.18 L517.22,61.66 L518.33,62.14 L519.44,62.63 L520.55,63.13 L521.66,63.63 L522.77,64.14 L523.89,64.66 L525.00,65.18 L526.11,65.70 L527.22,66.23 L528.33,66.76 L529.44,67.30 L530.56,67.84 L531.67,68.38 L532.78,68.93 L533.89,69.48 L535.00,70.03 L536.11,70.59 L537.22,71.14 L538.34,71.71 L539.45,72.27 L540.56,72.84 L541.67,73.40 L542.78,73.97 L543.89,74.55 L545.01,75.12 L546.12,75.69 L547.23,76.27 L548.34,76.85 L549.45,77.43 L550.56,78.01 L551.67,78.60 L552.79,79.18 L553.90,79.77 L555.01,80.35 L556.12,80.94 L557.23,81.53 L558.34,82.12 L559.45,82.71 L560.57,83.30 L561.68,83.89 L562.79,84.49 L563.90,85.08 L565.01,85.68 L566.12,86.27 L567.24,86.87 L568.35,87.47 L569.46,88.06 L570.57,88.66 L571.68,89.26 L572.79,89.86 L573.90,90.46 L575.02,91.06 L576.13,91.66 L577.24,92.26 L578.35,92.86 L579.46,93.46 L580.57,94.07 L581.68,94.67 L582.80,95.27 L583.91,95.88 L585.02,96.48 L586.13,97.08 L587.24,97.69 L588.35,98.29 L589.47,98.90 L590.58,99.50 L591.69,100.11 L592.80,100.71" fill="none" stroke="#efe2a0" stroke-width="1.4" stroke-linejoin="round" clip-path="url(#c2)"/>
<path d="M438.30,138.90 L439.55,134.65 L440.80,130.41 L442.05,126.19 L443.30,122.01 L444.55,117.87 L445.80,113.81 L447.05,109.82 L448.29,105.93 L449.54,102.14 L450.79,98.48 L452.04,94.95 L453.29,91.57 L454.54,88.34 L455.79,85.27 L457.04,82.36 L458.29,79.62 L459.54,77.05 L460.79,74.65 L462.04,72.42 L463.29,70.35 L464.54,68.44 L465.79,66.69 L467.03,65.09 L468.28,63.64 L469.53,62.32 L470.78,61.13 L472.03,60.06 L473.28,59.12 L474.53,58.28 L475.78,57.55 L477.03,56.91 L478.28,56.37 L479.53,55.91 L480.78,55.53 L482.03,55.22 L483.28,54.98 L484.53,54.80 L485.77,54.68 L487.02,54.62 L488.27,54.61 L489.52,54.65 L490.77,54.72 L492.02,54.84 L493.27,55.00 L494.52,55.19 L495.77,55.42 L497.02,55.67 L498.27,55.96 L499.52,56.27 L500.77,56.60 L502.02,56.95 L503.27,57.33 L504.51,57.72 L505.76,58.14 L507.01,58.57 L508.26,59.01 L509.51,59.47 L510.76,59.94 L512.01,60.43 L513.26,60.93 L514.51,61.44 L515.76,61.96 L517.01,62.48 L518.26,63.02 L519.51,63.57 L520.76,64.12 L522.01,64.68 L523.25,65.25 L524.50,65.82 L525.75,66.40 L527.00,66.99 L528.25,67.58 L529.50,68.17 L530.75,68.77 L532.00,69.38 L533.25,69.99 L534.50,70.60 L535.75,71.22 L537.00,71.84 L538.25,72.46 L539.50,73.08 L540.75,73.71 L542.00,74.34 L543.24,74.98 L544.49,75.61 L545.74,76.25 L546.99,76.89 L548.24,77.54 L549.49,78.18 L550.74,78.83 L551.99,79.47 L553.24,80.12 L554.49,80.77 L555.74,81.43 L556.99,82.08 L558.24,82.74 L559.49,83.39 L560.74,84.05 L561.98,84.71 L563.23,85.37 L564.48,86.03 L565.73,86.69 L566.98,87.35 L568.23,88.01 L569.48,88.68 L570.73,89.34 L571.98,90.01 L573.23,90.67 L574.48,91.34 L575.73,92.01 L576.98,92.67 L578.23,93.34 L579.48,94.01 L580.72,94.68 L581.97,95.35 L583.22,96.02 L584.47,96.69 L585.72,97.36 L586.97,98.03 L588.22,98.70 L589.47,99.37 L590.72,100.05 L591.97,100.72 L593.22,101.39 L594.47,102.06 L595.72,102.74 L596.97,103.41 L598.22,104.08 L599.46,104.76 L600.71,105.43 L601.96,106.11 L603.21,106.78 L604.46,107.45 L605.71,108.13 L606.96,108.80 L608.21,109.48 L609.46,110.15 L610.71,110.83 L611.96,111.50" fill="none" stroke="#f6c996" stroke-width="1.4" stroke-linejoin="round" clip-path="url(#c2)"/>
<rect x="40.8" y="23.2" width="185.4" height="115.7" fill="none" stroke="#bdbdbd" stroke-width="1.1"/>
<line x1="39.0" y1="138.90" x2="40.8" y2="138.90" stroke="#999" stroke-width="0.9"/>
<line x1="39.0" y1="125.29" x2="40.8" y2="125.29" stroke="#999" stroke-width="0.9"/>
<line x1="39.0" y1="111.68" x2="40.8" y2="111.68" stroke="#999" stroke-width="0.9"/>
<line x1="39.0" y1="98.06" x2="40.8" y2="98.06" stroke="#999" stroke-width="0.9"/>
<line x1="39.0" y1="84.45" x2="40.8" y2="84.45" stroke="#999" stroke-width="0.9"/>
<line x1="39.0" y1="70.84" x2="40.8" y2="70.84" stroke="#999" stroke-width="0.9"/>
<line x1="39.0" y1="57.23" x2="40.8" y2="57.23" stroke="#999" stroke-width="0.9"/>
<line x1="39.0" y1="43.62" x2="40.8" y2="43.62" stroke="#999" stroke-width="0.9"/>
<line x1="39.0" y1="30.01" x2="40.8" y2="30.01" stroke="#999" stroke-width="0.9"/>
<line x1="40.80" y1="138.9" x2="40.80" y2="140.7" stroke="#999" stroke-width="0.9"/>
<text x="40.80" y="149.8" font-size="10.3" text-anchor="middle" fill="#262626">0</text>
<line x1="61.40" y1="138.9" x2="61.40" y2="140.7" stroke="#999" stroke-width="0.9"/>
<text x="61.40" y="149.8" font-size="10.3" text-anchor="middle" fill="#262626">10</text>
<line x1="82.00" y1="138.9" x2="82.00" y2="140.7" stroke="#999" stroke-width="0.9"/>
<text x="82.00" y="149.8" font-size="10.3" text-anchor="middle" fill="#262626">20</text>
<line x1="102.60" y1="138.9" x2="102.60" y2="140.7" stroke="#999" stroke-width="0.9"/>
<text x="102.60" y="149.8" font-size="10.3" text-anchor="middle" fill="#262626">30</text>
<line x1="123.20" y1="138.9" x2="123.20" y2="140.7" stroke="#999" stroke-width="0.9"/>
<text x="123.20" y="149.8" font-size="10.3" text-anchor="middle" fill="#262626">40</text>
<line x1="143.80" y1="138.9" x2="143.80" y2="140.7" stroke="#999" stroke-width="0.9"/>
<text x="143.80" y="149.8" font-size="10.3" text-anchor="middle" fill="#262626">50</text>
<line x1="164.40" y1="138.9" x2="164.40" y2="140.7" stroke="#999" stroke-width="0.9"/>
<text x="164.40" y="149.8" font-size="10.3" text-anchor="middle" fill="#262626">60</text>
<line x1="185.00" y1="138.9" x2="185.00" y2="140.7" stroke="#999" stroke-width="0.9"/>
<text x="185.00" y="149.8" font-size="10.3" text-anchor="middle" fill="#262626">70</text>
<line x1="205.60" y1="138.9" x2="205.60" y2="140.7" stroke="#999" stroke-width="0.9"/>
<text x="205.60" y="149.8" font-size="10.3" text-anchor="middle" fill="#262626">80</text>
<line x1="226.20" y1="138.9" x2="226.20" y2="140.7" stroke="#999" stroke-width="0.9"/>
<text x="226.20" y="149.8" font-size="10.3" text-anchor="middle" fill="#262626">90</text>
<text x="133.5" y="161.5" font-size="10.8" text-anchor="middle" fill="#262626">Density (veh/ln/km)</text>
<rect x="239.4" y="23.2" width="185.3" height="115.7" fill="none" stroke="#bdbdbd" stroke-width="1.1"/>
<line x1="237.6" y1="138.90" x2="239.4" y2="138.90" stroke="#999" stroke-width="0.9"/>
<line x1="237.6" y1="125.29" x2="239.4" y2="125.29" stroke="#999" stroke-width="0.9"/>
<line x1="237.6" y1="111.68" x2="239.4" y2="111.68" stroke="#999" stroke-width="0.9"/>
<line x1="237.6" y1="98.06" x2="239.4" y2="98.06" stroke="#999" stroke-width="0.9"/>
<line x1="237.6" y1="84.45" x2="239.4" y2="84.45" stroke="#999" stroke-width="0.9"/>
<line x1="237.6" y1="70.84" x2="239.4" y2="70.84" stroke="#999" stroke-width="0.9"/>
<line x1="237.6" y1="57.23" x2="239.4" y2="57.23" stroke="#999" stroke-width="0.9"/>
<line x1="237.6" y1="43.62" x2="239.4" y2="43.62" stroke="#999" stroke-width="0.9"/>
<line x1="237.6" y1="30.01" x2="239.4" y2="30.01" stroke="#999" stroke-width="0.9"/>
<line x1="239.40" y1="138.9" x2="239.40" y2="140.7" stroke="#999" stroke-width="0.9"/>
<text x="239.40" y="149.8" font-size="10.3" text-anchor="middle" fill="#262626">0</text>
<line x1="260.00" y1="138.9" x2="260.00" y2="140.7" stroke="#999" stroke-width="0.9"/>
<text x="260.00" y="149.8" font-size="10.3" text-anchor="middle" fill="#262626">10</text>
<line x1="280.60" y1="138.9" x2="280.60" y2="140.7" stroke="#999" stroke-width="0.9"/>
<text x="280.60" y="149.8" font-size="10.3" text-anchor="middle" fill="#262626">20</text>
<line x1="301.20" y1="138.9" x2="301.20" y2="140.7" stroke="#999" stroke-width="0.9"/>
<text x="301.20" y="149.8" font-size="10.3" text-anchor="middle" fill="#262626">30</text>
<line x1="321.80" y1="138.9" x2="321.80" y2="140.7" stroke="#999" stroke-width="0.9"/>
<text x="321.80" y="149.8" font-size="10.3" text-anchor="middle" fill="#262626">40</text>
<line x1="342.40" y1="138.9" x2="342.40" y2="140.7" stroke="#999" stroke-width="0.9"/>
<text x="342.40" y="149.8" font-size="10.3" text-anchor="middle" fill="#262626">50</text>
<line x1="363.00" y1="138.9" x2="363.00" y2="140.7" stroke="#999" stroke-width="0.9"/>
<text x="363.00" y="149.8" font-size="10.3" text-anchor="middle" fill="#262626">60</text>
<line x1="383.60" y1="138.9" x2="383.60" y2="140.7" stroke="#999" stroke-width="0.9"/>
<text x="383.60" y="149.8" font-size="10.3" text-anchor="middle" fill="#262626">70</text>
<line x1="404.20" y1="138.9" x2="404.20" y2="140.7" stroke="#999" stroke-width="0.9"/>
<text x="404.20" y="149.8" font-size="10.3" text-anchor="middle" fill="#262626">80</text>
<line x1="424.80" y1="138.9" x2="424.80" y2="140.7" stroke="#999" stroke-width="0.9"/>
<text x="424.80" y="149.8" font-size="10.3" text-anchor="middle" fill="#262626">90</text>
<text x="332.1" y="161.5" font-size="10.8" text-anchor="middle" fill="#262626">Density (veh/ln/km)</text>
<rect x="438.3" y="23.2" width="185.0" height="115.7" fill="none" stroke="#bdbdbd" stroke-width="1.1"/>
<line x1="436.5" y1="138.90" x2="438.3" y2="138.90" stroke="#999" stroke-width="0.9"/>
<line x1="436.5" y1="125.29" x2="438.3" y2="125.29" stroke="#999" stroke-width="0.9"/>
<line x1="436.5" y1="111.68" x2="438.3" y2="111.68" stroke="#999" stroke-width="0.9"/>
<line x1="436.5" y1="98.06" x2="438.3" y2="98.06" stroke="#999" stroke-width="0.9"/>
<line x1="436.5" y1="84.45" x2="438.3" y2="84.45" stroke="#999" stroke-width="0.9"/>
<line x1="436.5" y1="70.84" x2="438.3" y2="70.84" stroke="#999" stroke-width="0.9"/>
<line x1="436.5" y1="57.23" x2="438.3" y2="57.23" stroke="#999" stroke-width="0.9"/>
<line x1="436.5" y1="43.62" x2="438.3" y2="43.62" stroke="#999" stroke-width="0.9"/>
<line x1="436.5" y1="30.01" x2="438.3" y2="30.01" stroke="#999" stroke-width="0.9"/>
<line x1="438.30" y1="138.9" x2="438.30" y2="140.7" stroke="#999" stroke-width="0.9"/>
<text x="438.30" y="149.8" font-size="10.3" text-anchor="middle" fill="#262626">0</text>
<line x1="458.90" y1="138.9" x2="458.90" y2="140.7" stroke="#999" stroke-width="0.9"/>
<text x="458.90" y="149.8" font-size="10.3" text-anchor="middle" fill="#262626">10</text>
<line x1="479.50" y1="138.9" x2="479.50" y2="140.7" stroke="#999" stroke-width="0.9"/>
<text x="479.50" y="149.8" font-size="10.3" text-anchor="middle" fill="#262626">20</text>
<line x1="500.10" y1="138.9" x2="500.10" y2="140.7" stroke="#999" stroke-width="0.9"/>
<text x="500.10" y="149.8" font-size="10.3" text-anchor="middle" fill="#262626">30</text>
<line x1="520.70" y1="138.9" x2="520.70" y2="140.7" stroke="#999" stroke-width="0.9"/>
<text x="520.70" y="149.8" font-size="10.3" text-anchor="middle" fill="#262626">40</text>
<line x1="541.30" y1="138.9" x2="541.30" y2="140.7" stroke="#999" stroke-width="0.9"/>
<text x="541.30" y="149.8" font-size="10.3" text-anchor="middle" fill="#262626">50</text>
<line x1="561.90" y1="138.9" x2="561.90" y2="140.7" stroke="#999" stroke-width="0.9"/>
<text x="561.90" y="149.8" font-size="10.3" text-anchor="middle" fill="#262626">60</text>
<line x1="582.50" y1="138.9" x2="582.50" y2="140.7" stroke="#999" stroke-width="0.9"/>
<text x="582.50" y="149.8" font-size="10.3" text-anchor="middle" fill="#262626">70</text>
<line x1="603.10" y1="138.9" x2="603.10" y2="140.7" stroke="#999" stroke-width="0.9"/>
<text x="603.10" y="149.8" font-size="10.3" text-anchor="middle" fill="#262626">80</text>
<line x1="623.70" y1="138.9" x2="623.70" y2="140.7" stroke="#999" stroke-width="0.9"/>
<text x="623.70" y="149.8" font-size="10.3" text-anchor="middle" fill="#262626">90</text>
<text x="530.8" y="161.5" font-size="10.8" text-anchor="middle" fill="#262626">Density (veh/ln/km)</text>
<text x="37.3" y="142.60" font-size="10.3" text-anchor="end" fill="#262626">0</text>
<text x="37.3" y="128.99" font-size="10.3" text-anchor="end" fill="#262626">200</text>
<text x="37.3" y="115.38" font-size="10.3" text-anchor="end" fill="#262626">400</text>
<text x="37.3" y="101.76" font-size="10.3" text-anchor="end" fill="#262626">600</text>
<text x="37.3" y="88.15" font-size="10.3" text-anchor="end" fill="#262626">800</text>
<text x="37.3" y="74.54" font-size="10.3" text-anchor="end" fill="#262626">1000</text>
<text x="37.3" y="60.93" font-size="10.3" text-anchor="end" fill="#262626">1200</text>
<text x="37.3" y="47.32" font-size="10.3" text-anchor="end" fill="#262626">1400</text>
<text x="37.3" y="33.71" font-size="10.3" text-anchor="end" fill="#262626">1600</text>
<text transform="translate(10.1,80.9) rotate(-90)" font-size="10.8" text-anchor="middle" fill="#262626">Flow (veh/hour)</text>
<text x="199.6" y="42.2" font-size="16.2" fill="#111">a.i</text>
<text x="391.3" y="42.2" font-size="15.9" fill="#111">a.ii</text>
<text x="591.2" y="40.2" font-size="15.9" fill="#111">a.iii</text>
<text x="630.2" y="32.8" font-size="9.75" fill="#262626">RHD vehicle</text>
<text x="630.2" y="45.4" font-size="9.75" fill="#262626">percentage</text>
<circle cx="638.8" cy="55.50" r="3.4" fill="#4275bf"/>
<text x="648.8" y="59.10" font-size="10" fill="#262626">0%</text>
<circle cx="638.8" cy="69.95" r="3.4" fill="#5d90c6"/>
<text x="648.8" y="73.55" font-size="10" fill="#262626">20%</text>
<circle cx="638.8" cy="84.40" r="3.4" fill="#7db79f"/>
<text x="648.8" y="88.00" font-size="10" fill="#262626">40%</text>
<circle cx="638.8" cy="98.85" r="3.4" fill="#a6ba86"/>
<text x="648.8" y="102.45" font-size="10" fill="#262626">60%</text>
<circle cx="638.8" cy="113.30" r="3.4" fill="#dfa680"/>
<text x="648.8" y="116.90" font-size="10" fill="#262626">80%</text>
<circle cx="638.8" cy="127.75" r="3.4" fill="#f98a88"/>
<text x="648.8" y="131.35" font-size="10" fill="#262626">100%</text>
<rect x="76.40" y="208.00" width="19.50" height="114.90" fill="#6b9bc3" stroke="#7f7f7f" stroke-width="1"/>
<rect x="95.90" y="229.90" width="19.50" height="93.00" fill="#8fbb8b" stroke="#7f7f7f" stroke-width="1"/>
<rect x="115.40" y="225.30" width="19.50" height="97.60" fill="#ff9a77" stroke="#7f7f7f" stroke-width="1"/>
<rect x="173.40" y="223.00" width="19.50" height="99.90" fill="#6b9bc3" stroke="#7f7f7f" stroke-width="1"/>
<rect x="192.90" y="239.20" width="19.50" height="83.70" fill="#8fbb8b" stroke="#7f7f7f" stroke-width="1"/>
<rect x="212.40" y="235.60" width="19.50" height="87.30" fill="#ff9a77" stroke="#7f7f7f" stroke-width="1"/>
<rect x="270.40" y="230.10" width="19.50" height="92.80" fill="#6b9bc3" stroke="#7f7f7f" stroke-width="1"/>
<rect x="289.90" y="246.50" width="19.50" height="76.40" fill="#8fbb8b" stroke="#7f7f7f" stroke-width="1"/>
<rect x="309.40" y="241.10" width="19.50" height="81.80" fill="#ff9a77" stroke="#7f7f7f" stroke-width="1"/>
<rect x="367.40" y="234.80" width="19.50" height="88.10" fill="#6b9bc3" stroke="#7f7f7f" stroke-width="1"/>
<rect x="386.90" y="247.10" width="19.50" height="75.80" fill="#8fbb8b" stroke="#7f7f7f" stroke-width="1"/>
<rect x="406.40" y="241.50" width="19.50" height="81.40" fill="#ff9a77" stroke="#7f7f7f" stroke-width="1"/>
<rect x="464.40" y="237.50" width="19.50" height="85.40" fill="#6b9bc3" stroke="#7f7f7f" stroke-width="1"/>
<rect x="483.90" y="250.30" width="19.50" height="72.60" fill="#8fbb8b" stroke="#7f7f7f" stroke-width="1"/>
<rect x="503.40" y="240.60" width="19.50" height="82.30" fill="#ff9a77" stroke="#7f7f7f" stroke-width="1"/>
<rect x="561.40" y="227.80" width="19.50" height="95.10" fill="#6b9bc3" stroke="#7f7f7f" stroke-width="1"/>
<rect x="580.90" y="244.20" width="19.50" height="78.70" fill="#8fbb8b" stroke="#7f7f7f" stroke-width="1"/>
<rect x="600.40" y="235.20" width="19.50" height="87.70" fill="#ff9a77" stroke="#7f7f7f" stroke-width="1"/>
<polyline points="105.7,232.3 202.8,266.1 299.6,285.4 396.6,291.6 493.5,296.3 590.4,275.7" fill="none" stroke="#2a7fba" stroke-width="1.4"/>
<circle cx="105.7" cy="232.3" r="2.8" fill="#1f77b4"/>
<circle cx="202.8" cy="266.1" r="2.8" fill="#1f77b4"/>
<circle cx="299.6" cy="285.4" r="2.8" fill="#1f77b4"/>
<circle cx="396.6" cy="291.6" r="2.8" fill="#1f77b4"/>
<circle cx="493.5" cy="296.3" r="2.8" fill="#1f77b4"/>
<circle cx="590.4" cy="275.7" r="2.8" fill="#1f77b4"/>
<line x1="49.7" y1="186.9" x2="646.4" y2="186.9" stroke="#c4c4c4" stroke-width="1.4"/>
<line x1="49.7" y1="186.9" x2="49.7" y2="322.9" stroke="#a0a0a0" stroke-width="1.1"/>
<line x1="646.4" y1="186.9" x2="646.4" y2="322.9" stroke="#a0a0a0" stroke-width="1.1"/>
<line x1="49.7" y1="322.9" x2="646.4" y2="322.9" stroke="#a0a0a0" stroke-width="1.1"/>
<line x1="46.1" y1="313.30" x2="49.7" y2="313.30" stroke="#a0a0a0" stroke-width="0.9"/>
<text x="41.6" y="316.90" font-size="10.2" text-anchor="end" fill="#262626">500</text>
<line x1="46.1" y1="288.98" x2="49.7" y2="288.98" stroke="#a0a0a0" stroke-width="0.9"/>
<text x="41.6" y="292.58" font-size="10.2" text-anchor="end" fill="#262626">750</text>
<line x1="46.1" y1="264.66" x2="49.7" y2="264.66" stroke="#a0a0a0" stroke-width="0.9"/>
<text x="41.6" y="268.26" font-size="10.2" text-anchor="end" fill="#262626">1000</text>
<line x1="46.1" y1="240.34" x2="49.7" y2="240.34" stroke="#a0a0a0" stroke-width="0.9"/>
<text x="41.6" y="243.94" font-size="10.2" text-anchor="end" fill="#262626">1250</text>
<line x1="46.1" y1="216.02" x2="49.7" y2="216.02" stroke="#a0a0a0" stroke-width="0.9"/>
<text x="41.6" y="219.62" font-size="10.2" text-anchor="end" fill="#262626">1500</text>
<line x1="46.1" y1="191.70" x2="49.7" y2="191.70" stroke="#a0a0a0" stroke-width="0.9"/>
<text x="41.6" y="195.30" font-size="10.2" text-anchor="end" fill="#262626">1750</text>
<line x1="646.4" y1="313.18" x2="650.0" y2="313.18" stroke="#a0a0a0" stroke-width="0.9"/>
<text x="653.6" y="316.78" font-size="10.2" fill="#262626">3500</text>
<line x1="646.4" y1="288.90" x2="650.0" y2="288.90" stroke="#a0a0a0" stroke-width="0.9"/>
<text x="653.6" y="292.50" font-size="10.2" fill="#262626">3750</text>
<line x1="646.4" y1="264.62" x2="650.0" y2="264.62" stroke="#a0a0a0" stroke-width="0.9"/>
<text x="653.6" y="268.23" font-size="10.2" fill="#262626">4000</text>
<line x1="646.4" y1="240.35" x2="650.0" y2="240.35" stroke="#a0a0a0" stroke-width="0.9"/>
<text x="653.6" y="243.95" font-size="10.2" fill="#262626">4250</text>
<line x1="646.4" y1="216.08" x2="650.0" y2="216.08" stroke="#a0a0a0" stroke-width="0.9"/>
<text x="653.6" y="219.68" font-size="10.2" fill="#262626">4500</text>
<line x1="646.4" y1="191.80" x2="650.0" y2="191.80" stroke="#a0a0a0" stroke-width="0.9"/>
<text x="653.6" y="195.40" font-size="10.2" fill="#262626">4750</text>
<line x1="105.65" y1="322.9" x2="105.65" y2="326.4" stroke="#a0a0a0" stroke-width="0.9"/>
<text x="105.65" y="337.5" font-size="10.2" text-anchor="middle" fill="#262626">0%</text>
<line x1="202.65" y1="322.9" x2="202.65" y2="326.4" stroke="#a0a0a0" stroke-width="0.9"/>
<text x="202.65" y="337.5" font-size="10.2" text-anchor="middle" fill="#262626">20%</text>
<line x1="299.65" y1="322.9" x2="299.65" y2="326.4" stroke="#a0a0a0" stroke-width="0.9"/>
<text x="299.65" y="337.5" font-size="10.2" text-anchor="middle" fill="#262626">40%</text>
<line x1="396.65" y1="322.9" x2="396.65" y2="326.4" stroke="#a0a0a0" stroke-width="0.9"/>
<text x="396.65" y="337.5" font-size="10.2" text-anchor="middle" fill="#262626">60%</text>
<line x1="493.65" y1="322.9" x2="493.65" y2="326.4" stroke="#a0a0a0" stroke-width="0.9"/>
<text x="493.65" y="337.5" font-size="10.2" text-anchor="middle" fill="#262626">80%</text>
<line x1="590.65" y1="322.9" x2="590.65" y2="326.4" stroke="#a0a0a0" stroke-width="0.9"/>
<text x="590.65" y="337.5" font-size="10.2" text-anchor="middle" fill="#262626">100%</text>
<text x="348" y="352.1" font-size="10.6" text-anchor="middle" fill="#262626">Percentage of RHD vehicles</text>
<text transform="translate(12.4,254.3) rotate(-90)" font-size="10.3" text-anchor="middle" fill="#262626">Capacity (veh/hour)</text>
<rect x="483.8" y="191.8" width="60" height="42.5" rx="2" fill="#fff" fill-opacity="0.85" stroke="#d8d8d8" stroke-width="0.9"/>
<rect x="487.3" y="195.30" width="19.6" height="7" fill="#6b9bc3" stroke="#7f7f7f" stroke-width="0.9"/>
<text x="514.2" y="202.40" font-size="9.45" fill="#262626">Llane</text>
<rect x="487.3" y="208.55" width="19.6" height="7" fill="#8fbb8b" stroke="#7f7f7f" stroke-width="0.9"/>
<text x="514.2" y="215.65" font-size="9.45" fill="#262626">Mlane</text>
<rect x="487.3" y="221.80" width="19.6" height="7" fill="#ff9a77" stroke="#7f7f7f" stroke-width="0.9"/>
<text x="514.2" y="228.90" font-size="9.45" fill="#262626">Rlane</text>
<rect x="549.4" y="191.8" width="92" height="15.4" rx="2" fill="#fff" fill-opacity="0.85" stroke="#d8d8d8" stroke-width="0.9"/>
<line x1="552.3" y1="199.1" x2="572.7" y2="199.1" stroke="#2a7fba" stroke-width="1.4"/>
<circle cx="562.6" cy="199.1" r="2.8" fill="#1f77b4"/>
<text x="580.3" y="202.4" font-size="9.45" fill="#262626">Total capacity</text>
</svg></body></html>
